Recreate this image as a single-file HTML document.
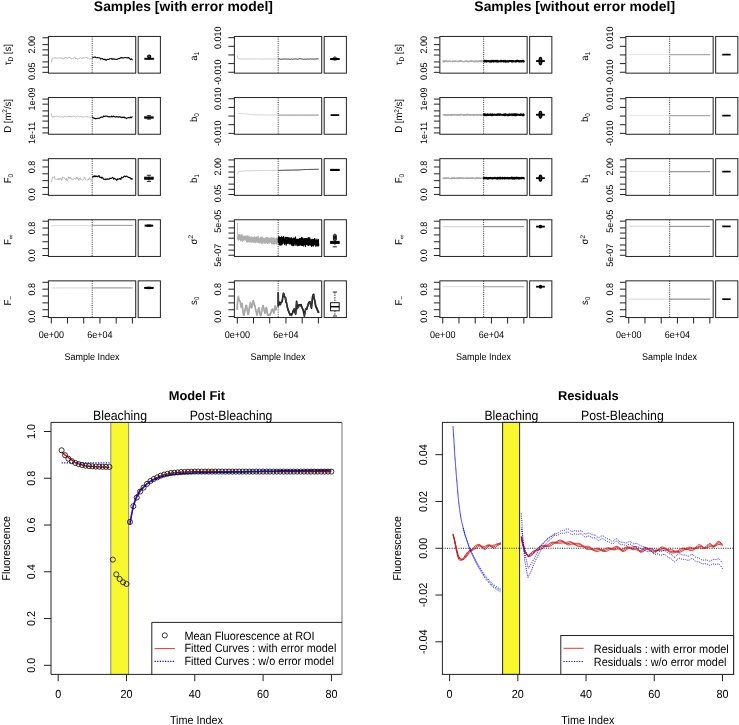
<!DOCTYPE html>
<html><head><meta charset="utf-8"><title>MCMC samples, model fit and residuals</title>
<style>
html,body{margin:0;padding:0;background:#fff;}
body{width:739px;height:725px;overflow:hidden;}
svg{display:block;will-change:transform;filter:blur(0.3px);}
text{font-family:"Liberation Sans",sans-serif;text-anchor:middle;fill:#000;text-rendering:geometricPrecision;}
</style></head>
<body>
<svg width="739" height="725" viewBox="0 0 739 725">
<rect x="0" y="0" width="739" height="725" fill="#fff"/>
<rect x="48.40" y="36.45" width="87.30" height="36.70" stroke="#222" stroke-width="1" fill="none" />
<rect x="138.20" y="36.45" width="22.20" height="36.70" stroke="#222" stroke-width="1" fill="none" />
<line x1="137.25" y1="36.95" x2="137.25" y2="72.65" stroke="#b4b4b4" stroke-width="1.0" />
<line x1="42.40" y1="37.75" x2="48.40" y2="37.75" stroke="#222" stroke-width="1" />
<line x1="42.40" y1="44.63" x2="48.40" y2="44.63" stroke="#222" stroke-width="1" />
<text transform="translate(35.20,44.63) rotate(-90) scale(1,1.05)" font-size="9.0">2.00</text>
<line x1="42.40" y1="49.84" x2="48.40" y2="49.84" stroke="#222" stroke-width="1" />
<line x1="42.40" y1="55.05" x2="48.40" y2="55.05" stroke="#222" stroke-width="1" />
<line x1="42.40" y1="61.93" x2="48.40" y2="61.93" stroke="#222" stroke-width="1" />
<line x1="42.40" y1="67.14" x2="48.40" y2="67.14" stroke="#222" stroke-width="1" />
<line x1="42.40" y1="72.35" x2="48.40" y2="72.35" stroke="#222" stroke-width="1" />
<text transform="translate(35.20,71.35) rotate(-90) scale(1,1.05)" font-size="9.0">0.05</text>
<text transform="translate(11.00,54.80) rotate(-90) scale(1,1.05)" font-size="9.5">τ<tspan font-size="6.5" dy="1.8">D</tspan><tspan dy="-1.8"> [s]</tspan></text>
<line x1="92.20" y1="36.45" x2="92.20" y2="73.15" stroke="#111" stroke-width="0.85" stroke-dasharray="1,1.2"/>
<path d="M51.5,62.2L52.0,59.0L52.5,58.4L53.0,58.5L53.6,58.1L54.1,58.1L54.6,58.2L55.1,57.4L55.6,58.2L56.1,58.5L56.7,58.1L57.2,58.1L57.7,58.4L58.2,58.2L58.7,58.1L59.2,57.5L59.7,58.1L60.3,58.2L60.8,58.3L61.3,57.6L61.8,58.6L62.3,58.5L62.8,58.2L63.3,59.2L63.9,58.8L64.4,57.9L64.9,57.9L65.4,57.0L65.9,58.0L66.4,57.9L67.0,57.7L67.5,58.4L68.0,57.6L68.5,58.1L69.0,57.2L69.5,57.3L70.0,57.2L70.6,58.3L71.1,59.0L71.6,58.6L72.1,58.8L72.6,58.5L73.1,58.7L73.7,58.2L74.2,57.4L74.7,56.9L75.2,57.6L75.7,58.9L76.2,58.8L76.7,58.3L77.3,59.2L77.8,58.9L78.3,58.7L78.8,58.6L79.3,58.4L79.8,58.2L80.4,57.6L80.9,58.1L81.4,58.1L81.9,58.7L82.4,58.4L82.9,57.5L83.4,57.7L84.0,58.7L84.5,58.3L85.0,57.9L85.5,57.5L86.0,57.3L86.5,57.6L87.0,57.3L87.6,58.4L88.1,58.2L88.6,58.3L89.1,58.9L89.6,59.3L90.1,58.8L90.7,58.7L91.2,58.9L91.7,58.5L92.2,57.6" stroke="#aaa" stroke-width="0.8" fill="none" stroke-linejoin="round" />
<path d="M92.2,57.7L92.7,57.8L93.2,57.7L93.7,57.2L94.3,57.1L94.8,57.0L95.3,57.0L95.8,57.5L96.3,57.8L96.8,57.7L97.3,57.6L97.8,57.8L98.4,57.7L98.9,57.8L99.4,57.7L99.9,57.9L100.4,59.0L100.9,59.1L101.4,58.8L101.9,58.7L102.5,58.6L103.0,59.1L103.5,59.5L104.0,59.1L104.5,59.6L105.0,59.3L105.5,59.9L106.0,59.7L106.6,60.1L107.1,59.5L107.6,59.2L108.1,59.3L108.6,59.5L109.1,59.4L109.6,58.7L110.1,58.8L110.7,58.8L111.2,58.7L111.7,58.6L112.2,59.4L112.7,59.0L113.2,58.7L113.7,59.1L114.2,59.1L114.8,59.0L115.3,59.3L115.8,59.3L116.3,59.3L116.8,59.5L117.3,59.3L117.8,58.8L118.3,58.7L118.9,58.5L119.4,58.6L119.9,58.2L120.4,57.7L120.9,58.1L121.4,57.8L121.9,57.4L122.4,57.9L123.0,57.8L123.5,58.1L124.0,57.9L124.5,57.6L125.0,57.4L125.5,57.6L126.0,57.8L126.5,57.7L127.1,57.9L127.6,57.6L128.1,58.0L128.6,57.5L129.1,58.0L129.6,58.6L130.1,59.1L130.6,59.6L131.2,58.8L131.7,59.2L132.2,59.7L132.7,59.9" stroke="#000" stroke-width="1.1" fill="none" stroke-linejoin="round" />
<rect x="144.80" y="58.25" width="8.80" height="0.90" stroke="#000" stroke-width="0.9" fill="none" />
<line x1="144.80" y1="58.75" x2="153.60" y2="58.75" stroke="#000" stroke-width="1.5" />
<circle cx="149.20" cy="56.55" r="1.5" fill="#444" stroke="#000" stroke-width="1.1"/>
<rect x="48.40" y="97.55" width="87.30" height="36.70" stroke="#222" stroke-width="1" fill="none" />
<rect x="138.20" y="97.55" width="22.20" height="36.70" stroke="#222" stroke-width="1" fill="none" />
<line x1="137.25" y1="98.05" x2="137.25" y2="133.75" stroke="#b4b4b4" stroke-width="1.0" />
<line x1="42.40" y1="99.05" x2="48.40" y2="99.05" stroke="#222" stroke-width="1" />
<text transform="translate(35.20,99.05) rotate(-90) scale(1,1.05)" font-size="9.0">1e-09</text>
<line x1="42.40" y1="104.15" x2="48.40" y2="104.15" stroke="#222" stroke-width="1" />
<line x1="42.40" y1="110.90" x2="48.40" y2="110.90" stroke="#222" stroke-width="1" />
<line x1="42.40" y1="116.00" x2="48.40" y2="116.00" stroke="#222" stroke-width="1" />
<line x1="42.40" y1="121.10" x2="48.40" y2="121.10" stroke="#222" stroke-width="1" />
<line x1="42.40" y1="127.85" x2="48.40" y2="127.85" stroke="#222" stroke-width="1" />
<line x1="42.40" y1="132.95" x2="48.40" y2="132.95" stroke="#222" stroke-width="1" />
<text transform="translate(35.20,132.95) rotate(-90) scale(1,1.05)" font-size="9.0">1e-11</text>
<text transform="translate(11.00,115.90) rotate(-90) scale(1,1.05)" font-size="9.5">D [m<tspan font-size="6.5" dy="-3.5">2</tspan><tspan dy="3.5">/s]</tspan></text>
<line x1="92.20" y1="97.55" x2="92.20" y2="134.25" stroke="#111" stroke-width="0.85" stroke-dasharray="1,1.2"/>
<path d="M51.5,113.2L52.0,117.2L52.5,117.4L53.0,116.5L53.6,116.8L54.1,117.2L54.6,116.7L55.1,116.9L55.6,116.4L56.1,116.2L56.7,116.1L57.2,116.4L57.7,116.5L58.2,117.0L58.7,116.5L59.2,116.5L59.7,117.0L60.3,117.1L60.8,116.4L61.3,116.8L61.8,116.6L62.3,116.8L62.8,116.9L63.3,117.3L63.9,117.1L64.4,116.2L64.9,115.9L65.4,116.5L65.9,116.5L66.4,117.0L67.0,117.0L67.5,116.6L68.0,117.1L68.5,116.6L69.0,115.8L69.5,117.0L70.0,116.1L70.6,116.6L71.1,117.0L71.6,116.9L72.1,116.2L72.6,116.8L73.1,116.2L73.7,115.8L74.2,116.0L74.7,116.6L75.2,116.8L75.7,117.1L76.2,116.7L76.7,116.7L77.3,116.2L77.8,116.3L78.3,116.7L78.8,116.6L79.3,116.8L79.8,116.5L80.4,116.4L80.9,116.5L81.4,116.5L81.9,116.8L82.4,116.8L82.9,117.5L83.4,117.1L84.0,116.8L84.5,116.4L85.0,116.5L85.5,116.9L86.0,116.5L86.5,116.6L87.0,116.9L87.6,116.8L88.1,116.5L88.6,117.0L89.1,116.9L89.6,117.0L90.1,117.3L90.7,117.5L91.2,117.1L91.7,116.7L92.2,116.8" stroke="#aaa" stroke-width="0.8" fill="none" stroke-linejoin="round" />
<path d="M92.2,117.5L92.7,117.1L93.2,117.9L93.7,118.1L94.3,118.4L94.8,118.1L95.3,118.8L95.8,118.6L96.3,118.8L96.8,118.4L97.3,118.4L97.8,118.3L98.4,118.2L98.9,118.2L99.4,118.0L99.9,118.1L100.4,117.6L100.9,117.1L101.4,117.0L101.9,117.1L102.5,117.2L103.0,117.1L103.5,116.1L104.0,116.2L104.5,116.5L105.0,116.2L105.5,116.0L106.0,116.2L106.6,116.1L107.1,116.4L107.6,116.4L108.1,116.9L108.6,116.8L109.1,116.5L109.6,116.8L110.1,117.0L110.7,116.8L111.2,116.7L111.7,116.1L112.2,116.9L112.7,116.8L113.2,116.3L113.7,116.1L114.2,116.5L114.8,116.9L115.3,116.9L115.8,117.1L116.3,116.7L116.8,116.4L117.3,116.9L117.8,117.0L118.3,116.9L118.9,117.2L119.4,116.7L119.9,116.6L120.4,117.0L120.9,117.4L121.4,117.2L121.9,117.7L122.4,117.3L123.0,117.4L123.5,117.4L124.0,117.0L124.5,117.5L125.0,118.0L125.5,117.9L126.0,118.0L126.5,118.6L127.1,118.1L127.6,117.8L128.1,117.7L128.6,117.4L129.1,117.9L129.6,117.8L130.1,117.3L130.6,117.1L131.2,117.9L131.7,117.2L132.2,116.8L132.7,116.8" stroke="#000" stroke-width="1.1" fill="none" stroke-linejoin="round" />
<rect x="144.60" y="116.85" width="8.60" height="1.30" stroke="#000" stroke-width="0.9" fill="none" />
<line x1="144.60" y1="117.55" x2="153.20" y2="117.55" stroke="#000" stroke-width="1.4" />
<line x1="148.90" y1="115.65" x2="148.90" y2="116.85" stroke="#000" stroke-width="0.8" stroke-dasharray="1.5,1"/>
<line x1="146.75" y1="115.65" x2="151.05" y2="115.65" stroke="#000" stroke-width="0.8" />
<line x1="148.90" y1="118.15" x2="148.90" y2="119.15" stroke="#000" stroke-width="0.8" stroke-dasharray="1.5,1"/>
<line x1="146.75" y1="119.15" x2="151.05" y2="119.15" stroke="#000" stroke-width="0.8" />
<rect x="48.40" y="158.65" width="87.30" height="36.70" stroke="#222" stroke-width="1" fill="none" />
<rect x="138.20" y="158.65" width="22.20" height="36.70" stroke="#222" stroke-width="1" fill="none" />
<line x1="137.25" y1="159.15" x2="137.25" y2="194.85" stroke="#b4b4b4" stroke-width="1.0" />
<line x1="42.40" y1="194.40" x2="48.40" y2="194.40" stroke="#222" stroke-width="1" />
<text transform="translate(35.20,194.40) rotate(-90) scale(1,1.05)" font-size="9.0">0.0</text>
<line x1="42.40" y1="187.54" x2="48.40" y2="187.54" stroke="#222" stroke-width="1" />
<line x1="42.40" y1="180.68" x2="48.40" y2="180.68" stroke="#222" stroke-width="1" />
<line x1="42.40" y1="173.82" x2="48.40" y2="173.82" stroke="#222" stroke-width="1" />
<line x1="42.40" y1="166.96" x2="48.40" y2="166.96" stroke="#222" stroke-width="1" />
<text transform="translate(35.20,166.96) rotate(-90) scale(1,1.05)" font-size="9.0">0.8</text>
<line x1="42.40" y1="160.10" x2="48.40" y2="160.10" stroke="#222" stroke-width="1" />
<text transform="translate(11.00,178.60) rotate(-90) scale(1,1.05)" font-size="9.5">F<tspan font-size="6.5" dy="1.8">0</tspan></text>
<line x1="92.20" y1="158.65" x2="92.20" y2="195.35" stroke="#111" stroke-width="0.85" stroke-dasharray="1,1.2"/>
<path d="M51.5,182.2L52.0,179.7L52.5,177.9L53.0,176.7L53.6,177.5L54.1,177.6L54.6,176.5L55.1,179.1L55.6,179.5L56.1,179.0L56.7,179.2L57.2,180.0L57.7,179.5L58.2,178.6L58.7,179.8L59.2,178.3L59.7,179.5L60.3,178.0L60.8,178.8L61.3,178.8L61.8,180.3L62.3,178.0L62.8,177.0L63.3,177.4L63.9,177.0L64.4,177.5L64.9,178.5L65.4,179.1L65.9,180.1L66.4,178.2L67.0,180.9L67.5,180.9L68.0,178.9L68.5,176.7L69.0,178.3L69.5,178.8L70.0,176.9L70.6,178.6L71.1,178.8L71.6,178.4L72.1,179.6L72.6,180.1L73.1,178.9L73.7,179.3L74.2,178.5L74.7,178.3L75.2,179.0L75.7,179.5L76.2,178.6L76.7,177.0L77.3,179.1L77.8,177.6L78.3,178.8L78.8,180.5L79.3,179.3L79.8,177.9L80.4,177.5L80.9,179.9L81.4,179.4L81.9,179.8L82.4,180.4L82.9,179.7L83.4,179.4L84.0,178.8L84.5,176.9L85.0,178.0L85.5,179.6L86.0,179.9L86.5,180.3L87.0,179.8L87.6,179.9L88.1,180.3L88.6,178.8L89.1,178.9L89.6,177.6L90.1,179.6L90.7,179.0L91.2,179.2L91.7,180.1L92.2,179.7" stroke="#aaa" stroke-width="0.8" fill="none" stroke-linejoin="round" />
<path d="M92.2,176.8L92.7,177.1L93.2,176.1L93.7,176.6L94.3,176.6L94.8,175.7L95.3,176.8L95.8,176.1L96.3,176.5L96.8,176.1L97.3,176.6L97.8,176.9L98.4,175.9L98.9,175.6L99.4,176.4L99.9,177.4L100.4,177.3L100.9,177.3L101.4,178.1L101.9,177.0L102.5,177.9L103.0,178.1L103.5,179.2L104.0,179.2L104.5,179.3L105.0,179.6L105.5,179.0L106.0,179.4L106.6,179.1L107.1,179.1L107.6,178.8L108.1,179.4L108.6,179.0L109.1,179.0L109.6,178.9L110.1,178.1L110.7,178.5L111.2,178.4L111.7,178.2L112.2,177.7L112.7,177.4L113.2,178.1L113.7,179.2L114.2,178.3L114.8,178.8L115.3,178.7L115.8,179.5L116.3,179.7L116.8,180.3L117.3,178.7L117.8,179.4L118.3,179.1L118.9,179.3L119.4,178.8L119.9,178.5L120.4,178.9L120.9,179.5L121.4,177.1L121.9,177.5L122.4,177.7L123.0,177.5L123.5,177.0L124.0,176.2L124.5,176.0L125.0,176.6L125.5,176.7L126.0,176.3L126.5,176.0L127.1,176.5L127.6,176.7L128.1,177.3L128.6,177.4L129.1,177.3L129.6,177.8L130.1,177.5L130.6,178.5L131.2,179.2L131.7,178.4L132.2,179.1L132.7,178.8" stroke="#000" stroke-width="1.1" fill="none" stroke-linejoin="round" />
<rect x="144.60" y="177.15" width="8.60" height="2.10" stroke="#000" stroke-width="0.9" fill="none" />
<line x1="144.60" y1="178.25" x2="153.20" y2="178.25" stroke="#000" stroke-width="2.0" />
<line x1="148.90" y1="175.25" x2="148.90" y2="177.15" stroke="#000" stroke-width="0.8" stroke-dasharray="1.5,1"/>
<line x1="146.75" y1="175.25" x2="151.05" y2="175.25" stroke="#000" stroke-width="0.8" />
<line x1="148.90" y1="179.25" x2="148.90" y2="181.45" stroke="#000" stroke-width="0.8" stroke-dasharray="1.5,1"/>
<line x1="146.75" y1="181.45" x2="151.05" y2="181.45" stroke="#000" stroke-width="0.8" />
<rect x="48.40" y="219.75" width="87.30" height="36.70" stroke="#222" stroke-width="1" fill="none" />
<rect x="138.20" y="219.75" width="22.20" height="36.70" stroke="#222" stroke-width="1" fill="none" />
<line x1="137.25" y1="220.25" x2="137.25" y2="255.95" stroke="#b4b4b4" stroke-width="1.0" />
<line x1="42.40" y1="255.50" x2="48.40" y2="255.50" stroke="#222" stroke-width="1" />
<text transform="translate(35.20,255.50) rotate(-90) scale(1,1.05)" font-size="9.0">0.0</text>
<line x1="42.40" y1="248.64" x2="48.40" y2="248.64" stroke="#222" stroke-width="1" />
<line x1="42.40" y1="241.78" x2="48.40" y2="241.78" stroke="#222" stroke-width="1" />
<line x1="42.40" y1="234.92" x2="48.40" y2="234.92" stroke="#222" stroke-width="1" />
<line x1="42.40" y1="228.06" x2="48.40" y2="228.06" stroke="#222" stroke-width="1" />
<text transform="translate(35.20,228.06) rotate(-90) scale(1,1.05)" font-size="9.0">0.8</text>
<line x1="42.40" y1="221.20" x2="48.40" y2="221.20" stroke="#222" stroke-width="1" />
<text transform="translate(11.00,239.70) rotate(-90) scale(1,1.05)" font-size="9.5">F<tspan font-size="6.5" dy="1.8">∞</tspan></text>
<line x1="92.20" y1="219.75" x2="92.20" y2="256.45" stroke="#111" stroke-width="0.85" stroke-dasharray="1,1.2"/>
<path d="M51.5,226.6L52.0,225.7L52.5,225.7L53.0,225.7L53.6,225.7L54.1,225.7L54.6,225.7L55.1,225.7L55.6,225.7L56.1,225.7L56.7,225.7L57.2,225.7L57.7,225.7L58.2,225.7L58.7,225.7L59.2,225.7L59.7,225.7L60.3,225.7L60.8,225.7L61.3,225.7L61.8,225.7L62.3,225.7L62.8,225.7L63.3,225.7L63.9,225.7L64.4,225.7L64.9,225.7L65.4,225.7L65.9,225.7L66.4,225.7L67.0,225.7L67.5,225.7L68.0,225.7L68.5,225.7L69.0,225.7L69.5,225.7L70.0,225.7L70.6,225.7L71.1,225.7L71.6,225.7L72.1,225.7L72.6,225.7L73.1,225.7L73.7,225.7L74.2,225.7L74.7,225.7L75.2,225.7L75.7,225.7L76.2,225.7L76.7,225.7L77.3,225.7L77.8,225.7L78.3,225.7L78.8,225.7L79.3,225.7L79.8,225.7L80.4,225.7L80.9,225.7L81.4,225.7L81.9,225.7L82.4,225.7L82.9,225.7L83.4,225.7L84.0,225.7L84.5,225.7L85.0,225.7L85.5,225.7L86.0,225.7L86.5,225.7L87.0,225.7L87.6,225.7L88.1,225.7L88.6,225.7L89.1,225.7L89.6,225.7L90.1,225.7L90.7,225.7L91.2,225.7L91.7,225.7L92.2,225.7" stroke="#c8c8c8" stroke-width="0.8" fill="none" stroke-linejoin="round" />
<path d="M92.2,225.4L92.7,225.4L93.2,225.4L93.7,225.4L94.3,225.4L94.8,225.4L95.3,225.4L95.8,225.4L96.3,225.4L96.8,225.4L97.3,225.4L97.8,225.4L98.4,225.4L98.9,225.4L99.4,225.4L99.9,225.4L100.4,225.4L100.9,225.4L101.4,225.4L101.9,225.4L102.5,225.4L103.0,225.4L103.5,225.4L104.0,225.4L104.5,225.4L105.0,225.4L105.5,225.4L106.0,225.4L106.6,225.4L107.1,225.4L107.6,225.4L108.1,225.4L108.6,225.4L109.1,225.4L109.6,225.4L110.1,225.4L110.7,225.4L111.2,225.4L111.7,225.4L112.2,225.4L112.7,225.4L113.2,225.4L113.7,225.4L114.2,225.4L114.8,225.4L115.3,225.4L115.8,225.4L116.3,225.4L116.8,225.4L117.3,225.4L117.8,225.4L118.3,225.4L118.9,225.4L119.4,225.4L119.9,225.4L120.4,225.4L120.9,225.4L121.4,225.4L121.9,225.4L122.4,225.4L123.0,225.4L123.5,225.4L124.0,225.4L124.5,225.4L125.0,225.4L125.5,225.4L126.0,225.4L126.5,225.4L127.1,225.4L127.6,225.4L128.1,225.4L128.6,225.4L129.1,225.4L129.6,225.4L130.1,225.4L130.6,225.4L131.2,225.4L131.7,225.4L132.2,225.4L132.7,225.4" stroke="#777" stroke-width="1.0" fill="none" stroke-linejoin="round" />
<line x1="144.60" y1="225.65" x2="153.20" y2="225.65" stroke="#000" stroke-width="2.0" />
<line x1="148.90" y1="224.95" x2="148.90" y2="225.35" stroke="#000" stroke-width="0.8" stroke-dasharray="1.5,1"/>
<line x1="146.75" y1="224.95" x2="151.05" y2="224.95" stroke="#000" stroke-width="0.8" />
<line x1="148.90" y1="225.95" x2="148.90" y2="226.35" stroke="#000" stroke-width="0.8" stroke-dasharray="1.5,1"/>
<line x1="146.75" y1="226.35" x2="151.05" y2="226.35" stroke="#000" stroke-width="0.8" />
<rect x="48.40" y="280.85" width="87.30" height="36.70" stroke="#222" stroke-width="1" fill="none" />
<rect x="138.20" y="280.85" width="22.20" height="36.70" stroke="#222" stroke-width="1" fill="none" />
<line x1="137.25" y1="281.35" x2="137.25" y2="317.05" stroke="#b4b4b4" stroke-width="1.0" />
<line x1="42.40" y1="316.60" x2="48.40" y2="316.60" stroke="#222" stroke-width="1" />
<text transform="translate(35.20,316.60) rotate(-90) scale(1,1.05)" font-size="9.0">0.0</text>
<line x1="42.40" y1="309.74" x2="48.40" y2="309.74" stroke="#222" stroke-width="1" />
<line x1="42.40" y1="302.88" x2="48.40" y2="302.88" stroke="#222" stroke-width="1" />
<line x1="42.40" y1="296.02" x2="48.40" y2="296.02" stroke="#222" stroke-width="1" />
<line x1="42.40" y1="289.16" x2="48.40" y2="289.16" stroke="#222" stroke-width="1" />
<text transform="translate(35.20,289.16) rotate(-90) scale(1,1.05)" font-size="9.0">0.8</text>
<line x1="42.40" y1="282.30" x2="48.40" y2="282.30" stroke="#222" stroke-width="1" />
<text transform="translate(11.00,300.80) rotate(-90) scale(1,1.05)" font-size="9.5">F<tspan font-size="6.5" dy="1.8">−</tspan></text>
<line x1="92.20" y1="280.85" x2="92.20" y2="317.55" stroke="#111" stroke-width="0.85" stroke-dasharray="1,1.2"/>
<line x1="51.30" y1="317.55" x2="51.30" y2="323.55" stroke="#222" stroke-width="1" />
<line x1="67.52" y1="317.55" x2="67.52" y2="323.55" stroke="#222" stroke-width="1" />
<line x1="83.74" y1="317.55" x2="83.74" y2="323.55" stroke="#222" stroke-width="1" />
<line x1="99.96" y1="317.55" x2="99.96" y2="323.55" stroke="#222" stroke-width="1" />
<line x1="116.18" y1="317.55" x2="116.18" y2="323.55" stroke="#222" stroke-width="1" />
<line x1="132.40" y1="317.55" x2="132.40" y2="323.55" stroke="#222" stroke-width="1" />
<text transform="translate(51.30,337.60) scale(1,1.09)" font-size="9.0">0e+00</text>
<text transform="translate(99.96,337.60) scale(1,1.09)" font-size="9.0">6e+04</text>
<text transform="translate(92.10,359.60) scale(1,1.09)" font-size="9.0">Sample Index</text>
<path d="M51.5,287.9L52.0,287.9L52.5,287.9L53.0,287.9L53.6,287.9L54.1,287.9L54.6,287.9L55.1,287.9L55.6,287.9L56.1,287.9L56.7,287.9L57.2,287.9L57.7,287.9L58.2,287.9L58.7,287.9L59.2,287.9L59.7,287.9L60.3,287.9L60.8,287.9L61.3,287.9L61.8,287.9L62.3,287.9L62.8,287.9L63.3,287.9L63.9,287.9L64.4,287.9L64.9,287.9L65.4,287.9L65.9,287.9L66.4,287.9L67.0,287.9L67.5,287.9L68.0,287.9L68.5,287.9L69.0,287.9L69.5,287.9L70.0,287.9L70.6,287.9L71.1,287.9L71.6,287.9L72.1,287.9L72.6,287.9L73.1,287.9L73.7,287.9L74.2,287.9L74.7,287.9L75.2,287.9L75.7,287.9L76.2,287.9L76.7,287.9L77.3,287.9L77.8,287.9L78.3,287.9L78.8,287.9L79.3,287.9L79.8,287.9L80.4,287.9L80.9,287.9L81.4,287.9L81.9,287.9L82.4,287.9L82.9,287.9L83.4,287.9L84.0,287.9L84.5,287.9L85.0,287.9L85.5,287.9L86.0,287.9L86.5,287.9L87.0,287.9L87.6,287.9L88.1,287.9L88.6,287.9L89.1,287.9L89.6,287.9L90.1,287.9L90.7,287.9L91.2,287.9L91.7,287.9L92.2,287.9" stroke="#c8c8c8" stroke-width="0.8" fill="none" stroke-linejoin="round" />
<path d="M92.2,287.9L92.7,287.9L93.2,287.9L93.7,287.9L94.3,287.9L94.8,287.9L95.3,287.9L95.8,287.9L96.3,287.9L96.8,287.9L97.3,287.9L97.8,287.9L98.4,287.9L98.9,287.9L99.4,287.9L99.9,287.9L100.4,287.9L100.9,287.9L101.4,287.9L101.9,287.9L102.5,287.9L103.0,287.9L103.5,287.9L104.0,287.9L104.5,287.9L105.0,287.9L105.5,287.9L106.0,287.9L106.6,287.9L107.1,287.9L107.6,287.9L108.1,287.9L108.6,287.9L109.1,287.9L109.6,287.9L110.1,287.9L110.7,287.9L111.2,287.9L111.7,287.9L112.2,287.9L112.7,287.9L113.2,287.9L113.7,287.9L114.2,287.9L114.8,287.9L115.3,287.9L115.8,287.9L116.3,287.9L116.8,287.9L117.3,287.9L117.8,287.9L118.3,287.9L118.9,287.9L119.4,287.9L119.9,287.9L120.4,287.9L120.9,287.9L121.4,287.9L121.9,287.9L122.4,287.9L123.0,287.9L123.5,287.9L124.0,287.9L124.5,287.9L125.0,287.9L125.5,287.9L126.0,287.9L126.5,287.9L127.1,287.9L127.6,287.9L128.1,287.9L128.6,287.9L129.1,287.9L129.6,287.9L130.1,287.9L130.6,287.9L131.2,287.9L131.7,287.9L132.2,287.9L132.7,287.9" stroke="#777" stroke-width="1.0" fill="none" stroke-linejoin="round" />
<rect x="144.60" y="287.55" width="8.60" height="0.70" stroke="#000" stroke-width="0.9" fill="none" />
<line x1="144.60" y1="287.90" x2="153.20" y2="287.90" stroke="#000" stroke-width="2.0" />
<line x1="148.90" y1="287.15" x2="148.90" y2="287.55" stroke="#000" stroke-width="0.8" stroke-dasharray="1.5,1"/>
<line x1="146.75" y1="287.15" x2="151.05" y2="287.15" stroke="#000" stroke-width="0.8" />
<line x1="148.90" y1="288.25" x2="148.90" y2="288.65" stroke="#000" stroke-width="0.8" stroke-dasharray="1.5,1"/>
<line x1="146.75" y1="288.65" x2="151.05" y2="288.65" stroke="#000" stroke-width="0.8" />
<rect x="234.40" y="36.45" width="87.30" height="36.70" stroke="#222" stroke-width="1" fill="none" />
<rect x="324.20" y="36.45" width="22.20" height="36.70" stroke="#222" stroke-width="1" fill="none" />
<line x1="323.25" y1="36.95" x2="323.25" y2="72.65" stroke="#b4b4b4" stroke-width="1.0" />
<line x1="228.40" y1="37.65" x2="234.40" y2="37.65" stroke="#222" stroke-width="1" />
<text transform="translate(221.20,37.65) rotate(-90) scale(1,1.05)" font-size="9.0">0.010</text>
<line x1="228.40" y1="46.30" x2="234.40" y2="46.30" stroke="#222" stroke-width="1" />
<line x1="228.40" y1="54.95" x2="234.40" y2="54.95" stroke="#222" stroke-width="1" />
<line x1="228.40" y1="63.60" x2="234.40" y2="63.60" stroke="#222" stroke-width="1" />
<line x1="228.40" y1="72.25" x2="234.40" y2="72.25" stroke="#222" stroke-width="1" />
<text transform="translate(221.20,72.25) rotate(-90) scale(1,1.05)" font-size="9.0">-0.010</text>
<text transform="translate(197.00,56.40) rotate(-90) scale(1,1.05)" font-size="9.5">a<tspan font-size="6.5" dy="1.8">1</tspan></text>
<line x1="278.20" y1="36.45" x2="278.20" y2="73.15" stroke="#111" stroke-width="0.85" stroke-dasharray="1,1.2"/>
<path d="M237.5,55.7L238.0,58.7L238.5,59.0L239.0,59.1L239.6,59.0L240.1,58.9L240.6,58.9L241.1,59.0L241.6,59.0L242.1,59.0L242.7,58.9L243.2,59.1L243.7,59.1L244.2,59.0L244.7,58.9L245.2,59.0L245.7,59.1L246.3,59.0L246.8,58.9L247.3,59.0L247.8,59.1L248.3,58.9L248.8,59.0L249.3,59.0L249.9,58.9L250.4,59.0L250.9,58.9L251.4,59.0L251.9,59.1L252.4,59.1L253.0,58.9L253.5,58.8L254.0,58.8L254.5,58.8L255.0,59.1L255.5,59.0L256.0,58.9L256.6,58.8L257.1,58.8L257.6,58.9L258.1,58.8L258.6,59.1L259.1,59.0L259.7,58.9L260.2,59.0L260.7,59.1L261.2,59.2L261.7,59.0L262.2,59.0L262.7,59.0L263.3,59.1L263.8,59.0L264.3,58.9L264.8,58.8L265.3,59.0L265.8,58.9L266.4,59.1L266.9,59.0L267.4,58.9L267.9,58.9L268.4,58.9L268.9,59.0L269.4,59.1L270.0,58.9L270.5,58.8L271.0,59.0L271.5,59.0L272.0,59.0L272.5,59.0L273.0,59.0L273.6,59.1L274.1,58.9L274.6,59.0L275.1,58.9L275.6,58.9L276.1,59.0L276.7,59.1L277.2,58.8L277.7,58.8L278.2,59.0" stroke="#bbb" stroke-width="0.8" fill="none" stroke-linejoin="round" />
<path d="M278.2,59.2L278.7,58.9L279.2,59.0L279.7,58.8L280.3,59.3L280.8,59.2L281.3,59.2L281.8,59.2L282.3,59.2L282.8,59.1L283.3,59.0L283.8,59.1L284.4,59.0L284.9,59.2L285.4,59.0L285.9,58.9L286.4,59.1L286.9,59.2L287.4,59.1L287.9,58.9L288.5,59.0L289.0,58.9L289.5,59.3L290.0,59.2L290.5,59.3L291.0,59.1L291.5,59.0L292.0,59.2L292.6,59.3L293.1,59.2L293.6,59.0L294.1,59.2L294.6,59.0L295.1,59.1L295.6,58.9L296.1,58.8L296.7,59.0L297.2,59.1L297.7,59.3L298.2,59.0L298.7,59.0L299.2,58.8L299.7,58.7L300.2,58.6L300.8,59.0L301.3,58.8L301.8,59.1L302.3,59.2L302.8,59.0L303.3,59.3L303.8,59.1L304.3,59.2L304.9,59.0L305.4,59.2L305.9,58.9L306.4,59.1L306.9,59.0L307.4,59.0L307.9,59.1L308.4,59.1L309.0,59.0L309.5,59.1L310.0,59.2L310.5,58.8L311.0,59.0L311.5,59.1L312.0,58.9L312.5,59.0L313.1,58.8L313.6,59.2L314.1,59.0L314.6,59.0L315.1,59.2L315.6,59.0L316.1,59.1L316.6,58.9L317.2,58.9L317.7,58.8L318.2,58.9L318.7,59.1" stroke="#1a1a1a" stroke-width="0.9" fill="none" stroke-linejoin="round" />
<rect x="330.60" y="58.55" width="8.60" height="0.90" stroke="#000" stroke-width="0.9" fill="none" />
<line x1="330.60" y1="59.00" x2="339.20" y2="59.00" stroke="#000" stroke-width="2.0" />
<line x1="334.90" y1="58.15" x2="334.90" y2="58.55" stroke="#000" stroke-width="0.8" stroke-dasharray="1.5,1"/>
<line x1="332.75" y1="58.15" x2="337.05" y2="58.15" stroke="#000" stroke-width="0.8" />
<line x1="334.90" y1="59.45" x2="334.90" y2="59.85" stroke="#000" stroke-width="0.8" stroke-dasharray="1.5,1"/>
<line x1="332.75" y1="59.85" x2="337.05" y2="59.85" stroke="#000" stroke-width="0.8" />
<circle cx="334.90" cy="58.45" r="1.5" fill="none" stroke="#000" stroke-width="0.8"/>
<rect x="234.40" y="97.55" width="87.30" height="36.70" stroke="#222" stroke-width="1" fill="none" />
<rect x="324.20" y="97.55" width="22.20" height="36.70" stroke="#222" stroke-width="1" fill="none" />
<line x1="323.25" y1="98.05" x2="323.25" y2="133.75" stroke="#b4b4b4" stroke-width="1.0" />
<line x1="228.40" y1="98.75" x2="234.40" y2="98.75" stroke="#222" stroke-width="1" />
<text transform="translate(221.20,98.75) rotate(-90) scale(1,1.05)" font-size="9.0">0.010</text>
<line x1="228.40" y1="107.40" x2="234.40" y2="107.40" stroke="#222" stroke-width="1" />
<line x1="228.40" y1="116.05" x2="234.40" y2="116.05" stroke="#222" stroke-width="1" />
<line x1="228.40" y1="124.70" x2="234.40" y2="124.70" stroke="#222" stroke-width="1" />
<line x1="228.40" y1="133.35" x2="234.40" y2="133.35" stroke="#222" stroke-width="1" />
<text transform="translate(221.20,133.35) rotate(-90) scale(1,1.05)" font-size="9.0">-0.010</text>
<text transform="translate(197.00,117.50) rotate(-90) scale(1,1.05)" font-size="9.5">b<tspan font-size="6.5" dy="1.8">0</tspan></text>
<line x1="278.20" y1="97.55" x2="278.20" y2="134.25" stroke="#111" stroke-width="0.85" stroke-dasharray="1,1.2"/>
<path d="M237.5,113.5L238.0,113.5L238.5,113.5L239.0,113.5L239.6,113.6L240.1,113.6L240.6,113.6L241.1,113.6L241.6,113.7L242.1,113.7L242.7,113.7L243.2,113.7L243.7,113.8L244.2,113.8L244.7,113.9L245.2,113.9L245.7,114.0L246.3,114.0L246.8,114.1L247.3,114.1L247.8,114.2L248.3,114.3L248.8,114.3L249.3,114.4L249.9,114.4L250.4,114.5L250.9,114.5L251.4,114.6L251.9,114.6L252.4,114.7L253.0,114.8L253.5,114.8L254.0,114.9L254.5,114.9L255.0,114.9L255.5,114.9L256.0,114.9L256.6,114.9L257.1,114.9L257.6,114.9L258.1,114.9L258.6,114.9L259.1,114.9L259.7,114.9L260.2,114.9L260.7,114.9L261.2,114.9L261.7,114.9L262.2,114.9L262.7,114.9L263.3,114.9L263.8,114.9L264.3,114.9L264.8,114.9L265.3,114.9L265.8,114.9L266.4,115.0L266.9,115.0L267.4,115.0L267.9,115.0L268.4,115.0L268.9,115.0L269.4,115.0L270.0,115.0L270.5,115.0L271.0,115.0L271.5,115.0L272.0,115.0L272.5,115.0L273.0,115.0L273.6,115.0L274.1,115.0L274.6,115.0L275.1,115.0L275.6,115.0L276.1,115.0L276.7,115.0L277.2,115.0L277.7,115.0L278.2,115.1" stroke="#c8c8c8" stroke-width="0.8" fill="none" stroke-linejoin="round" />
<path d="M278.2,115.1L278.7,115.1L279.2,115.1L279.7,115.1L280.3,115.1L280.8,115.1L281.3,115.1L281.8,115.1L282.3,115.1L282.8,115.1L283.3,115.1L283.8,115.1L284.4,115.1L284.9,115.1L285.4,115.1L285.9,115.1L286.4,115.1L286.9,115.1L287.4,115.1L287.9,115.1L288.5,115.1L289.0,115.1L289.5,115.1L290.0,115.1L290.5,115.1L291.0,115.1L291.5,115.1L292.0,115.1L292.6,115.1L293.1,115.1L293.6,115.1L294.1,115.1L294.6,115.1L295.1,115.1L295.6,115.1L296.1,115.1L296.7,115.1L297.2,115.1L297.7,115.1L298.2,115.1L298.7,115.1L299.2,115.1L299.7,115.1L300.2,115.1L300.8,115.1L301.3,115.1L301.8,115.1L302.3,115.1L302.8,115.1L303.3,115.1L303.8,115.1L304.3,115.1L304.9,115.1L305.4,115.1L305.9,115.1L306.4,115.1L306.9,115.1L307.4,115.1L307.9,115.1L308.4,115.1L309.0,115.1L309.5,115.1L310.0,115.1L310.5,115.1L311.0,115.1L311.5,115.1L312.0,115.1L312.5,115.1L313.1,115.1L313.6,115.1L314.1,115.1L314.6,115.1L315.1,115.1L315.6,115.1L316.1,115.1L316.6,115.1L317.2,115.1L317.7,115.1L318.2,115.1L318.7,115.1" stroke="#777" stroke-width="1.0" fill="none" stroke-linejoin="round" />
<line x1="330.60" y1="115.10" x2="339.20" y2="115.10" stroke="#000" stroke-width="1.7999999999999998" />
<rect x="234.40" y="158.65" width="87.30" height="36.70" stroke="#222" stroke-width="1" fill="none" />
<rect x="324.20" y="158.65" width="22.20" height="36.70" stroke="#222" stroke-width="1" fill="none" />
<line x1="323.25" y1="159.15" x2="323.25" y2="194.85" stroke="#b4b4b4" stroke-width="1.0" />
<line x1="228.40" y1="159.95" x2="234.40" y2="159.95" stroke="#222" stroke-width="1" />
<line x1="228.40" y1="166.83" x2="234.40" y2="166.83" stroke="#222" stroke-width="1" />
<text transform="translate(221.20,166.83) rotate(-90) scale(1,1.05)" font-size="9.0">2.00</text>
<line x1="228.40" y1="172.04" x2="234.40" y2="172.04" stroke="#222" stroke-width="1" />
<line x1="228.40" y1="177.25" x2="234.40" y2="177.25" stroke="#222" stroke-width="1" />
<line x1="228.40" y1="184.13" x2="234.40" y2="184.13" stroke="#222" stroke-width="1" />
<line x1="228.40" y1="189.34" x2="234.40" y2="189.34" stroke="#222" stroke-width="1" />
<line x1="228.40" y1="194.55" x2="234.40" y2="194.55" stroke="#222" stroke-width="1" />
<text transform="translate(221.20,193.55) rotate(-90) scale(1,1.05)" font-size="9.0">0.05</text>
<text transform="translate(197.00,178.60) rotate(-90) scale(1,1.05)" font-size="9.5">b<tspan font-size="6.5" dy="1.8">1</tspan></text>
<line x1="278.20" y1="158.65" x2="278.20" y2="195.35" stroke="#111" stroke-width="0.85" stroke-dasharray="1,1.2"/>
<path d="M237.5,174.2L238.0,173.1L238.5,171.9L239.0,171.4L239.6,171.4L240.1,171.3L240.6,171.3L241.1,171.2L241.6,171.2L242.1,171.2L242.7,171.1L243.2,171.1L243.7,171.0L244.2,171.0L244.7,170.9L245.2,170.9L245.7,170.8L246.3,170.8L246.8,170.8L247.3,170.8L247.8,170.8L248.3,170.8L248.8,170.8L249.3,170.8L249.9,170.7L250.4,170.7L250.9,170.7L251.4,170.7L251.9,170.7L252.4,170.7L253.0,170.7L253.5,170.7L254.0,170.6L254.5,170.6L255.0,170.6L255.5,170.6L256.0,170.6L256.6,170.6L257.1,170.6L257.6,170.6L258.1,170.5L258.6,170.5L259.1,170.5L259.7,170.5L260.2,170.5L260.7,170.5L261.2,170.5L261.7,170.5L262.2,170.5L262.7,170.5L263.3,170.5L263.8,170.5L264.3,170.5L264.8,170.5L265.3,170.5L265.8,170.5L266.4,170.5L266.9,170.5L267.4,170.5L267.9,170.5L268.4,170.5L268.9,170.5L269.4,170.5L270.0,170.5L270.5,170.5L271.0,170.5L271.5,170.4L272.0,170.4L272.5,170.4L273.0,170.4L273.6,170.4L274.1,170.4L274.6,170.4L275.1,170.4L275.6,170.4L276.1,170.4L276.7,170.4L277.2,170.4L277.7,170.4L278.2,170.4" stroke="#c0c0c0" stroke-width="0.8" fill="none" stroke-linejoin="round" />
<path d="M278.2,170.4L278.7,170.4L279.2,170.4L279.7,170.4L280.3,170.4L280.8,170.3L281.3,170.3L281.8,170.3L282.3,170.3L282.8,170.3L283.3,170.3L283.8,170.3L284.4,170.3L284.9,170.3L285.4,170.2L285.9,170.2L286.4,170.2L286.9,170.2L287.4,170.2L287.9,170.2L288.5,170.2L289.0,170.2L289.5,170.1L290.0,170.1L290.5,170.1L291.0,170.1L291.5,170.1L292.0,170.1L292.6,170.1L293.1,170.1L293.6,170.1L294.1,170.0L294.6,170.0L295.1,170.0L295.6,170.0L296.1,170.0L296.7,170.0L297.2,170.0L297.7,170.0L298.2,170.0L298.7,169.9L299.2,169.9L299.7,169.9L300.2,169.8L300.8,169.8L301.3,169.8L301.8,169.7L302.3,169.7L302.8,169.7L303.3,169.6L303.8,169.6L304.3,169.6L304.9,169.5L305.4,169.5L305.9,169.5L306.4,169.5L306.9,169.5L307.4,169.5L307.9,169.5L308.4,169.5L309.0,169.5L309.5,169.4L310.0,169.4L310.5,169.4L311.0,169.4L311.5,169.4L312.0,169.4L312.5,169.4L313.1,169.4L313.6,169.4L314.1,169.3L314.6,169.3L315.1,169.3L315.6,169.3L316.1,169.3L316.6,169.3L317.2,169.3L317.7,169.3L318.2,169.3L318.7,169.2" stroke="#222" stroke-width="1.0" fill="none" stroke-linejoin="round" />
<rect x="330.60" y="169.35" width="8.60" height="1.20" stroke="#000" stroke-width="0.9" fill="none" />
<line x1="330.60" y1="169.95" x2="339.20" y2="169.95" stroke="#000" stroke-width="2.0" />
<rect x="234.40" y="219.75" width="87.30" height="36.70" stroke="#222" stroke-width="1" fill="none" />
<rect x="324.20" y="219.75" width="22.20" height="36.70" stroke="#222" stroke-width="1" fill="none" />
<line x1="323.25" y1="220.25" x2="323.25" y2="255.95" stroke="#b4b4b4" stroke-width="1.0" />
<line x1="228.40" y1="221.15" x2="234.40" y2="221.15" stroke="#222" stroke-width="1" />
<text transform="translate(221.20,221.15) rotate(-90) scale(1,1.05)" font-size="9.0">5e-05</text>
<line x1="228.40" y1="227.93" x2="234.40" y2="227.93" stroke="#222" stroke-width="1" />
<line x1="228.40" y1="233.07" x2="234.40" y2="233.07" stroke="#222" stroke-width="1" />
<line x1="228.40" y1="238.20" x2="234.40" y2="238.20" stroke="#222" stroke-width="1" />
<line x1="228.40" y1="244.98" x2="234.40" y2="244.98" stroke="#222" stroke-width="1" />
<line x1="228.40" y1="250.12" x2="234.40" y2="250.12" stroke="#222" stroke-width="1" />
<line x1="228.40" y1="255.25" x2="234.40" y2="255.25" stroke="#222" stroke-width="1" />
<text transform="translate(221.20,255.25) rotate(-90) scale(1,1.05)" font-size="9.0">5e-07</text>
<text transform="translate(197.00,239.70) rotate(-90) scale(1,1.05)" font-size="9.5">σ<tspan font-size="6.5" dy="-3.5">2</tspan></text>
<line x1="278.20" y1="219.75" x2="278.20" y2="256.45" stroke="#111" stroke-width="0.85" stroke-dasharray="1,1.2"/>
<path d="M237.5,222.6L237.5,233.8L237.6,235.5L237.6,235.8L237.7,236.5L237.7,238.3L237.8,237.9L237.8,237.3L237.9,238.4L237.9,237.1L238.0,237.3L238.0,239.6L238.0,236.4L238.1,237.7L238.1,240.1L238.2,237.5L238.2,238.6L238.3,236.4L238.3,240.7L238.4,234.0L238.4,235.5L238.5,235.6L238.5,240.2L238.5,238.0L238.6,237.0L238.6,235.3L238.7,238.1L238.7,237.7L238.8,236.3L238.8,235.0L238.9,235.6L238.9,237.9L238.9,238.0L239.0,237.6L239.0,237.3L239.1,234.5L239.1,237.6L239.2,235.8L239.2,237.6L239.3,238.4L239.3,236.4L239.4,235.9L239.4,239.3L239.4,238.2L239.5,236.5L239.5,234.2L239.6,237.6L239.6,238.7L239.7,239.6L239.7,236.5L239.8,236.6L239.8,236.9L239.9,239.1L239.9,235.7L239.9,237.5L240.0,236.1L240.0,238.2L240.1,235.1L240.1,238.4L240.2,236.9L240.2,237.4L240.3,238.7L240.3,239.7L240.4,234.9L240.4,239.5L240.4,238.7L240.5,237.3L240.5,240.2L240.6,238.1L240.6,240.0L240.7,236.8L240.7,236.4L240.8,239.9L240.8,241.3L240.9,238.9L240.9,239.4L240.9,237.1L241.0,235.6L241.0,237.5L241.1,240.5L241.1,234.8L241.2,237.1L241.2,234.7L241.3,238.1L241.3,239.4L241.3,235.8L241.4,237.3L241.4,240.2L241.5,237.8L241.5,235.9L241.6,235.8L241.6,234.6L241.7,239.3L241.7,236.8L241.8,239.8L241.8,239.5L241.8,236.9L241.9,237.2L241.9,239.4L242.0,238.3L242.0,238.5L242.1,235.3L242.1,239.6L242.2,236.6L242.2,234.7L242.3,237.1L242.3,238.9L242.3,241.5L242.4,237.5L242.4,235.9L242.5,241.6L242.5,238.4L242.6,237.7L242.6,236.4L242.7,236.5L242.7,240.7L242.8,237.8L242.8,237.3L242.8,237.4L242.9,240.9L242.9,237.2L243.0,239.3L243.0,238.7L243.1,238.7L243.1,236.8L243.2,239.4L243.2,241.0L243.2,238.2L243.3,236.8L243.3,236.1L243.4,238.7L243.4,237.9L243.5,238.2L243.5,238.4L243.6,235.9L243.6,239.7L243.7,238.8L243.7,238.3L243.7,238.8L243.8,240.0L243.8,238.5L243.9,237.0L243.9,240.4L244.0,237.7L244.0,237.2L244.1,235.8L244.1,238.5L244.2,236.7L244.2,237.6L244.2,239.3L244.3,238.6L244.3,240.2L244.4,239.0L244.4,237.8L244.5,238.0L244.5,237.7L244.6,239.7L244.6,238.6L244.7,237.9L244.7,240.0L244.7,238.7L244.8,237.8L244.8,236.0L244.9,239.4L244.9,239.0L245.0,238.7L245.0,237.9L245.1,237.2L245.1,238.3L245.2,239.1L245.2,238.5L245.2,238.4L245.3,237.9L245.3,239.3L245.4,239.1L245.4,237.4L245.5,240.0L245.5,240.1L245.6,240.1L245.6,238.5L245.6,238.4L245.7,236.8L245.7,240.0L245.8,235.4L245.8,238.1L245.9,238.2L245.9,240.2L246.0,238.8L246.0,237.1L246.1,236.4L246.1,237.6L246.1,239.0L246.2,238.9L246.2,238.5L246.3,237.7L246.3,238.5L246.4,240.5L246.4,237.0L246.5,238.9L246.5,241.6L246.6,239.8L246.6,238.1L246.6,240.0L246.7,237.6L246.7,238.9L246.8,241.5L246.8,242.1L246.9,236.0L246.9,240.1L247.0,242.2L247.0,238.0L247.1,239.3L247.1,241.5L247.1,238.1L247.2,239.7L247.2,238.8L247.3,235.7L247.3,239.5L247.4,238.6L247.4,240.5L247.5,242.3L247.5,240.1L247.6,238.3L247.6,239.7L247.6,239.3L247.7,240.7L247.7,236.5L247.8,237.0L247.8,235.6L247.9,240.0L247.9,239.0L248.0,237.9L248.0,237.8L248.0,238.0L248.1,237.4L248.1,238.5L248.2,238.2L248.2,241.4L248.3,239.6L248.3,237.6L248.4,238.0L248.4,241.1L248.5,239.8L248.5,239.6L248.5,240.3L248.6,241.8L248.6,237.0L248.7,237.8L248.7,236.1L248.8,239.9L248.8,238.4L248.9,238.0L248.9,237.8L249.0,240.3L249.0,238.9L249.0,238.2L249.1,241.3L249.1,237.3L249.2,237.0L249.2,242.5L249.3,238.5L249.3,238.2L249.4,237.9L249.4,238.9L249.5,240.5L249.5,240.4L249.5,240.1L249.6,238.7L249.6,236.6L249.7,239.7L249.7,241.8L249.8,241.0L249.8,238.9L249.9,240.6L249.9,238.5L249.9,239.1L250.0,237.1L250.0,238.7L250.1,239.5L250.1,238.9L250.2,240.5L250.2,242.4L250.3,241.5L250.3,238.7L250.4,238.0L250.4,238.1L250.4,237.6L250.5,239.3L250.5,240.0L250.6,239.6L250.6,239.6L250.7,239.6L250.7,239.1L250.8,238.0L250.8,242.2L250.9,241.1L250.9,237.8L250.9,237.8L251.0,238.3L251.0,239.4L251.1,241.5L251.1,241.1L251.2,241.2L251.2,241.2L251.3,241.2L251.3,240.6L251.4,240.1L251.4,239.2L251.4,236.4L251.5,239.2L251.5,242.4L251.6,238.5L251.6,238.3L251.7,241.1L251.7,239.5L251.8,238.6L251.8,242.1L251.9,240.5L251.9,240.7L251.9,238.5L252.0,240.3L252.0,240.1L252.1,240.8L252.1,241.4L252.2,241.4L252.2,239.7L252.3,240.6L252.3,237.5L252.3,240.6L252.4,240.6L252.4,238.8L252.5,238.2L252.5,239.4L252.6,237.4L252.6,240.1L252.7,240.0L252.7,237.9L252.8,239.6L252.8,241.3L252.8,241.3L252.9,241.2L252.9,239.3L253.0,239.0L253.0,238.9L253.1,240.5L253.1,242.9L253.2,241.9L253.2,242.3L253.3,241.9L253.3,236.8L253.3,239.2L253.4,238.8L253.4,241.7L253.5,242.5L253.5,238.5L253.6,239.7L253.6,240.5L253.7,238.8L253.7,238.5L253.8,238.5L253.8,241.1L253.8,238.1L253.9,241.6L253.9,239.8L254.0,240.9L254.0,242.3L254.1,238.5L254.1,238.3L254.2,240.4L254.2,237.9L254.3,238.4L254.3,239.5L254.3,239.9L254.4,237.6L254.4,239.0L254.5,240.7L254.5,242.0L254.6,236.4L254.6,241.9L254.7,241.2L254.7,237.9L254.7,237.2L254.8,240.4L254.8,239.0L254.9,240.0L254.9,241.2L255.0,239.1L255.0,240.0L255.1,240.6L255.1,241.3L255.2,242.7L255.2,242.6L255.2,240.2L255.3,239.4L255.3,243.2L255.4,240.9L255.4,240.5L255.5,237.9L255.5,241.1L255.6,238.5L255.6,239.0L255.7,237.6L255.7,238.9L255.7,239.9L255.8,237.3L255.8,238.3L255.9,239.7L255.9,237.7L256.0,237.7L256.0,238.4L256.1,237.5L256.1,240.9L256.2,238.2L256.2,241.2L256.2,241.4L256.3,237.9L256.3,240.0L256.4,239.1L256.4,238.0L256.5,239.3L256.5,239.5L256.6,241.1L256.6,241.7L256.7,238.1L256.7,239.2L256.7,240.8L256.8,241.9L256.8,236.5L256.9,242.1L256.9,239.7L257.0,242.6L257.0,239.2L257.1,238.6L257.1,240.0L257.1,242.0L257.2,240.0L257.2,236.6L257.3,241.2L257.3,237.3L257.4,238.3L257.4,238.0L257.5,236.9L257.5,237.9L257.6,238.3L257.6,239.0L257.6,239.9L257.7,239.5L257.7,237.5L257.8,239.7L257.8,241.7L257.9,241.7L257.9,240.3L258.0,241.1L258.0,241.6L258.1,242.4L258.1,242.9L258.1,239.5L258.2,239.6L258.2,242.6L258.3,242.7L258.3,242.7L258.4,236.7L258.4,239.7L258.5,236.7L258.5,241.3L258.6,240.2L258.6,240.2L258.6,239.9L258.7,242.3L258.7,239.6L258.8,241.9L258.8,241.0L258.9,240.7L258.9,240.9L259.0,240.3L259.0,238.2L259.0,241.3L259.1,241.3L259.1,239.9L259.2,241.4L259.2,241.6L259.3,237.9L259.3,239.9L259.4,239.4L259.4,238.6L259.5,240.7L259.5,238.7L259.5,239.4L259.6,240.6L259.6,240.7L259.7,240.7L259.7,243.5L259.8,239.3L259.8,240.6L259.9,238.1L259.9,241.0L260.0,242.1L260.0,242.2L260.0,239.1L260.1,239.7L260.1,242.3L260.2,240.0L260.2,241.8L260.3,238.5L260.3,242.5L260.4,241.9L260.4,241.0L260.5,238.8L260.5,239.9L260.5,240.4L260.6,240.6L260.6,240.0L260.7,239.8L260.7,240.5L260.8,242.6L260.8,236.8L260.9,237.9L260.9,237.6L261.0,239.0L261.0,237.2L261.0,241.1L261.1,240.4L261.1,239.8L261.2,239.1L261.2,240.5L261.3,240.5L261.3,240.8L261.4,239.0L261.4,241.3L261.4,237.7L261.5,242.4L261.5,236.8L261.6,239.2L261.6,238.2L261.7,241.6L261.7,237.7L261.8,243.3L261.8,237.6L261.9,243.6L261.9,241.0L261.9,240.3L262.0,241.0L262.0,243.7L262.1,241.8L262.1,236.9L262.2,242.3L262.2,240.7L262.3,237.5L262.3,241.6L262.4,238.2L262.4,240.6L262.4,240.7L262.5,239.2L262.5,241.4L262.6,238.5L262.6,240.6L262.7,239.4L262.7,240.0L262.8,243.6L262.8,240.5L262.9,238.4L262.9,240.1L262.9,239.0L263.0,240.3L263.0,240.6L263.1,240.5L263.1,240.5L263.2,239.4L263.2,241.1L263.3,242.1L263.3,239.3L263.4,240.2L263.4,240.4L263.4,242.5L263.5,242.2L263.5,239.1L263.6,240.5L263.6,237.8L263.7,238.7L263.7,240.4L263.8,241.4L263.8,242.0L263.8,239.8L263.9,238.0L263.9,241.0L264.0,240.1L264.0,241.1L264.1,240.6L264.1,241.6L264.2,241.5L264.2,241.8L264.3,239.6L264.3,242.1L264.3,239.5L264.4,240.5L264.4,243.5L264.5,241.0L264.5,238.4L264.6,242.9L264.6,242.1L264.7,242.3L264.7,240.7L264.8,241.0L264.8,240.0L264.8,239.2L264.9,243.0L264.9,239.8L265.0,239.6L265.0,239.6L265.1,243.6L265.1,241.9L265.2,239.8L265.2,240.3L265.3,241.3L265.3,241.9L265.3,237.7L265.4,242.0L265.4,240.1L265.5,239.3L265.5,239.8L265.6,241.8L265.6,243.4L265.7,240.7L265.7,241.4L265.8,239.1L265.8,241.3L265.8,241.8L265.9,237.9L265.9,239.6L266.0,241.8L266.0,237.5L266.1,239.8L266.1,241.5L266.2,237.6L266.2,239.8L266.2,240.6L266.3,242.0L266.3,238.3L266.4,242.4L266.4,241.0L266.5,242.5L266.5,242.5L266.6,241.1L266.6,241.3L266.7,237.5L266.7,238.2L266.7,238.8L266.8,239.9L266.8,242.1L266.9,237.5L266.9,240.0L267.0,238.3L267.0,237.9L267.1,243.0L267.1,240.7L267.2,243.3L267.2,242.5L267.2,238.9L267.3,237.4L267.3,243.9L267.4,239.8L267.4,238.6L267.5,241.7L267.5,240.8L267.6,239.4L267.6,239.9L267.7,240.8L267.7,240.7L267.7,241.8L267.8,239.9L267.8,240.0L267.9,241.6L267.9,241.1L268.0,242.4L268.0,240.1L268.1,240.4L268.1,238.6L268.1,243.1L268.2,238.2L268.2,240.9L268.3,239.0L268.3,241.1L268.4,241.8L268.4,237.8L268.5,240.2L268.5,237.6L268.6,243.0L268.6,239.8L268.6,237.9L268.7,239.4L268.7,242.8L268.8,243.1L268.8,242.7L268.9,239.3L268.9,240.3L269.0,243.4L269.0,239.4L269.1,240.0L269.1,239.0L269.1,238.6L269.2,242.7L269.2,241.7L269.3,241.4L269.3,241.6L269.4,242.4L269.4,243.2L269.5,240.6L269.5,240.0L269.6,238.9L269.6,242.5L269.6,239.8L269.7,238.1L269.7,240.2L269.8,240.7L269.8,242.1L269.9,242.3L269.9,239.4L270.0,239.3L270.0,240.1L270.1,238.6L270.1,240.5L270.1,241.4L270.2,240.7L270.2,237.9L270.3,238.6L270.3,242.8L270.4,238.9L270.4,241.9L270.5,241.7L270.5,240.1L270.5,239.0L270.6,241.0L270.6,239.2L270.7,240.4L270.7,240.9L270.8,239.5L270.8,240.3L270.9,240.2L270.9,238.6L271.0,240.4L271.0,239.6L271.0,237.6L271.1,240.1L271.1,240.2L271.2,239.7L271.2,237.3L271.3,242.0L271.3,241.9L271.4,241.8L271.4,241.3L271.5,238.6L271.5,240.9L271.5,239.1L271.6,244.1L271.6,239.8L271.7,241.9L271.7,238.1L271.8,238.7L271.8,239.8L271.9,241.9L271.9,241.7L272.0,241.2L272.0,237.6L272.0,242.7L272.1,239.2L272.1,243.5L272.2,243.9L272.2,242.2L272.3,242.4L272.3,238.6L272.4,244.2L272.4,241.1L272.5,242.5L272.5,239.3L272.5,240.7L272.6,238.8L272.6,240.4L272.7,240.8L272.7,241.2L272.8,243.2L272.8,241.6L272.9,241.2L272.9,240.9L272.9,244.2L273.0,239.8L273.0,242.8L273.1,237.5L273.1,239.3L273.2,241.5L273.2,240.5L273.3,244.2L273.3,244.2L273.4,238.2L273.4,239.0L273.4,240.6L273.5,243.8L273.5,242.8L273.6,241.4L273.6,238.4L273.7,239.4L273.7,237.4L273.8,238.2L273.8,241.6L273.9,242.2L273.9,238.6L273.9,241.0L274.0,243.6L274.0,241.1L274.1,240.3L274.1,241.9L274.2,241.8L274.2,241.0L274.3,240.0L274.3,240.1L274.4,241.0L274.4,239.9L274.4,243.1L274.5,242.4L274.5,242.7L274.6,244.3L274.6,243.6L274.7,243.3L274.7,241.5L274.8,240.6L274.8,244.3L274.8,239.7L274.9,239.8L274.9,239.4L275.0,241.3L275.0,241.6L275.1,242.7L275.1,240.5L275.2,238.0L275.2,241.5L275.3,242.6L275.3,241.0L275.3,240.7L275.4,241.9L275.4,243.4L275.5,240.8L275.5,238.5L275.6,240.0L275.6,240.6L275.7,237.9L275.7,242.2L275.8,239.6L275.8,241.8L275.8,241.3L275.9,240.4L275.9,243.7L276.0,240.0L276.0,239.8L276.1,241.4L276.1,242.4L276.2,240.9L276.2,239.3L276.3,242.1L276.3,242.0L276.3,244.4L276.4,240.6L276.4,241.3L276.5,240.0L276.5,238.4L276.6,241.1L276.6,242.4L276.7,239.3L276.7,239.8L276.8,239.0L276.8,243.3L276.8,239.9L276.9,242.0L276.9,239.5L277.0,241.1L277.0,239.9L277.1,237.6L277.1,241.1L277.2,241.9L277.2,237.6L277.2,240.7L277.3,240.3L277.3,239.2L277.4,240.6L277.4,237.7L277.5,241.4L277.5,243.0L277.6,238.9L277.6,240.9L277.7,243.4L277.7,241.2L277.7,240.1L277.8,239.5L277.8,241.3L277.9,240.8L277.9,242.1L278.0,238.5L278.0,242.9L278.1,240.4L278.1,242.1L278.2,239.8L278.2,238.8" stroke="#b0b0b0" stroke-width="0.8" fill="none" stroke-linejoin="round" />
<path d="M278.2,239.6L278.2,238.9L278.3,240.0L278.3,241.9L278.4,242.8L278.4,241.1L278.5,239.7L278.5,239.9L278.6,241.9L278.6,243.0L278.7,240.2L278.7,240.6L278.7,239.5L278.8,241.3L278.8,242.7L278.9,236.5L278.9,241.4L279.0,239.9L279.0,236.6L279.1,241.6L279.1,240.8L279.1,241.7L279.2,238.4L279.2,245.1L279.3,241.3L279.3,240.4L279.4,244.0L279.4,242.3L279.5,242.7L279.5,243.3L279.6,237.2L279.6,244.3L279.6,240.5L279.7,241.7L279.7,242.9L279.8,239.8L279.8,241.7L279.9,242.6L279.9,241.1L280.0,242.1L280.0,238.1L280.0,238.9L280.1,238.9L280.1,241.8L280.2,245.5L280.2,241.6L280.3,240.8L280.3,241.0L280.4,243.0L280.4,242.4L280.5,238.9L280.5,243.0L280.5,241.0L280.6,242.6L280.6,237.2L280.7,238.1L280.7,242.2L280.8,237.6L280.8,241.7L280.9,241.6L280.9,241.2L280.9,241.6L281.0,241.4L281.0,241.8L281.1,240.1L281.1,240.9L281.2,245.3L281.2,243.0L281.3,242.0L281.3,241.6L281.4,239.4L281.4,241.2L281.4,240.3L281.5,242.6L281.5,239.0L281.6,236.3L281.6,239.7L281.7,242.0L281.7,245.1L281.8,242.6L281.8,238.8L281.8,240.2L281.9,238.8L281.9,240.3L282.0,238.9L282.0,237.5L282.1,241.4L282.1,240.9L282.2,240.2L282.2,241.2L282.3,244.4L282.3,240.8L282.3,239.8L282.4,242.2L282.4,237.4L282.5,241.9L282.5,239.0L282.6,238.9L282.6,240.7L282.7,243.7L282.7,239.1L282.8,242.3L282.8,241.2L282.8,237.8L282.9,242.2L282.9,238.9L283.0,237.7L283.0,239.0L283.1,239.1L283.1,241.6L283.2,239.1L283.2,243.3L283.2,240.9L283.3,239.2L283.3,238.9L283.4,241.0L283.4,236.7L283.5,236.4L283.5,238.9L283.6,241.8L283.6,240.9L283.7,240.6L283.7,240.2L283.7,236.5L283.8,240.0L283.8,237.3L283.9,242.3L283.9,240.7L284.0,240.5L284.0,241.5L284.1,241.4L284.1,241.2L284.1,241.4L284.2,239.7L284.2,238.3L284.3,241.5L284.3,243.6L284.4,242.8L284.4,240.5L284.5,242.1L284.5,240.1L284.6,241.7L284.6,239.8L284.6,241.3L284.7,244.8L284.7,242.5L284.8,243.9L284.8,239.6L284.9,239.8L284.9,241.0L285.0,242.2L285.0,240.8L285.0,243.1L285.1,240.1L285.1,243.8L285.2,243.1L285.2,239.1L285.3,242.4L285.3,240.8L285.4,243.2L285.4,240.3L285.5,241.9L285.5,242.4L285.5,236.9L285.6,237.8L285.6,241.6L285.7,241.1L285.7,243.3L285.8,241.8L285.8,239.0L285.9,242.0L285.9,240.0L285.9,241.0L286.0,240.5L286.0,242.1L286.1,238.7L286.1,239.3L286.2,237.2L286.2,245.5L286.3,239.5L286.3,239.8L286.4,239.3L286.4,240.2L286.4,240.6L286.5,242.6L286.5,241.8L286.6,242.1L286.6,240.3L286.7,241.3L286.7,243.7L286.8,241.4L286.8,242.0L286.8,237.5L286.9,242.4L286.9,241.9L287.0,243.8L287.0,236.9L287.1,241.4L287.1,241.1L287.2,241.5L287.2,240.1L287.3,241.7L287.3,242.6L287.3,241.3L287.4,240.7L287.4,240.8L287.5,240.4L287.5,241.2L287.6,239.8L287.6,237.3L287.7,243.7L287.7,237.8L287.8,240.9L287.8,238.6L287.8,240.5L287.9,239.2L287.9,240.9L288.0,239.4L288.0,238.5L288.1,241.5L288.1,243.5L288.2,241.6L288.2,241.1L288.2,238.9L288.3,240.7L288.3,241.7L288.4,239.6L288.4,242.5L288.5,240.7L288.5,241.5L288.6,239.9L288.6,239.9L288.7,241.2L288.7,241.5L288.7,241.4L288.8,238.8L288.8,239.3L288.9,240.7L288.9,237.2L289.0,242.7L289.0,241.3L289.1,240.8L289.1,239.4L289.1,242.3L289.2,240.2L289.2,244.3L289.3,241.5L289.3,237.9L289.4,242.1L289.4,239.7L289.5,239.7L289.5,240.3L289.6,240.5L289.6,241.2L289.6,242.2L289.7,241.6L289.7,239.4L289.8,238.2L289.8,239.2L289.9,241.5L289.9,242.4L290.0,244.2L290.0,238.3L290.0,241.0L290.1,240.4L290.1,240.1L290.2,241.1L290.2,240.4L290.3,240.4L290.3,239.7L290.4,241.7L290.4,243.0L290.5,244.1L290.5,240.0L290.5,239.0L290.6,240.5L290.6,239.5L290.7,243.0L290.7,239.5L290.8,241.2L290.8,238.6L290.9,240.5L290.9,241.5L290.9,244.1L291.0,239.9L291.0,241.9L291.1,237.3L291.1,239.0L291.2,239.7L291.2,240.3L291.3,242.1L291.3,242.5L291.4,238.3L291.4,242.4L291.4,239.3L291.5,244.9L291.5,242.0L291.6,241.7L291.6,241.1L291.7,241.4L291.7,241.5L291.8,240.2L291.8,242.9L291.9,242.0L291.9,243.0L291.9,241.4L292.0,242.8L292.0,240.1L292.1,246.1L292.1,240.2L292.2,240.7L292.2,243.4L292.3,244.0L292.3,240.1L292.3,238.5L292.4,239.0L292.4,239.7L292.5,240.1L292.5,241.3L292.6,243.6L292.6,243.7L292.7,240.5L292.7,242.7L292.8,243.3L292.8,244.3L292.8,241.3L292.9,240.2L292.9,243.0L293.0,244.5L293.0,240.6L293.1,245.3L293.1,244.9L293.2,241.1L293.2,238.6L293.2,240.4L293.3,240.9L293.3,242.6L293.4,238.4L293.4,246.1L293.5,246.0L293.5,240.1L293.6,237.9L293.6,241.1L293.7,242.3L293.7,244.0L293.7,242.8L293.8,241.0L293.8,237.7L293.9,242.4L293.9,243.0L294.0,240.8L294.0,241.9L294.1,241.7L294.1,240.8L294.1,239.1L294.2,241.9L294.2,238.6L294.3,243.9L294.3,239.5L294.4,242.1L294.4,239.8L294.5,241.9L294.5,240.8L294.6,242.2L294.6,239.6L294.6,238.0L294.7,240.6L294.7,240.4L294.8,238.2L294.8,239.8L294.9,237.9L294.9,241.3L295.0,240.3L295.0,241.1L295.0,245.6L295.1,241.3L295.1,241.7L295.2,242.2L295.2,240.7L295.3,239.9L295.3,242.6L295.4,242.9L295.4,236.7L295.5,240.7L295.5,240.3L295.5,239.9L295.6,243.3L295.6,240.0L295.7,242.6L295.7,239.9L295.8,240.2L295.8,242.4L295.9,239.6L295.9,240.7L295.9,238.9L296.0,239.3L296.0,242.4L296.1,242.1L296.1,238.9L296.2,238.8L296.2,245.6L296.3,239.8L296.3,239.4L296.4,242.1L296.4,239.6L296.4,240.4L296.5,242.8L296.5,243.0L296.6,240.8L296.6,243.7L296.7,240.9L296.7,240.7L296.8,241.2L296.8,240.7L296.9,242.3L296.9,241.8L296.9,239.8L297.0,241.7L297.0,240.3L297.1,240.3L297.1,241.1L297.2,243.3L297.2,241.9L297.3,243.8L297.3,244.4L297.3,241.4L297.4,240.3L297.4,240.0L297.5,242.1L297.5,243.2L297.6,244.6L297.6,239.1L297.7,243.4L297.7,243.7L297.8,246.2L297.8,242.0L297.8,241.6L297.9,238.8L297.9,240.2L298.0,239.6L298.0,239.8L298.1,240.1L298.1,238.9L298.2,241.6L298.2,242.5L298.2,243.3L298.3,241.7L298.3,243.9L298.4,243.9L298.4,239.0L298.5,241.4L298.5,239.5L298.6,240.0L298.6,242.3L298.7,241.7L298.7,244.7L298.7,245.8L298.8,242.7L298.8,241.6L298.9,241.7L298.9,241.9L299.0,243.0L299.0,240.6L299.1,243.1L299.1,241.5L299.1,244.0L299.2,244.5L299.2,245.3L299.3,241.6L299.3,239.4L299.4,238.7L299.4,241.4L299.5,239.2L299.5,238.8L299.6,241.2L299.6,240.0L299.6,243.2L299.7,245.6L299.7,241.4L299.8,242.5L299.8,238.9L299.9,242.2L299.9,240.5L300.0,239.7L300.0,238.3L300.0,244.8L300.1,238.7L300.1,239.5L300.2,241.8L300.2,242.3L300.3,242.3L300.3,241.9L300.4,240.0L300.4,243.1L300.5,242.0L300.5,238.9L300.5,244.7L300.6,241.0L300.6,243.4L300.7,238.8L300.7,239.3L300.8,240.5L300.8,240.2L300.9,243.5L300.9,238.4L301.0,241.8L301.0,239.6L301.0,242.5L301.1,241.9L301.1,240.4L301.2,245.7L301.2,241.4L301.3,243.5L301.3,238.9L301.4,241.2L301.4,241.6L301.4,241.7L301.5,240.7L301.5,239.8L301.6,237.0L301.6,240.3L301.7,239.6L301.7,240.9L301.8,243.0L301.8,245.6L301.9,242.4L301.9,243.3L301.9,242.6L302.0,242.8L302.0,242.5L302.1,240.9L302.1,240.8L302.2,242.0L302.2,244.8L302.3,242.9L302.3,244.5L302.3,239.0L302.4,241.9L302.4,242.2L302.5,242.4L302.5,238.9L302.6,238.0L302.6,237.5L302.7,240.7L302.7,245.9L302.8,241.9L302.8,239.2L302.8,242.2L302.9,241.0L302.9,241.9L303.0,240.8L303.0,239.2L303.1,240.6L303.1,243.0L303.2,242.3L303.2,244.0L303.2,239.7L303.3,243.7L303.3,241.9L303.4,242.2L303.4,244.2L303.5,241.6L303.5,242.4L303.6,243.1L303.6,243.1L303.7,243.5L303.7,244.4L303.7,243.0L303.8,241.2L303.8,246.4L303.9,242.0L303.9,242.8L304.0,240.7L304.0,238.0L304.1,240.7L304.1,242.3L304.1,243.2L304.2,242.3L304.2,243.7L304.3,244.1L304.3,244.1L304.4,242.3L304.4,242.4L304.5,241.9L304.5,240.7L304.6,245.0L304.6,240.0L304.6,242.2L304.7,242.8L304.7,238.3L304.8,243.8L304.8,241.7L304.9,242.8L304.9,241.8L305.0,239.5L305.0,242.8L305.0,242.6L305.1,244.3L305.1,243.4L305.2,239.3L305.2,244.6L305.3,244.0L305.3,243.9L305.4,243.4L305.4,241.1L305.5,243.5L305.5,241.8L305.5,246.8L305.6,242.0L305.6,240.3L305.7,241.8L305.7,245.2L305.8,241.4L305.8,238.0L305.9,245.2L305.9,243.0L306.0,241.5L306.0,243.8L306.0,240.6L306.1,240.1L306.1,244.2L306.2,241.4L306.2,243.4L306.3,242.4L306.3,243.9L306.4,242.5L306.4,238.4L306.4,243.6L306.5,241.4L306.5,243.9L306.6,242.4L306.6,244.9L306.7,241.6L306.7,238.3L306.8,241.6L306.8,243.1L306.9,241.5L306.9,241.2L306.9,244.9L307.0,241.8L307.0,244.1L307.1,242.3L307.1,239.3L307.2,240.2L307.2,241.4L307.3,242.6L307.3,240.4L307.3,239.3L307.4,240.0L307.4,241.0L307.5,240.3L307.5,240.8L307.6,245.4L307.6,242.4L307.7,240.3L307.7,241.9L307.8,244.9L307.8,243.1L307.8,241.7L307.9,239.3L307.9,238.6L308.0,241.2L308.0,241.6L308.1,238.7L308.1,239.3L308.2,241.7L308.2,237.6L308.2,238.5L308.3,241.7L308.3,242.9L308.4,242.4L308.4,243.7L308.5,244.8L308.5,243.5L308.6,241.3L308.6,245.9L308.7,245.0L308.7,243.6L308.7,240.3L308.8,242.6L308.8,237.9L308.9,241.3L308.9,237.4L309.0,241.1L309.0,243.9L309.1,242.0L309.1,245.0L309.1,242.0L309.2,242.2L309.2,241.4L309.3,243.0L309.3,242.0L309.4,244.3L309.4,245.1L309.5,242.8L309.5,240.0L309.6,243.2L309.6,244.7L309.6,243.4L309.7,242.7L309.7,244.0L309.8,244.7L309.8,237.7L309.9,245.2L309.9,243.8L310.0,243.2L310.0,241.3L310.1,242.8L310.1,243.5L310.1,239.6L310.2,243.8L310.2,242.6L310.3,245.2L310.3,243.8L310.4,242.2L310.4,242.6L310.5,243.7L310.5,242.8L310.5,243.6L310.6,241.2L310.6,240.2L310.7,241.5L310.7,239.9L310.8,241.2L310.8,243.3L310.9,239.6L310.9,240.4L311.0,244.1L311.0,241.7L311.0,242.7L311.1,240.4L311.1,240.8L311.2,242.2L311.2,245.9L311.3,243.6L311.3,239.6L311.4,243.6L311.4,244.5L311.4,244.1L311.5,240.5L311.5,242.7L311.6,246.8L311.6,241.0L311.7,243.5L311.7,241.4L311.8,240.4L311.8,242.0L311.9,244.8L311.9,245.0L311.9,241.1L312.0,241.9L312.0,241.1L312.1,238.8L312.1,243.9L312.2,245.7L312.2,245.6L312.3,241.9L312.3,245.3L312.3,244.8L312.4,242.1L312.4,242.7L312.5,242.0L312.5,243.2L312.6,246.1L312.6,240.9L312.7,240.4L312.7,244.3L312.8,242.8L312.8,239.0L312.8,240.7L312.9,241.0L312.9,241.4L313.0,243.2L313.0,244.5L313.1,242.3L313.1,242.8L313.2,241.1L313.2,244.5L313.2,245.1L313.3,242.0L313.3,241.1L313.4,246.4L313.4,244.2L313.5,240.7L313.5,239.2L313.6,241.8L313.6,244.7L313.7,241.3L313.7,241.9L313.7,241.4L313.8,243.6L313.8,245.0L313.9,239.9L313.9,241.8L314.0,241.9L314.0,241.1L314.1,240.0L314.1,243.8L314.1,242.6L314.2,243.6L314.2,245.1L314.3,241.5L314.3,243.3L314.4,241.5L314.4,242.1L314.5,242.9L314.5,241.9L314.6,239.3L314.6,245.1L314.6,242.5L314.7,240.0L314.7,238.0L314.8,242.2L314.8,243.5L314.9,244.1L314.9,244.4L315.0,241.5L315.0,243.5L315.1,239.3L315.1,242.5L315.1,244.0L315.2,241.1L315.2,242.0L315.3,242.5L315.3,242.6L315.4,245.2L315.4,240.3L315.5,244.9L315.5,240.0L315.5,241.1L315.6,240.9L315.6,242.2L315.7,241.5L315.7,243.4L315.8,242.5L315.8,246.7L315.9,243.2L315.9,242.0L316.0,243.2L316.0,243.7L316.0,242.2L316.1,240.5L316.1,241.1L316.2,243.0L316.2,244.2L316.3,243.6L316.3,242.5L316.4,243.8L316.4,241.8L316.4,243.2L316.5,245.5L316.5,244.9L316.6,245.4L316.6,242.1L316.7,243.2L316.7,240.9L316.8,244.6L316.8,242.1L316.9,240.4L316.9,242.0L316.9,243.4L317.0,238.8L317.0,240.3L317.1,244.9L317.1,243.2L317.2,242.9L317.2,240.0L317.3,246.1L317.3,245.0L317.3,244.4L317.4,241.0L317.4,244.2L317.5,245.3L317.5,242.5L317.6,242.7L317.6,242.2L317.7,244.3L317.7,242.7L317.8,242.6L317.8,240.4L317.8,240.0L317.9,244.9L317.9,246.2L318.0,244.8L318.0,245.9L318.1,242.1L318.1,243.1L318.2,243.9L318.2,242.9L318.2,246.3L318.3,240.6L318.3,242.1L318.4,242.5L318.4,241.8L318.5,244.7L318.5,239.3L318.6,245.3L318.6,244.8L318.7,243.7L318.7,245.8" stroke="#000" stroke-width="0.9" fill="none" stroke-linejoin="round" />
<rect x="330.60" y="241.35" width="8.60" height="2.20" stroke="#000" stroke-width="0.9" fill="none" />
<line x1="330.60" y1="242.15" x2="339.20" y2="242.15" stroke="#000" stroke-width="2.0" />
<line x1="334.90" y1="243.55" x2="334.90" y2="246.85" stroke="#000" stroke-width="0.8" stroke-dasharray="1.5,1"/>
<line x1="332.75" y1="246.85" x2="337.05" y2="246.85" stroke="#000" stroke-width="0.8" />
<circle cx="334.90" cy="235.65" r="1.5" fill="none" stroke="#000" stroke-width="0.8"/>
<circle cx="334.90" cy="236.65" r="1.5" fill="none" stroke="#000" stroke-width="0.8"/>
<circle cx="334.90" cy="237.65" r="1.5" fill="none" stroke="#000" stroke-width="0.8"/>
<circle cx="334.90" cy="238.65" r="1.5" fill="none" stroke="#000" stroke-width="0.8"/>
<circle cx="334.90" cy="239.45" r="1.5" fill="none" stroke="#000" stroke-width="0.8"/>
<rect x="234.40" y="280.85" width="87.30" height="36.70" stroke="#222" stroke-width="1" fill="none" />
<rect x="324.20" y="280.85" width="22.20" height="36.70" stroke="#222" stroke-width="1" fill="none" />
<line x1="323.25" y1="281.35" x2="323.25" y2="317.05" stroke="#b4b4b4" stroke-width="1.0" />
<line x1="228.40" y1="316.60" x2="234.40" y2="316.60" stroke="#222" stroke-width="1" />
<text transform="translate(221.20,316.60) rotate(-90) scale(1,1.05)" font-size="9.0">0.0</text>
<line x1="228.40" y1="309.74" x2="234.40" y2="309.74" stroke="#222" stroke-width="1" />
<line x1="228.40" y1="302.88" x2="234.40" y2="302.88" stroke="#222" stroke-width="1" />
<line x1="228.40" y1="296.02" x2="234.40" y2="296.02" stroke="#222" stroke-width="1" />
<line x1="228.40" y1="289.16" x2="234.40" y2="289.16" stroke="#222" stroke-width="1" />
<text transform="translate(221.20,289.16) rotate(-90) scale(1,1.05)" font-size="9.0">0.8</text>
<line x1="228.40" y1="282.30" x2="234.40" y2="282.30" stroke="#222" stroke-width="1" />
<text transform="translate(197.00,300.80) rotate(-90) scale(1,1.05)" font-size="9.5">s<tspan font-size="6.5" dy="1.8">0</tspan></text>
<line x1="278.20" y1="280.85" x2="278.20" y2="317.55" stroke="#111" stroke-width="0.85" stroke-dasharray="1,1.2"/>
<line x1="237.30" y1="317.55" x2="237.30" y2="323.55" stroke="#222" stroke-width="1" />
<line x1="253.52" y1="317.55" x2="253.52" y2="323.55" stroke="#222" stroke-width="1" />
<line x1="269.74" y1="317.55" x2="269.74" y2="323.55" stroke="#222" stroke-width="1" />
<line x1="285.96" y1="317.55" x2="285.96" y2="323.55" stroke="#222" stroke-width="1" />
<line x1="302.18" y1="317.55" x2="302.18" y2="323.55" stroke="#222" stroke-width="1" />
<line x1="318.40" y1="317.55" x2="318.40" y2="323.55" stroke="#222" stroke-width="1" />
<text transform="translate(237.30,337.60) scale(1,1.09)" font-size="9.0">0e+00</text>
<text transform="translate(285.96,337.60) scale(1,1.09)" font-size="9.0">6e+04</text>
<text transform="translate(278.10,359.60) scale(1,1.09)" font-size="9.0">Sample Index</text>
<path d="M237.1,309.7L237.3,305.6L237.5,302.7L237.7,299.4L237.9,298.7L238.1,297.3L238.4,296.4L238.7,298.3L239.0,299.0L239.3,301.0L239.6,301.3L239.9,301.1L240.2,301.9L240.5,303.4L240.8,305.0L241.2,307.3L241.5,305.9L241.8,305.2L242.1,303.3L242.4,307.0L242.7,308.5L243.0,311.5L243.3,313.7L243.6,315.1L244.0,315.2L244.4,312.5L244.8,311.1L245.2,308.4L245.6,307.5L246.0,305.4L246.4,305.4L246.8,307.9L247.1,308.7L247.4,311.3L247.7,312.6L248.0,314.6L248.3,314.4L248.7,312.6L249.1,309.5L249.6,306.3L249.9,305.8L250.2,303.3L250.5,302.3L250.8,304.3L251.1,306.7L251.4,307.8L251.6,307.1L251.8,307.4L252.0,306.5L252.5,304.3L252.9,302.4L253.3,300.7L253.6,303.1L253.9,302.4L254.2,304.4L254.5,305.0L254.8,305.8L255.2,307.5L255.5,308.8L255.8,310.4L256.1,311.5L256.4,312.5L256.7,314.3L257.0,315.3L257.3,313.5L257.6,312.5L258.0,309.9L258.3,309.3L258.6,309.2L258.9,307.9L259.2,310.0L259.5,310.9L259.8,313.3L260.1,313.4L260.4,315.3L260.8,315.8L261.2,313.6L261.6,312.1L262.0,309.4L262.4,307.7L262.8,307.5L263.2,305.7L263.6,307.8L263.9,308.9L264.2,311.1L264.5,311.3L264.8,312.3L265.1,313.5L265.3,313.1L265.5,310.3L265.7,309.0L265.9,308.3L266.2,308.3L266.4,307.6L266.7,308.8L267.0,311.5L267.3,313.1L267.6,314.4L267.9,315.1L268.2,315.1L268.5,315.1L268.8,314.5L269.2,314.4L269.5,314.5L269.8,314.6L270.1,315.2L270.5,313.8L270.9,313.1L271.3,311.7L271.8,310.6L272.2,310.1L272.6,309.1L273.0,310.7L273.4,311.8L273.8,312.9L274.2,311.0L274.7,308.9L275.1,305.9L275.4,307.2L275.7,309.6L276.0,309.8L276.3,307.4L276.6,307.7L276.9,306.7" stroke="#b4b4b4" stroke-width="1.8" fill="none" stroke-linejoin="round" />
<path d="M237.1,308.8L237.3,304.7L237.5,304.0L237.7,300.1L237.9,299.1L238.1,297.5L238.4,297.2L238.7,298.7L239.0,299.6L239.3,300.1L239.6,301.1L239.9,301.5L240.2,302.0L240.5,302.7L240.8,305.3L241.2,306.8L241.5,306.1L241.8,305.3L242.1,303.3L242.4,307.4L242.7,309.8L243.0,310.8L243.3,312.9L243.6,313.6L244.0,315.2L244.4,313.9L244.8,311.3L245.2,310.0L245.6,307.5L246.0,305.4L246.4,305.0L246.8,305.5L247.1,310.7L247.4,311.9L247.7,313.3L248.0,314.3L248.3,314.9L248.7,312.5L249.1,309.1L249.6,306.4L249.9,305.7L250.2,303.4L250.5,304.1L250.8,303.9L251.1,306.9L251.4,307.5L251.6,306.7L251.8,307.4L252.0,306.8L252.5,304.5L252.9,302.5L253.3,300.1L253.6,302.0L253.9,302.6L254.2,304.2L254.5,305.8L254.8,304.9L255.2,306.3L255.5,307.9L255.8,309.5L256.1,310.7L256.4,312.7L256.7,314.3L257.0,315.3L257.3,312.6L257.6,312.5L258.0,310.9L258.3,309.6L258.6,308.1L258.9,307.3L259.2,310.9L259.5,312.4L259.8,313.2L260.1,313.1L260.4,315.4L260.8,315.5L261.2,314.5L261.6,310.8L262.0,309.5L262.4,307.8L262.8,307.2L263.2,305.0L263.6,307.7L263.9,308.5L264.2,309.8L264.5,312.0L264.8,313.1L265.1,312.7L265.3,312.7L265.5,311.3L265.7,309.9L265.9,310.4L266.2,307.7L266.4,307.3L266.7,308.0L267.0,310.0L267.3,312.5L267.6,313.6L267.9,314.4L268.2,315.8L268.5,315.5L268.8,315.3L269.2,314.0L269.5,314.7L269.8,314.1L270.1,315.0L270.5,314.1L270.9,312.3L271.3,309.4L271.8,310.2L272.2,311.4L272.6,308.5L273.0,309.5L273.4,311.5L273.8,313.7L274.2,311.0L274.7,308.6L275.1,305.8L275.4,307.5L275.7,307.9L276.0,310.0L276.3,309.8L276.6,308.4L276.9,306.7" stroke="#a0a0a0" stroke-width="0.7" fill="none" stroke-linejoin="round" />
<path d="M278.2,306.4L278.2,301.6L278.2,296.8L278.2,293.2L278.3,296.2L278.3,299.2L278.4,301.9L278.8,301.9L279.3,302.4L279.8,304.7L280.1,303.5L280.4,304.7L280.7,302.5L281.1,302.4L281.6,301.8L282.0,301.8L282.5,299.1L283.0,295.6L283.5,293.3L283.8,293.6L284.2,295.2L284.5,296.1L284.9,297.0L285.3,297.6L285.7,298.7L286.1,302.6L286.5,302.4L287.0,305.3L287.3,307.0L287.6,307.9L287.9,309.9L288.2,309.5L288.5,311.2L288.8,311.2L289.2,313.1L289.7,313.8L290.1,314.9L290.5,314.7L290.9,314.2L291.3,314.8L291.7,314.9L292.1,313.6L292.6,313.2L293.0,311.0L293.4,310.7L293.8,309.6L294.2,308.9L294.6,311.0L295.0,312.6L295.3,312.1L295.5,313.8L295.7,314.1L296.0,310.4L296.3,305.6L296.6,301.3L296.9,303.7L297.2,306.1L297.5,308.2L298.0,307.1L298.4,307.0L298.8,305.1L299.4,304.8L300.0,304.9L300.6,305.7L301.1,304.7L301.5,306.5L301.9,307.0L302.3,308.5L302.7,308.9L303.1,310.0L303.6,312.1L304.0,313.8L304.4,316.0L304.8,313.5L305.2,311.4L305.6,309.1L306.0,309.3L306.5,309.0L306.9,309.1L307.3,307.1L307.7,306.3L308.1,304.8L308.5,303.2L308.9,302.4L309.4,302.0L309.8,302.6L310.2,302.7L310.6,303.9L310.9,305.3L311.2,307.1L311.5,308.1L311.8,304.2L312.2,301.1L312.5,296.9L312.8,296.4L313.1,294.9L313.4,294.8L313.7,294.3L314.0,297.5L314.3,299.0L314.8,300.8L315.2,303.3L315.6,305.5L316.0,306.9L316.4,307.9L316.8,307.9L317.2,310.0L317.7,310.1L318.1,311.9L318.3,312.3L318.5,311.8L318.7,312.9" stroke="#111" stroke-width="1.7" fill="none" stroke-linejoin="round" />
<path d="M278.2,306.9L278.2,301.6L278.2,298.2L278.2,292.3L278.3,294.5L278.3,297.7L278.4,301.7L278.8,302.8L279.3,303.6L279.8,303.6L280.1,304.6L280.4,303.3L280.7,303.4L281.1,303.7L281.6,302.2L282.0,300.2L282.5,299.4L283.0,295.9L283.5,292.7L283.8,295.3L284.2,295.0L284.5,297.2L284.9,297.4L285.3,300.0L285.7,297.1L286.1,301.0L286.5,303.4L287.0,306.3L287.3,306.3L287.6,307.4L287.9,310.3L288.2,309.6L288.5,311.0L288.8,311.6L289.2,313.0L289.7,312.6L290.1,314.3L290.5,314.9L290.9,315.3L291.3,316.3L291.7,315.0L292.1,314.2L292.6,312.8L293.0,312.7L293.4,309.9L293.8,309.1L294.2,308.8L294.6,310.0L295.0,312.3L295.3,312.4L295.5,311.8L295.7,314.1L296.0,309.8L296.3,304.9L296.6,302.0L296.9,303.8L297.2,306.3L297.5,309.3L298.0,307.0L298.4,307.3L298.8,305.2L299.4,305.2L300.0,306.4L300.6,305.7L301.1,305.5L301.5,306.2L301.9,306.8L302.3,306.7L302.7,309.7L303.1,310.4L303.6,311.0L304.0,313.0L304.4,316.1L304.8,312.5L305.2,313.4L305.6,308.9L306.0,309.5L306.5,306.9L306.9,308.5L307.3,306.7L307.7,306.0L308.1,304.3L308.5,303.3L308.9,304.6L309.4,302.9L309.8,302.1L310.2,303.4L310.6,301.2L310.9,304.5L311.2,307.4L311.5,307.4L311.8,304.5L312.2,299.9L312.5,297.9L312.8,296.4L313.1,295.2L313.4,294.9L313.7,297.0L314.0,297.7L314.3,297.2L314.8,301.1L315.2,303.3L315.6,304.5L316.0,304.9L316.4,306.7L316.8,307.6L317.2,309.1L317.7,309.8L318.1,311.7L318.3,312.3L318.5,312.2L318.7,312.9" stroke="#444" stroke-width="0.8" fill="none" stroke-linejoin="round" />
<rect x="330.60" y="302.70" width="8.60" height="8.10" stroke="#000" stroke-width="0.9" fill="none" />
<line x1="330.60" y1="306.70" x2="339.20" y2="306.70" stroke="#000" stroke-width="1.5" />
<line x1="334.90" y1="292.00" x2="334.90" y2="302.70" stroke="#000" stroke-width="0.8" stroke-dasharray="1.5,1"/>
<line x1="332.75" y1="292.00" x2="337.05" y2="292.00" stroke="#000" stroke-width="0.8" />
<line x1="334.90" y1="310.80" x2="334.90" y2="316.00" stroke="#000" stroke-width="0.8" stroke-dasharray="1.5,1"/>
<line x1="332.75" y1="316.00" x2="337.05" y2="316.00" stroke="#000" stroke-width="0.8" />
<rect x="439.85" y="36.45" width="87.30" height="36.70" stroke="#222" stroke-width="1" fill="none" />
<rect x="529.65" y="36.45" width="22.20" height="36.70" stroke="#222" stroke-width="1" fill="none" />
<line x1="552.60" y1="36.45" x2="552.60" y2="73.15" stroke="#b4b4b4" stroke-width="0.9" />
<line x1="433.85" y1="37.75" x2="439.85" y2="37.75" stroke="#222" stroke-width="1" />
<line x1="433.85" y1="44.63" x2="439.85" y2="44.63" stroke="#222" stroke-width="1" />
<text transform="translate(426.65,44.63) rotate(-90) scale(1,1.05)" font-size="9.0">2.00</text>
<line x1="433.85" y1="49.84" x2="439.85" y2="49.84" stroke="#222" stroke-width="1" />
<line x1="433.85" y1="55.05" x2="439.85" y2="55.05" stroke="#222" stroke-width="1" />
<line x1="433.85" y1="61.93" x2="439.85" y2="61.93" stroke="#222" stroke-width="1" />
<line x1="433.85" y1="67.14" x2="439.85" y2="67.14" stroke="#222" stroke-width="1" />
<line x1="433.85" y1="72.35" x2="439.85" y2="72.35" stroke="#222" stroke-width="1" />
<text transform="translate(426.65,71.35) rotate(-90) scale(1,1.05)" font-size="9.0">0.05</text>
<text transform="translate(402.45,54.80) rotate(-90) scale(1,1.05)" font-size="9.5">τ<tspan font-size="6.5" dy="1.8">D</tspan><tspan dy="-1.8"> [s]</tspan></text>
<line x1="483.65" y1="36.45" x2="483.65" y2="73.15" stroke="#111" stroke-width="0.85" stroke-dasharray="1,1.2"/>
<path d="M442.9,61.5L443.0,61.1L443.1,60.6L443.2,61.3L443.3,61.7L443.4,62.3L443.4,60.4L443.5,61.1L443.6,60.9L443.7,61.4L443.8,60.9L443.8,61.4L443.9,61.8L444.0,61.0L444.1,61.3L444.2,62.1L444.3,61.7L444.3,60.6L444.4,62.3L444.5,61.0L444.6,61.5L444.7,61.1L444.7,61.1L444.8,61.0L444.9,61.6L445.0,61.0L445.1,60.8L445.2,61.1L445.2,61.3L445.3,60.4L445.4,61.7L445.5,61.0L445.6,61.7L445.6,62.0L445.7,61.5L445.8,61.6L445.9,61.1L446.0,61.0L446.0,60.5L446.1,61.2L446.2,61.1L446.3,60.4L446.4,61.5L446.5,62.0L446.5,61.5L446.6,61.9L446.7,61.2L446.8,60.9L446.9,61.4L446.9,61.2L447.0,60.8L447.1,61.8L447.2,61.4L447.3,61.0L447.4,61.4L447.4,61.3L447.5,61.6L447.6,62.0L447.7,61.1L447.8,60.8L447.8,62.0L447.9,62.3L448.0,61.1L448.1,60.9L448.2,60.8L448.3,61.3L448.3,61.4L448.4,61.2L448.5,61.7L448.6,61.0L448.7,61.1L448.7,60.8L448.8,62.0L448.9,61.8L449.0,61.9L449.1,61.0L449.1,61.9L449.2,61.5L449.3,61.7L449.4,61.6L449.5,61.2L449.6,61.3L449.6,60.6L449.7,61.1L449.8,61.2L449.9,60.8L450.0,61.4L450.0,61.9L450.1,61.1L450.2,60.9L450.3,61.0L450.4,61.4L450.5,62.1L450.5,61.4L450.6,61.4L450.7,60.8L450.8,61.5L450.9,61.6L450.9,61.2L451.0,61.3L451.1,61.0L451.2,61.7L451.3,61.9L451.4,61.5L451.4,61.6L451.5,61.4L451.6,61.1L451.7,61.0L451.8,61.2L451.8,61.4L451.9,61.3L452.0,61.8L452.1,61.7L452.2,62.0L452.2,61.7L452.3,61.2L452.4,61.4L452.5,60.6L452.6,62.1L452.7,61.1L452.7,61.2L452.8,62.2L452.9,60.9L453.0,61.1L453.1,61.3L453.1,61.1L453.2,61.4L453.3,61.5L453.4,61.6L453.5,61.3L453.6,61.7L453.6,61.2L453.7,61.6L453.8,61.9L453.9,60.6L454.0,61.2L454.0,61.4L454.1,60.5L454.2,60.4L454.3,61.5L454.4,61.1L454.5,61.7L454.5,61.3L454.6,61.3L454.7,61.2L454.8,61.4L454.9,60.9L454.9,61.1L455.0,61.7L455.1,61.2L455.2,61.6L455.3,61.3L455.3,61.2L455.4,60.9L455.5,61.7L455.6,61.0L455.7,61.5L455.8,60.6L455.8,61.5L455.9,61.5L456.0,61.1L456.1,60.6L456.2,61.3L456.2,61.4L456.3,61.1L456.4,61.0L456.5,61.8L456.6,61.3L456.7,61.2L456.7,61.7L456.8,61.3L456.9,61.0L457.0,61.7L457.1,61.2L457.1,61.8L457.2,61.0L457.3,61.5L457.4,61.9L457.5,61.5L457.5,61.6L457.6,61.5L457.7,61.7L457.8,61.4L457.9,61.5L458.0,61.2L458.0,62.2L458.1,61.0L458.2,61.7L458.3,60.9L458.4,61.6L458.4,61.9L458.5,60.9L458.6,62.1L458.7,60.9L458.8,61.0L458.9,61.5L458.9,60.9L459.0,61.8L459.1,61.6L459.2,60.4L459.3,60.7L459.3,61.0L459.4,61.5L459.5,60.9L459.6,61.0L459.7,61.6L459.8,60.9L459.8,61.5L459.9,60.7L460.0,61.8L460.1,62.0L460.2,60.8L460.2,60.4L460.3,60.6L460.4,61.8L460.5,61.1L460.6,61.8L460.6,60.7L460.7,60.9L460.8,61.3L460.9,61.8L461.0,61.2L461.1,60.9L461.1,61.5L461.2,61.4L461.3,61.6L461.4,61.3L461.5,61.1L461.5,61.3L461.6,60.4L461.7,61.5L461.8,61.9L461.9,61.6L462.0,60.9L462.0,60.7L462.1,61.9L462.2,61.1L462.3,61.2L462.4,61.4L462.4,61.1L462.5,61.4L462.6,62.0L462.7,61.1L462.8,62.2L462.9,61.5L462.9,61.5L463.0,61.8L463.1,61.7L463.2,61.8L463.3,61.6L463.3,61.1L463.4,62.1L463.5,61.3L463.6,61.0L463.7,61.7L463.7,61.6L463.8,61.3L463.9,61.4L464.0,61.6L464.1,62.2L464.2,61.3L464.2,60.8L464.3,61.1L464.4,61.6L464.5,61.3L464.6,61.0L464.6,61.7L464.7,61.7L464.8,61.2L464.9,61.5L465.0,61.1L465.1,61.1L465.1,61.2L465.2,60.7L465.3,61.5L465.4,61.3L465.5,61.1L465.5,61.4L465.6,61.4L465.7,61.0L465.8,61.1L465.9,61.0L466.0,61.9L466.0,60.6L466.1,61.3L466.2,61.7L466.3,60.8L466.4,60.9L466.4,60.9L466.5,60.5L466.6,61.8L466.7,61.2L466.8,60.8L466.8,61.0L466.9,61.4L467.0,61.1L467.1,60.9L467.2,61.5L467.3,60.9L467.3,61.1L467.4,61.4L467.5,61.0L467.6,61.3L467.7,61.0L467.7,62.3L467.8,61.1L467.9,61.6L468.0,60.9L468.1,60.8L468.2,61.2L468.2,61.1L468.3,61.1L468.4,61.3L468.5,61.7L468.6,62.1L468.6,62.2L468.7,61.3L468.8,62.1L468.9,62.0L469.0,61.0L469.1,61.1L469.1,61.2L469.2,62.1L469.3,61.2L469.4,61.2L469.5,61.9L469.5,61.2L469.6,61.2L469.7,61.5L469.8,61.3L469.9,60.4L469.9,60.7L470.0,61.6L470.1,60.6L470.2,61.8L470.3,61.2L470.4,61.4L470.4,61.4L470.5,60.4L470.6,60.9L470.7,60.8L470.8,61.4L470.8,61.9L470.9,61.1L471.0,61.3L471.1,60.4L471.2,61.1L471.3,61.1L471.3,61.2L471.4,61.5L471.5,61.9L471.6,61.2L471.7,61.4L471.7,60.6L471.8,61.5L471.9,61.3L472.0,60.5L472.1,61.4L472.1,61.0L472.2,61.7L472.3,61.5L472.4,61.3L472.5,62.0L472.6,61.2L472.6,61.1L472.7,61.3L472.8,61.3L472.9,60.9L473.0,61.5L473.0,61.4L473.1,61.0L473.2,60.6L473.3,61.8L473.4,61.9L473.5,61.7L473.5,61.7L473.6,62.1L473.7,61.4L473.8,62.0L473.9,61.2L473.9,60.9L474.0,61.3L474.1,61.2L474.2,61.5L474.3,62.1L474.4,61.5L474.4,61.8L474.5,62.3L474.6,62.1L474.7,61.4L474.8,61.0L474.8,62.3L474.9,60.8L475.0,60.5L475.1,60.4L475.2,61.8L475.2,60.7L475.3,61.2L475.4,61.3L475.5,61.9L475.6,60.7L475.7,61.3L475.7,61.5L475.8,62.0L475.9,61.2L476.0,61.4L476.1,61.2L476.1,61.8L476.2,61.7L476.3,61.1L476.4,61.6L476.5,60.7L476.6,61.4L476.6,60.9L476.7,61.1L476.8,61.8L476.9,62.3L477.0,61.4L477.0,61.3L477.1,61.2L477.2,61.7L477.3,61.2L477.4,61.8L477.5,62.0L477.5,61.6L477.6,61.2L477.7,61.7L477.8,61.0L477.9,60.5L477.9,61.8L478.0,62.2L478.1,61.9L478.2,61.2L478.3,60.4L478.3,61.0L478.4,61.6L478.5,61.2L478.6,62.0L478.7,61.0L478.8,61.6L478.8,61.4L478.9,61.4L479.0,60.7L479.1,61.3L479.2,61.4L479.2,61.1L479.3,60.7L479.4,61.1L479.5,60.9L479.6,61.5L479.7,61.8L479.7,61.5L479.8,61.5L479.9,61.2L480.0,61.4L480.1,60.4L480.1,61.4L480.2,61.7L480.3,61.1L480.4,61.6L480.5,60.6L480.6,61.3L480.6,61.2L480.7,61.5L480.8,61.4L480.9,62.3L481.0,60.4L481.0,60.7L481.1,61.0L481.2,61.4L481.3,61.0L481.4,61.0L481.4,60.6L481.5,60.7L481.6,60.9L481.7,62.0L481.8,60.9L481.9,62.3L481.9,61.8L482.0,61.2L482.1,61.7L482.2,61.8L482.3,60.8L482.3,60.6L482.4,62.0L482.5,60.9L482.6,61.7L482.7,61.6L482.8,60.6L482.8,61.6L482.9,61.6L483.0,61.9L483.1,61.3L483.2,61.5L483.2,61.5L483.3,61.2L483.4,62.1L483.5,61.8L483.6,62.0L483.6,61.5" stroke="#acacac" stroke-width="0.9" fill="none" stroke-linejoin="round" />
<path d="M483.6,61.6L483.7,60.8L483.8,60.9L483.9,61.6L484.0,61.1L484.1,61.0L484.1,61.2L484.2,60.5L484.3,61.2L484.4,61.4L484.5,61.0L484.5,60.7L484.6,61.9L484.7,61.3L484.8,60.8L484.9,60.9L484.9,60.5L485.0,60.5L485.1,60.4L485.2,60.8L485.3,61.3L485.4,61.5L485.4,61.1L485.5,61.6L485.6,61.4L485.7,60.7L485.8,60.8L485.8,61.3L485.9,61.4L486.0,61.6L486.1,60.6L486.2,60.4L486.2,62.0L486.3,61.1L486.4,61.6L486.5,61.2L486.6,60.6L486.7,61.7L486.7,61.4L486.8,61.8L486.9,61.4L487.0,60.8L487.1,61.2L487.1,61.6L487.2,60.9L487.3,61.3L487.4,61.6L487.5,60.7L487.5,61.0L487.6,61.3L487.7,61.6L487.8,61.1L487.9,60.9L488.0,61.4L488.0,60.9L488.1,61.4L488.2,61.3L488.3,61.1L488.4,61.5L488.4,61.7L488.5,60.7L488.6,61.4L488.7,61.1L488.8,61.1L488.8,61.2L488.9,61.7L489.0,61.1L489.1,61.1L489.2,60.7L489.3,61.1L489.3,61.2L489.4,60.8L489.5,61.1L489.6,61.4L489.7,61.7L489.7,61.1L489.8,62.0L489.9,61.6L490.0,61.5L490.1,61.4L490.1,61.2L490.2,60.9L490.3,61.2L490.4,61.2L490.5,61.3L490.5,61.8L490.6,62.0L490.7,61.4L490.8,61.6L490.9,60.9L491.0,60.4L491.0,61.2L491.1,61.3L491.2,61.8L491.3,62.0L491.4,61.3L491.4,61.7L491.5,61.7L491.6,61.3L491.7,61.5L491.8,61.4L491.8,61.8L491.9,60.8L492.0,60.4L492.1,61.3L492.2,61.6L492.3,61.6L492.3,61.0L492.4,61.4L492.5,61.0L492.6,61.5L492.7,60.9L492.7,60.8L492.8,61.6L492.9,60.7L493.0,60.6L493.1,61.5L493.1,61.3L493.2,60.4L493.3,61.7L493.4,60.7L493.5,61.0L493.6,61.2L493.6,62.0L493.7,61.2L493.8,61.6L493.9,61.2L494.0,61.4L494.0,60.7L494.1,61.2L494.2,61.0L494.3,60.8L494.4,61.3L494.4,61.6L494.5,61.4L494.6,61.1L494.7,61.5L494.8,60.8L494.9,61.4L494.9,61.4L495.0,61.2L495.1,61.1L495.2,61.3L495.3,61.0L495.3,61.1L495.4,61.5L495.5,60.5L495.6,61.7L495.7,61.4L495.7,61.3L495.8,60.8L495.9,61.1L496.0,61.0L496.1,61.5L496.1,61.5L496.2,61.7L496.3,61.2L496.4,60.4L496.5,60.8L496.6,61.1L496.6,61.4L496.7,60.6L496.8,61.1L496.9,61.2L497.0,61.0L497.0,61.1L497.1,62.0L497.2,61.2L497.3,62.0L497.4,61.3L497.4,60.9L497.5,61.4L497.6,61.0L497.7,61.2L497.8,60.4L497.9,61.3L497.9,61.0L498.0,61.7L498.1,61.3L498.2,61.1L498.3,60.8L498.3,61.2L498.4,61.1L498.5,60.9L498.6,61.9L498.7,61.1L498.7,61.6L498.8,61.8L498.9,61.4L499.0,61.5L499.1,61.4L499.2,61.6L499.2,61.4L499.3,61.4L499.4,61.3L499.5,61.0L499.6,61.0L499.6,60.9L499.7,61.3L499.8,61.7L499.9,60.8L500.0,61.0L500.0,60.8L500.1,61.2L500.2,61.6L500.3,61.1L500.4,61.3L500.5,60.4L500.5,61.1L500.6,61.4L500.7,61.0L500.8,60.6L500.9,61.4L500.9,61.2L501.0,61.9L501.1,61.0L501.2,61.1L501.3,61.0L501.3,61.2L501.4,60.5L501.5,61.7L501.6,61.5L501.7,61.1L501.7,61.1L501.8,61.4L501.9,61.3L502.0,61.0L502.1,61.1L502.2,61.3L502.2,61.0L502.3,61.1L502.4,61.0L502.5,61.1L502.6,60.7L502.6,60.8L502.7,61.3L502.8,61.5L502.9,61.2L503.0,60.4L503.0,60.6L503.1,61.4L503.2,61.9L503.3,61.7L503.4,61.1L503.5,61.1L503.5,61.0L503.6,61.9L503.7,61.3L503.8,60.8L503.9,61.6L503.9,61.5L504.0,60.4L504.1,61.0L504.2,61.6L504.3,61.6L504.3,60.7L504.4,61.2L504.5,61.5L504.6,61.3L504.7,60.8L504.8,61.1L504.8,61.5L504.9,61.4L505.0,60.8L505.1,62.0L505.2,61.3L505.2,60.6L505.3,61.1L505.4,60.4L505.5,60.9L505.6,61.2L505.6,62.0L505.7,61.3L505.8,61.4L505.9,61.5L506.0,61.3L506.1,61.0L506.1,61.7L506.2,61.4L506.3,61.8L506.4,61.6L506.5,60.8L506.5,61.0L506.6,61.1L506.7,61.1L506.8,61.4L506.9,61.1L506.9,60.9L507.0,61.8L507.1,61.8L507.2,61.2L507.3,60.8L507.3,61.0L507.4,60.9L507.5,60.9L507.6,60.8L507.7,61.3L507.8,61.3L507.8,61.4L507.9,60.9L508.0,61.3L508.1,62.0L508.2,61.3L508.2,61.1L508.3,62.0L508.4,61.3L508.5,61.0L508.6,61.6L508.6,60.9L508.7,61.1L508.8,61.6L508.9,61.0L509.0,60.6L509.1,61.5L509.1,61.5L509.2,60.7L509.3,61.1L509.4,61.6L509.5,61.3L509.5,61.5L509.6,61.2L509.7,61.0L509.8,61.0L509.9,61.1L509.9,61.3L510.0,60.4L510.1,60.5L510.2,61.2L510.3,61.5L510.4,61.0L510.4,61.2L510.5,60.8L510.6,60.7L510.7,61.3L510.8,61.2L510.8,61.0L510.9,60.7L511.0,61.3L511.1,61.2L511.2,61.1L511.2,61.2L511.3,61.1L511.4,61.4L511.5,61.4L511.6,61.9L511.7,61.8L511.7,61.2L511.8,60.7L511.9,61.5L512.0,61.0L512.1,61.8L512.1,60.6L512.2,61.1L512.3,61.8L512.4,61.2L512.5,61.5L512.5,61.5L512.6,61.0L512.7,61.5L512.8,60.9L512.9,61.1L512.9,62.0L513.0,61.1L513.1,61.4L513.2,60.8L513.3,61.7L513.4,60.9L513.4,60.9L513.5,61.0L513.6,60.8L513.7,60.7L513.8,61.1L513.8,61.0L513.9,61.2L514.0,60.8L514.1,60.9L514.2,61.1L514.2,61.2L514.3,60.8L514.4,61.2L514.5,61.1L514.6,61.6L514.7,61.5L514.7,61.4L514.8,61.6L514.9,61.0L515.0,61.7L515.1,61.3L515.1,61.0L515.2,61.4L515.3,60.8L515.4,61.9L515.5,61.3L515.5,60.6L515.6,60.8L515.7,61.0L515.8,61.0L515.9,61.4L516.0,61.5L516.0,61.6L516.1,61.4L516.2,60.8L516.3,61.6L516.4,61.7L516.4,60.5L516.5,61.0L516.6,61.1L516.7,60.9L516.8,61.6L516.8,61.4L516.9,61.2L517.0,60.7L517.1,60.4L517.2,60.8L517.3,60.9L517.3,60.9L517.4,60.4L517.5,60.6L517.6,61.0L517.7,61.3L517.7,61.0L517.8,61.1L517.9,61.2L518.0,61.2L518.1,61.7L518.1,60.9L518.2,61.3L518.3,60.7L518.4,61.7L518.5,61.5L518.5,61.6L518.6,61.2L518.7,61.1L518.8,60.7L518.9,61.3L519.0,61.7L519.0,60.4L519.1,61.9L519.2,60.9L519.3,61.4L519.4,60.9L519.4,61.1L519.5,61.5L519.6,61.1L519.7,61.9L519.8,61.2L519.8,61.5L519.9,61.0L520.0,61.0L520.1,61.0L520.2,61.4L520.3,61.8L520.3,61.2L520.4,60.7L520.5,61.0L520.6,60.7L520.7,61.4L520.7,61.2L520.8,60.8L520.9,61.1L521.0,61.6L521.1,61.4L521.1,61.0L521.2,61.5L521.3,61.4L521.4,61.0L521.5,61.3L521.6,61.9L521.6,60.8L521.7,61.6L521.8,61.1L521.9,61.4L522.0,61.4L522.0,61.3L522.1,61.1L522.2,61.2L522.3,61.5L522.4,61.4L522.4,60.6L522.5,61.4L522.6,61.7L522.7,61.5L522.8,61.3L522.9,60.5L522.9,61.4L523.0,61.5L523.1,61.8L523.2,60.8L523.3,61.1L523.3,61.0L523.4,61.1L523.5,60.5L523.6,61.0L523.7,61.0L523.7,61.1L523.8,61.8L523.9,61.0L524.0,61.0L524.1,61.6L524.1,61.0" stroke="#000" stroke-width="1.3" fill="none" stroke-linejoin="round" />
<ellipse cx="540.45" cy="61.05" rx="1.30" ry="3.60" fill="none" stroke="#000" stroke-width="1.45"/>
<line x1="540.45" y1="58.17" x2="540.45" y2="63.93" stroke="#000" stroke-width="0.8" />
<line x1="536.05" y1="61.05" x2="544.85" y2="61.05" stroke="#000" stroke-width="1.8" />
<rect x="439.85" y="97.55" width="87.30" height="36.70" stroke="#222" stroke-width="1" fill="none" />
<rect x="529.65" y="97.55" width="22.20" height="36.70" stroke="#222" stroke-width="1" fill="none" />
<line x1="552.60" y1="97.55" x2="552.60" y2="134.25" stroke="#b4b4b4" stroke-width="0.9" />
<line x1="433.85" y1="99.05" x2="439.85" y2="99.05" stroke="#222" stroke-width="1" />
<text transform="translate(426.65,99.05) rotate(-90) scale(1,1.05)" font-size="9.0">1e-09</text>
<line x1="433.85" y1="104.15" x2="439.85" y2="104.15" stroke="#222" stroke-width="1" />
<line x1="433.85" y1="110.90" x2="439.85" y2="110.90" stroke="#222" stroke-width="1" />
<line x1="433.85" y1="116.00" x2="439.85" y2="116.00" stroke="#222" stroke-width="1" />
<line x1="433.85" y1="121.10" x2="439.85" y2="121.10" stroke="#222" stroke-width="1" />
<line x1="433.85" y1="127.85" x2="439.85" y2="127.85" stroke="#222" stroke-width="1" />
<line x1="433.85" y1="132.95" x2="439.85" y2="132.95" stroke="#222" stroke-width="1" />
<text transform="translate(426.65,132.95) rotate(-90) scale(1,1.05)" font-size="9.0">1e-11</text>
<text transform="translate(402.45,115.90) rotate(-90) scale(1,1.05)" font-size="9.5">D [m<tspan font-size="6.5" dy="-3.5">2</tspan><tspan dy="3.5">/s]</tspan></text>
<line x1="483.65" y1="97.55" x2="483.65" y2="134.25" stroke="#111" stroke-width="0.85" stroke-dasharray="1,1.2"/>
<path d="M442.9,115.4L443.0,115.0L443.1,114.6L443.2,114.5L443.3,114.9L443.4,114.8L443.4,114.9L443.5,114.6L443.6,115.1L443.7,114.5L443.8,114.6L443.8,114.8L443.9,114.3L444.0,114.7L444.1,114.8L444.2,114.2L444.3,114.1L444.3,115.4L444.4,114.7L444.5,114.8L444.6,114.6L444.7,115.5L444.7,114.8L444.8,114.1L444.9,115.1L445.0,114.4L445.1,115.0L445.2,114.8L445.2,115.4L445.3,115.1L445.4,114.7L445.5,115.5L445.6,115.8L445.6,114.6L445.7,115.3L445.8,115.0L445.9,115.0L446.0,114.3L446.0,114.4L446.1,115.5L446.2,114.9L446.3,114.6L446.4,115.6L446.5,115.4L446.5,115.2L446.6,114.4L446.7,114.8L446.8,115.5L446.9,114.0L446.9,114.1L447.0,114.5L447.1,115.3L447.2,115.0L447.3,115.1L447.4,114.9L447.4,114.9L447.5,115.4L447.6,115.8L447.7,115.1L447.8,115.4L447.8,114.7L447.9,115.6L448.0,114.9L448.1,114.9L448.2,114.7L448.3,114.5L448.3,114.6L448.4,114.4L448.5,114.3L448.6,115.7L448.7,115.1L448.7,115.3L448.8,115.1L448.9,114.2L449.0,114.9L449.1,114.5L449.1,114.5L449.2,114.8L449.3,114.9L449.4,114.9L449.5,114.9L449.6,114.7L449.6,114.9L449.7,115.4L449.8,115.8L449.9,115.4L450.0,114.8L450.0,115.0L450.1,115.3L450.2,115.3L450.3,115.4L450.4,115.4L450.5,115.0L450.5,114.7L450.6,114.2L450.7,115.3L450.8,115.1L450.9,114.5L450.9,114.9L451.0,114.7L451.1,114.7L451.2,115.6L451.3,114.7L451.4,115.8L451.4,114.8L451.5,114.5L451.6,114.9L451.7,115.8L451.8,114.8L451.8,115.1L451.9,113.9L452.0,115.1L452.1,114.2L452.2,114.8L452.2,115.5L452.3,114.7L452.4,115.2L452.5,114.7L452.6,114.7L452.7,115.0L452.7,115.3L452.8,114.9L452.9,114.8L453.0,114.4L453.1,114.1L453.1,114.9L453.2,114.8L453.3,115.0L453.4,115.3L453.5,115.2L453.6,114.5L453.6,115.0L453.7,115.0L453.8,114.7L453.9,113.9L454.0,114.5L454.0,114.8L454.1,115.2L454.2,114.7L454.3,114.2L454.4,115.5L454.5,114.8L454.5,114.6L454.6,115.1L454.7,115.2L454.8,114.8L454.9,114.6L454.9,114.6L455.0,115.2L455.1,114.8L455.2,115.1L455.3,114.0L455.3,114.6L455.4,114.7L455.5,114.6L455.6,114.0L455.7,114.6L455.8,115.5L455.8,115.0L455.9,114.6L456.0,114.5L456.1,114.2L456.2,114.9L456.2,114.5L456.3,114.7L456.4,115.2L456.5,115.3L456.6,115.1L456.7,114.1L456.7,114.6L456.8,115.4L456.9,114.3L457.0,115.4L457.1,114.8L457.1,115.3L457.2,114.6L457.3,114.3L457.4,114.4L457.5,115.5L457.5,114.7L457.6,114.3L457.7,115.2L457.8,114.1L457.9,114.8L458.0,115.0L458.0,115.0L458.1,115.0L458.2,114.8L458.3,113.9L458.4,114.9L458.4,114.8L458.5,114.7L458.6,115.1L458.7,115.2L458.8,114.9L458.9,115.5L458.9,115.8L459.0,115.0L459.1,114.7L459.2,114.2L459.3,115.1L459.3,114.0L459.4,115.6L459.5,115.3L459.6,114.6L459.7,115.1L459.8,114.4L459.8,114.3L459.9,115.2L460.0,114.4L460.1,114.9L460.2,114.8L460.2,115.5L460.3,115.0L460.4,115.5L460.5,115.2L460.6,114.5L460.6,114.3L460.7,113.9L460.8,114.8L460.9,113.9L461.0,114.5L461.1,113.9L461.1,114.5L461.2,115.1L461.3,114.4L461.4,114.6L461.5,114.6L461.5,114.9L461.6,114.2L461.7,114.9L461.8,114.8L461.9,114.4L462.0,114.4L462.0,115.4L462.1,115.1L462.2,115.0L462.3,114.4L462.4,114.7L462.4,114.2L462.5,114.0L462.6,114.6L462.7,114.6L462.8,114.3L462.9,114.3L462.9,115.0L463.0,114.6L463.1,114.1L463.2,115.7L463.3,114.0L463.3,114.9L463.4,114.4L463.5,115.1L463.6,114.9L463.7,115.3L463.7,114.8L463.8,114.5L463.9,115.5L464.0,114.8L464.1,114.7L464.2,114.7L464.2,114.5L464.3,115.0L464.4,115.6L464.5,115.5L464.6,115.0L464.6,115.1L464.7,115.2L464.8,114.5L464.9,115.5L465.0,114.9L465.1,114.0L465.1,115.1L465.2,114.4L465.3,115.0L465.4,115.1L465.5,114.7L465.5,114.9L465.6,115.4L465.7,114.2L465.8,114.0L465.9,114.8L466.0,114.7L466.0,115.7L466.1,115.3L466.2,115.1L466.3,114.8L466.4,113.9L466.4,114.2L466.5,114.7L466.6,114.9L466.7,114.6L466.8,114.9L466.8,115.1L466.9,114.5L467.0,114.6L467.1,114.4L467.2,115.4L467.3,113.9L467.3,115.1L467.4,115.2L467.5,113.9L467.6,114.6L467.7,115.3L467.7,114.4L467.8,114.5L467.9,114.8L468.0,115.4L468.1,115.1L468.2,114.5L468.2,114.2L468.3,114.1L468.4,115.0L468.5,113.9L468.6,114.5L468.6,115.1L468.7,114.3L468.8,114.7L468.9,114.7L469.0,115.1L469.1,114.2L469.1,114.8L469.2,114.8L469.3,114.8L469.4,114.1L469.5,115.0L469.5,114.4L469.6,114.7L469.7,114.4L469.8,115.7L469.9,114.8L469.9,115.8L470.0,114.5L470.1,114.7L470.2,115.5L470.3,114.6L470.4,115.0L470.4,115.3L470.5,114.6L470.6,114.5L470.7,114.7L470.8,115.3L470.8,115.0L470.9,115.4L471.0,114.7L471.1,114.6L471.2,114.3L471.3,114.7L471.3,114.5L471.4,114.7L471.5,114.4L471.6,114.5L471.7,114.7L471.7,115.2L471.8,114.7L471.9,114.5L472.0,115.3L472.1,115.4L472.1,114.7L472.2,114.7L472.3,114.0L472.4,114.1L472.5,114.8L472.6,115.4L472.6,115.6L472.7,115.2L472.8,114.6L472.9,115.0L473.0,114.1L473.0,114.8L473.1,114.3L473.2,114.8L473.3,115.4L473.4,115.8L473.5,114.9L473.5,115.0L473.6,114.1L473.7,114.5L473.8,115.5L473.9,115.3L473.9,115.2L474.0,115.0L474.1,115.5L474.2,114.7L474.3,114.7L474.4,115.8L474.4,114.4L474.5,115.0L474.6,114.6L474.7,115.5L474.8,114.7L474.8,114.7L474.9,114.7L475.0,115.2L475.1,114.4L475.2,114.1L475.2,114.8L475.3,114.6L475.4,115.0L475.5,114.7L475.6,114.5L475.7,114.9L475.7,115.0L475.8,115.3L475.9,114.8L476.0,114.0L476.1,114.8L476.1,114.8L476.2,114.8L476.3,115.0L476.4,114.7L476.5,115.3L476.6,114.7L476.6,115.4L476.7,114.3L476.8,113.9L476.9,114.4L477.0,115.8L477.0,114.7L477.1,114.8L477.2,114.9L477.3,114.6L477.4,114.9L477.5,114.9L477.5,115.7L477.6,115.4L477.7,114.9L477.8,115.1L477.9,115.1L477.9,114.3L478.0,115.3L478.1,114.5L478.2,115.2L478.3,114.9L478.3,115.2L478.4,115.5L478.5,115.1L478.6,114.6L478.7,114.7L478.8,115.1L478.8,114.6L478.9,114.6L479.0,114.8L479.1,114.7L479.2,115.1L479.2,114.6L479.3,114.9L479.4,114.5L479.5,114.0L479.6,115.2L479.7,115.3L479.7,114.6L479.8,115.2L479.9,115.0L480.0,114.3L480.1,115.4L480.1,113.9L480.2,114.8L480.3,115.1L480.4,114.3L480.5,115.5L480.6,114.6L480.6,115.4L480.7,114.7L480.8,115.1L480.9,114.8L481.0,115.8L481.0,115.0L481.1,115.3L481.2,115.2L481.3,114.9L481.4,114.7L481.4,115.0L481.5,115.3L481.6,115.2L481.7,115.1L481.8,114.8L481.9,115.2L481.9,114.4L482.0,114.8L482.1,113.9L482.2,114.5L482.3,114.8L482.3,114.2L482.4,114.3L482.5,115.3L482.6,115.1L482.7,115.3L482.8,115.4L482.8,115.1L482.9,115.2L483.0,115.0L483.1,115.4L483.2,114.2L483.2,114.8L483.3,115.3L483.4,115.2L483.5,114.9L483.6,114.7L483.6,115.2" stroke="#acacac" stroke-width="0.9" fill="none" stroke-linejoin="round" />
<path d="M483.6,114.7L483.7,114.4L483.8,115.3L483.9,114.7L484.0,114.9L484.1,114.2L484.1,114.0L484.2,115.0L484.3,115.5L484.4,114.0L484.5,114.6L484.5,115.0L484.6,114.9L484.7,114.8L484.8,114.8L484.9,114.4L484.9,115.2L485.0,115.2L485.1,115.0L485.2,114.0L485.3,115.5L485.4,114.8L485.4,115.0L485.5,115.6L485.6,115.3L485.7,114.8L485.8,115.2L485.8,115.0L485.9,114.6L486.0,114.9L486.1,114.1L486.2,114.2L486.2,114.9L486.3,115.4L486.4,114.4L486.5,115.3L486.6,114.9L486.7,115.5L486.7,114.7L486.8,115.6L486.9,115.0L487.0,114.7L487.1,114.9L487.1,114.1L487.2,115.0L487.3,114.7L487.4,115.0L487.5,114.7L487.5,114.0L487.6,114.0L487.7,114.5L487.8,114.3L487.9,115.2L488.0,114.4L488.0,115.0L488.1,114.7L488.2,115.4L488.3,114.8L488.4,114.9L488.4,114.4L488.5,115.0L488.6,115.1L488.7,114.8L488.8,115.1L488.8,114.4L488.9,114.7L489.0,115.0L489.1,114.7L489.2,115.3L489.3,115.1L489.3,114.6L489.4,114.4L489.5,114.8L489.6,114.5L489.7,114.6L489.7,114.4L489.8,115.1L489.9,114.9L490.0,114.9L490.1,115.1L490.1,114.0L490.2,114.8L490.3,114.7L490.4,115.1L490.5,115.0L490.5,115.0L490.6,115.3L490.7,114.1L490.8,114.4L490.9,115.3L491.0,115.4L491.0,114.5L491.1,115.3L491.2,115.2L491.3,114.3L491.4,114.6L491.4,114.9L491.5,114.8L491.6,115.5L491.7,115.0L491.8,115.2L491.8,114.5L491.9,114.3L492.0,114.6L492.1,115.4L492.2,115.5L492.3,114.5L492.3,114.7L492.4,114.0L492.5,115.3L492.6,114.3L492.7,115.2L492.7,115.3L492.8,114.3L492.9,114.5L493.0,115.1L493.1,115.4L493.1,114.6L493.2,114.4L493.3,114.9L493.4,115.3L493.5,114.4L493.6,114.5L493.6,115.3L493.7,114.9L493.8,114.5L493.9,114.8L494.0,115.0L494.0,115.2L494.1,114.9L494.2,114.8L494.3,114.1L494.4,115.0L494.4,115.0L494.5,114.9L494.6,114.8L494.7,114.8L494.8,115.2L494.9,114.7L494.9,114.3L495.0,115.2L495.1,114.6L495.2,114.7L495.3,115.0L495.3,114.7L495.4,114.8L495.5,114.4L495.6,115.3L495.7,114.3L495.7,115.3L495.8,114.3L495.9,114.5L496.0,114.6L496.1,115.1L496.1,114.9L496.2,114.6L496.3,114.3L496.4,115.2L496.5,114.8L496.6,115.0L496.6,114.7L496.7,114.6L496.8,115.1L496.9,114.9L497.0,115.3L497.0,114.9L497.1,114.2L497.2,115.1L497.3,114.8L497.4,114.7L497.4,114.0L497.5,114.5L497.6,114.9L497.7,114.5L497.8,114.9L497.9,115.0L497.9,114.8L498.0,114.4L498.1,115.0L498.2,114.9L498.3,114.7L498.3,114.0L498.4,114.3L498.5,115.1L498.6,114.7L498.7,114.1L498.7,114.7L498.8,114.8L498.9,115.1L499.0,115.0L499.1,114.9L499.2,114.5L499.2,114.1L499.3,114.5L499.4,115.3L499.5,114.2L499.6,115.2L499.6,114.2L499.7,114.3L499.8,114.8L499.9,114.5L500.0,114.7L500.0,114.3L500.1,114.8L500.2,115.1L500.3,114.2L500.4,115.0L500.5,114.9L500.5,115.1L500.6,114.0L500.7,115.1L500.8,114.3L500.9,114.7L500.9,114.6L501.0,114.4L501.1,114.4L501.2,114.5L501.3,114.9L501.3,115.1L501.4,114.7L501.5,115.1L501.6,114.8L501.7,115.2L501.7,114.3L501.8,114.8L501.9,114.8L502.0,114.8L502.1,114.9L502.2,115.1L502.2,114.8L502.3,115.0L502.4,114.7L502.5,114.7L502.6,114.5L502.6,115.2L502.7,115.1L502.8,115.3L502.9,114.6L503.0,114.7L503.0,115.6L503.1,115.2L503.2,114.2L503.3,115.1L503.4,114.9L503.5,114.6L503.5,114.7L503.6,114.4L503.7,114.6L503.8,114.5L503.9,114.3L503.9,114.6L504.0,114.4L504.1,115.1L504.2,115.2L504.3,114.7L504.3,114.6L504.4,115.0L504.5,114.7L504.6,115.6L504.7,114.0L504.8,114.0L504.8,114.3L504.9,115.0L505.0,115.1L505.1,114.6L505.2,114.8L505.2,114.7L505.3,115.0L505.4,115.6L505.5,114.0L505.6,115.6L505.6,115.2L505.7,114.7L505.8,115.0L505.9,114.8L506.0,115.0L506.1,115.0L506.1,115.1L506.2,114.4L506.3,115.0L506.4,114.5L506.5,114.7L506.5,115.1L506.6,114.6L506.7,114.9L506.8,114.9L506.9,114.8L506.9,114.3L507.0,115.0L507.1,114.9L507.2,115.6L507.3,114.4L507.3,115.2L507.4,114.6L507.5,114.7L507.6,115.5L507.7,114.7L507.8,115.1L507.8,114.8L507.9,114.4L508.0,114.7L508.1,114.6L508.2,114.7L508.2,115.5L508.3,115.0L508.4,114.1L508.5,115.5L508.6,114.9L508.6,115.2L508.7,115.4L508.8,114.5L508.9,114.9L509.0,114.7L509.1,114.7L509.1,114.7L509.2,114.8L509.3,115.3L509.4,115.1L509.5,114.9L509.5,115.3L509.6,114.0L509.7,114.8L509.8,114.9L509.9,114.9L509.9,115.4L510.0,114.9L510.1,115.4L510.2,114.7L510.3,115.1L510.4,114.8L510.4,114.7L510.5,115.0L510.6,115.0L510.7,114.4L510.8,115.2L510.8,114.7L510.9,114.8L511.0,114.0L511.1,114.8L511.2,114.0L511.2,115.2L511.3,114.5L511.4,114.6L511.5,114.7L511.6,114.3L511.7,114.8L511.7,114.3L511.8,114.7L511.9,115.1L512.0,115.3L512.1,115.4L512.1,114.7L512.2,114.4L512.3,115.0L512.4,115.4L512.5,114.5L512.5,115.3L512.6,114.7L512.7,114.0L512.8,114.8L512.9,115.6L512.9,115.1L513.0,115.2L513.1,115.0L513.2,114.1L513.3,114.0L513.4,114.4L513.4,114.6L513.5,114.4L513.6,114.5L513.7,115.1L513.8,115.4L513.8,114.1L513.9,114.4L514.0,114.8L514.1,114.7L514.2,114.0L514.2,115.6L514.3,115.1L514.4,114.9L514.5,114.0L514.6,114.9L514.7,114.3L514.7,115.0L514.8,114.9L514.9,114.8L515.0,115.0L515.1,114.6L515.1,114.9L515.2,114.0L515.3,115.1L515.4,114.7L515.5,115.6L515.5,114.8L515.6,114.0L515.7,115.4L515.8,114.5L515.9,114.3L516.0,114.8L516.0,115.3L516.1,115.6L516.2,114.6L516.3,114.9L516.4,114.9L516.4,114.5L516.5,114.6L516.6,114.7L516.7,114.8L516.8,115.2L516.8,114.0L516.9,115.0L517.0,115.0L517.1,115.4L517.2,114.6L517.3,114.6L517.3,114.8L517.4,114.6L517.5,114.6L517.6,114.5L517.7,114.5L517.7,114.4L517.8,114.6L517.9,114.5L518.0,114.5L518.1,114.3L518.1,115.2L518.2,114.9L518.3,114.8L518.4,114.4L518.5,115.1L518.5,114.7L518.6,114.8L518.7,114.8L518.8,114.7L518.9,115.2L519.0,114.5L519.0,114.5L519.1,114.9L519.2,114.7L519.3,115.0L519.4,115.2L519.4,115.3L519.5,115.2L519.6,114.7L519.7,114.7L519.8,114.6L519.8,115.3L519.9,114.7L520.0,114.5L520.1,114.4L520.2,115.1L520.3,114.4L520.3,114.0L520.4,115.1L520.5,114.9L520.6,115.1L520.7,115.2L520.7,115.0L520.8,115.0L520.9,114.8L521.0,114.5L521.1,114.0L521.1,114.0L521.2,115.0L521.3,115.1L521.4,114.8L521.5,114.5L521.6,115.1L521.6,114.8L521.7,114.8L521.8,114.7L521.9,114.3L522.0,114.4L522.0,115.0L522.1,115.5L522.2,115.5L522.3,114.7L522.4,115.0L522.4,114.8L522.5,114.9L522.6,115.0L522.7,115.2L522.8,114.3L522.9,115.5L522.9,114.8L523.0,114.4L523.1,115.6L523.2,114.4L523.3,114.8L523.3,114.5L523.4,115.3L523.5,114.0L523.6,114.9L523.7,114.2L523.7,115.4L523.8,115.6L523.9,115.2L524.0,114.5L524.1,115.3L524.1,115.6" stroke="#000" stroke-width="1.3" fill="none" stroke-linejoin="round" />
<ellipse cx="540.45" cy="114.75" rx="1.30" ry="3.20" fill="none" stroke="#000" stroke-width="1.45"/>
<line x1="540.45" y1="112.19" x2="540.45" y2="117.31" stroke="#000" stroke-width="0.8" />
<line x1="536.05" y1="114.75" x2="544.85" y2="114.75" stroke="#000" stroke-width="1.8" />
<rect x="439.85" y="158.65" width="87.30" height="36.70" stroke="#222" stroke-width="1" fill="none" />
<rect x="529.65" y="158.65" width="22.20" height="36.70" stroke="#222" stroke-width="1" fill="none" />
<line x1="552.60" y1="158.65" x2="552.60" y2="195.35" stroke="#b4b4b4" stroke-width="0.9" />
<line x1="433.85" y1="194.40" x2="439.85" y2="194.40" stroke="#222" stroke-width="1" />
<text transform="translate(426.65,194.40) rotate(-90) scale(1,1.05)" font-size="9.0">0.0</text>
<line x1="433.85" y1="187.54" x2="439.85" y2="187.54" stroke="#222" stroke-width="1" />
<line x1="433.85" y1="180.68" x2="439.85" y2="180.68" stroke="#222" stroke-width="1" />
<line x1="433.85" y1="173.82" x2="439.85" y2="173.82" stroke="#222" stroke-width="1" />
<line x1="433.85" y1="166.96" x2="439.85" y2="166.96" stroke="#222" stroke-width="1" />
<text transform="translate(426.65,166.96) rotate(-90) scale(1,1.05)" font-size="9.0">0.8</text>
<line x1="433.85" y1="160.10" x2="439.85" y2="160.10" stroke="#222" stroke-width="1" />
<text transform="translate(402.45,178.60) rotate(-90) scale(1,1.05)" font-size="9.5">F<tspan font-size="6.5" dy="1.8">0</tspan></text>
<line x1="483.65" y1="158.65" x2="483.65" y2="195.35" stroke="#111" stroke-width="0.85" stroke-dasharray="1,1.2"/>
<path d="M442.9,178.4L443.0,178.1L443.1,178.9L443.2,177.7L443.3,178.1L443.4,178.2L443.4,178.3L443.5,178.8L443.6,178.2L443.7,177.8L443.8,177.6L443.8,178.2L443.9,178.5L444.0,178.7L444.1,178.5L444.2,177.6L444.3,178.5L444.3,178.0L444.4,178.8L444.5,178.1L444.6,178.1L444.7,178.0L444.7,178.7L444.8,178.2L444.9,179.2L445.0,178.8L445.1,177.7L445.2,178.2L445.2,178.7L445.3,178.6L445.4,178.5L445.5,178.4L445.6,177.6L445.6,177.6L445.7,178.6L445.8,178.0L445.9,178.3L446.0,178.5L446.0,177.4L446.1,177.4L446.2,178.5L446.3,178.0L446.4,178.1L446.5,178.8L446.5,178.1L446.6,178.2L446.7,178.4L446.8,177.5L446.9,179.0L446.9,178.4L447.0,178.0L447.1,178.8L447.2,177.8L447.3,177.9L447.4,177.7L447.4,178.2L447.5,177.9L447.6,178.4L447.7,178.0L447.8,178.4L447.8,178.4L447.9,178.4L448.0,178.4L448.1,178.3L448.2,177.9L448.3,177.4L448.3,178.4L448.4,177.6L448.5,178.4L448.6,178.2L448.7,178.2L448.7,178.3L448.8,178.5L448.9,177.8L449.0,178.4L449.1,178.7L449.1,178.6L449.2,178.7L449.3,178.1L449.4,178.2L449.5,179.1L449.6,178.5L449.6,178.4L449.7,178.7L449.8,177.9L449.9,178.2L450.0,178.4L450.0,178.2L450.1,178.9L450.2,178.4L450.3,178.6L450.4,177.9L450.5,178.2L450.5,178.2L450.6,178.5L450.7,178.5L450.8,178.3L450.9,178.5L450.9,179.2L451.0,178.3L451.1,178.0L451.2,178.8L451.3,178.9L451.4,178.3L451.4,178.7L451.5,177.3L451.6,178.5L451.7,178.2L451.8,179.2L451.8,178.4L451.9,179.1L452.0,178.2L452.1,178.1L452.2,178.0L452.2,177.7L452.3,178.0L452.4,178.8L452.5,177.6L452.6,178.3L452.7,178.8L452.7,178.4L452.8,178.5L452.9,178.4L453.0,178.5L453.1,177.4L453.1,178.9L453.2,178.4L453.3,178.0L453.4,178.1L453.5,178.2L453.6,178.6L453.6,177.7L453.7,177.7L453.8,177.7L453.9,178.7L454.0,177.9L454.0,178.3L454.1,177.8L454.2,178.2L454.3,178.0L454.4,177.9L454.5,178.8L454.5,178.3L454.6,177.8L454.7,179.2L454.8,177.8L454.9,177.7L454.9,177.5L455.0,179.0L455.1,178.4L455.2,178.4L455.3,178.8L455.3,178.3L455.4,178.6L455.5,179.0L455.6,178.4L455.7,178.6L455.8,178.4L455.8,178.3L455.9,178.9L456.0,178.5L456.1,178.4L456.2,177.4L456.2,177.9L456.3,178.0L456.4,178.3L456.5,178.4L456.6,178.3L456.7,178.2L456.7,178.4L456.8,178.4L456.9,178.7L457.0,177.5L457.1,178.7L457.1,179.1L457.2,178.8L457.3,178.1L457.4,177.9L457.5,178.2L457.5,178.9L457.6,178.4L457.7,177.4L457.8,177.3L457.9,178.4L458.0,179.2L458.0,177.6L458.1,178.0L458.2,178.3L458.3,178.4L458.4,178.7L458.4,177.5L458.5,178.3L458.6,178.0L458.7,178.6L458.8,178.4L458.9,178.8L458.9,177.7L459.0,177.8L459.1,177.9L459.2,178.0L459.3,177.9L459.3,177.7L459.4,178.0L459.5,177.5L459.6,178.7L459.7,178.0L459.8,177.7L459.8,178.3L459.9,177.5L460.0,178.4L460.1,178.1L460.2,179.0L460.2,178.5L460.3,177.9L460.4,178.6L460.5,178.3L460.6,178.5L460.6,177.3L460.7,178.0L460.8,178.0L460.9,178.8L461.0,177.8L461.1,178.4L461.1,178.2L461.2,177.6L461.3,178.0L461.4,178.5L461.5,178.1L461.5,178.2L461.6,178.2L461.7,178.3L461.8,178.4L461.9,178.2L462.0,177.6L462.0,178.1L462.1,178.3L462.2,179.0L462.3,177.8L462.4,178.9L462.4,178.0L462.5,178.9L462.6,177.3L462.7,178.1L462.8,177.3L462.9,177.6L462.9,178.0L463.0,178.4L463.1,177.9L463.2,178.3L463.3,177.9L463.3,178.9L463.4,178.0L463.5,179.1L463.6,179.0L463.7,177.8L463.7,178.5L463.8,178.0L463.9,178.9L464.0,178.4L464.1,179.0L464.2,178.1L464.2,178.1L464.3,177.9L464.4,178.3L464.5,178.4L464.6,178.3L464.6,178.4L464.7,178.6L464.8,178.2L464.9,177.9L465.0,177.8L465.1,178.0L465.1,178.1L465.2,178.7L465.3,178.6L465.4,177.9L465.5,178.5L465.5,177.8L465.6,178.6L465.7,177.5L465.8,178.7L465.9,178.2L466.0,178.3L466.0,178.2L466.1,177.8L466.2,178.3L466.3,178.2L466.4,178.6L466.4,178.5L466.5,178.8L466.6,178.5L466.7,177.7L466.8,178.6L466.8,177.7L466.9,177.9L467.0,178.3L467.1,177.9L467.2,178.1L467.3,178.7L467.3,178.0L467.4,177.8L467.5,177.7L467.6,179.2L467.7,178.0L467.7,178.3L467.8,178.3L467.9,178.7L468.0,178.0L468.1,177.8L468.2,178.1L468.2,177.9L468.3,177.6L468.4,177.4L468.5,178.3L468.6,178.1L468.6,178.9L468.7,178.0L468.8,178.1L468.9,178.8L469.0,177.5L469.1,178.6L469.1,177.9L469.2,177.7L469.3,178.4L469.4,178.3L469.5,177.7L469.5,178.4L469.6,178.9L469.7,178.6L469.8,178.3L469.9,178.0L469.9,178.2L470.0,178.5L470.1,178.1L470.2,178.4L470.3,178.7L470.4,177.6L470.4,178.3L470.5,178.5L470.6,178.1L470.7,178.0L470.8,178.9L470.8,178.2L470.9,178.2L471.0,178.0L471.1,178.1L471.2,178.1L471.3,178.2L471.3,177.6L471.4,177.5L471.5,178.0L471.6,178.1L471.7,178.0L471.7,178.6L471.8,178.2L471.9,178.6L472.0,178.3L472.1,177.3L472.1,178.5L472.2,178.9L472.3,178.3L472.4,178.2L472.5,177.7L472.6,178.3L472.6,177.8L472.7,177.5L472.8,178.3L472.9,178.6L473.0,178.1L473.0,178.2L473.1,177.9L473.2,179.0L473.3,178.4L473.4,178.1L473.5,178.1L473.5,178.3L473.6,178.7L473.7,178.0L473.8,177.8L473.9,178.4L473.9,178.2L474.0,177.6L474.1,178.2L474.2,178.1L474.3,178.1L474.4,178.3L474.4,178.3L474.5,179.0L474.6,178.5L474.7,178.6L474.8,178.0L474.8,178.2L474.9,177.9L475.0,177.9L475.1,178.6L475.2,179.2L475.2,178.5L475.3,178.4L475.4,178.5L475.5,178.6L475.6,178.2L475.7,178.2L475.7,178.5L475.8,179.0L475.9,178.3L476.0,177.5L476.1,178.6L476.1,178.3L476.2,177.9L476.3,177.9L476.4,177.3L476.5,177.9L476.6,178.1L476.6,178.5L476.7,178.2L476.8,177.8L476.9,178.1L477.0,178.3L477.0,178.5L477.1,178.4L477.2,178.6L477.3,177.4L477.4,178.3L477.5,178.4L477.5,177.8L477.6,178.3L477.7,178.0L477.8,177.7L477.9,177.7L477.9,178.5L478.0,178.5L478.1,178.7L478.2,178.6L478.3,178.5L478.3,177.8L478.4,178.2L478.5,178.1L478.6,179.1L478.7,177.9L478.8,177.7L478.8,177.8L478.9,178.7L479.0,178.0L479.1,178.6L479.2,178.0L479.2,178.7L479.3,177.6L479.4,178.0L479.5,178.5L479.6,178.1L479.7,177.8L479.7,178.9L479.8,177.6L479.9,177.9L480.0,178.8L480.1,179.0L480.1,178.2L480.2,177.7L480.3,177.7L480.4,177.9L480.5,178.2L480.6,178.8L480.6,178.7L480.7,178.7L480.8,178.0L480.9,178.6L481.0,178.6L481.0,178.6L481.1,178.2L481.2,178.1L481.3,178.7L481.4,178.9L481.4,178.1L481.5,178.4L481.6,178.7L481.7,178.9L481.8,179.0L481.9,178.3L481.9,178.8L482.0,177.7L482.1,177.3L482.2,178.1L482.3,178.4L482.3,177.6L482.4,178.2L482.5,178.3L482.6,178.2L482.7,178.4L482.8,178.8L482.8,178.1L482.9,178.0L483.0,178.5L483.1,178.7L483.2,178.1L483.2,178.9L483.3,178.6L483.4,178.1L483.5,178.2L483.6,177.9L483.6,178.6" stroke="#acacac" stroke-width="0.9" fill="none" stroke-linejoin="round" />
<path d="M483.6,178.2L483.7,178.9L483.8,177.3L483.9,177.7L484.0,177.9L484.1,178.4L484.1,178.0L484.2,177.9L484.3,178.3L484.4,178.0L484.5,178.2L484.5,178.5L484.6,178.5L484.7,177.5L484.8,177.9L484.9,178.3L484.9,178.1L485.0,177.8L485.1,178.4L485.2,178.2L485.3,178.3L485.4,178.5L485.4,178.0L485.5,178.6L485.6,178.2L485.7,178.3L485.8,178.6L485.8,177.5L485.9,177.5L486.0,177.7L486.1,178.5L486.2,178.2L486.2,177.9L486.3,177.7L486.4,177.5L486.5,178.3L486.6,178.1L486.7,178.3L486.7,178.5L486.8,178.3L486.9,178.7L487.0,178.0L487.1,178.7L487.1,178.3L487.2,177.9L487.3,178.2L487.4,179.0L487.5,177.7L487.5,177.9L487.6,178.0L487.7,178.2L487.8,178.2L487.9,178.9L488.0,178.1L488.0,178.4L488.1,178.0L488.2,177.7L488.3,178.1L488.4,178.1L488.4,178.4L488.5,178.7L488.6,178.0L488.7,178.6L488.8,177.8L488.8,178.8L488.9,177.6L489.0,177.9L489.1,178.2L489.2,178.0L489.3,177.7L489.3,178.4L489.4,177.8L489.5,178.5L489.6,177.6L489.7,178.5L489.7,178.5L489.8,178.3L489.9,178.6L490.0,178.1L490.1,178.1L490.1,178.6L490.2,177.7L490.3,178.0L490.4,178.1L490.5,178.1L490.5,178.0L490.6,177.3L490.7,178.1L490.8,178.2L490.9,178.6L491.0,178.4L491.0,177.9L491.1,178.0L491.2,177.8L491.3,178.0L491.4,177.9L491.4,178.6L491.5,178.3L491.6,178.4L491.7,178.0L491.8,178.1L491.8,178.3L491.9,177.8L492.0,178.3L492.1,178.5L492.2,177.9L492.3,178.1L492.3,177.8L492.4,178.8L492.5,178.3L492.6,178.6L492.7,178.1L492.7,177.8L492.8,178.1L492.9,178.7L493.0,178.8L493.1,178.4L493.1,178.1L493.2,178.3L493.3,178.6L493.4,177.7L493.5,178.5L493.6,177.8L493.6,178.3L493.7,178.4L493.8,178.3L493.9,178.2L494.0,178.7L494.0,178.0L494.1,178.0L494.2,177.8L494.3,178.2L494.4,178.4L494.4,178.1L494.5,177.4L494.6,178.3L494.7,178.4L494.8,177.8L494.9,178.1L494.9,178.2L495.0,177.9L495.1,178.3L495.2,178.2L495.3,177.7L495.3,177.3L495.4,177.8L495.5,178.7L495.6,178.6L495.7,178.0L495.7,177.7L495.8,178.7L495.9,178.4L496.0,178.6L496.1,178.9L496.1,178.3L496.2,178.2L496.3,177.9L496.4,178.2L496.5,177.8L496.6,178.6L496.6,178.1L496.7,178.8L496.8,178.0L496.9,178.3L497.0,177.8L497.0,178.5L497.1,177.8L497.2,178.7L497.3,178.4L497.4,177.4L497.4,177.6L497.5,178.2L497.6,178.1L497.7,178.9L497.8,177.8L497.9,178.1L497.9,178.2L498.0,178.2L498.1,178.8L498.2,178.1L498.3,177.5L498.3,178.8L498.4,178.3L498.5,177.6L498.6,177.9L498.7,178.0L498.7,178.2L498.8,178.5L498.9,178.1L499.0,177.9L499.1,177.8L499.2,178.1L499.2,178.2L499.3,178.3L499.4,177.3L499.5,177.8L499.6,178.3L499.6,178.8L499.7,178.5L499.8,177.3L499.9,177.4L500.0,178.4L500.0,178.2L500.1,178.2L500.2,178.9L500.3,177.7L500.4,178.6L500.5,178.2L500.5,177.9L500.6,177.3L500.7,177.7L500.8,178.7L500.9,178.2L500.9,178.5L501.0,178.4L501.1,178.1L501.2,178.5L501.3,178.3L501.3,178.1L501.4,178.0L501.5,177.9L501.6,178.3L501.7,178.1L501.7,178.6L501.8,178.0L501.9,177.8L502.0,177.4L502.1,178.4L502.2,179.0L502.2,178.1L502.3,177.3L502.4,178.5L502.5,177.9L502.6,178.4L502.6,178.3L502.7,178.4L502.8,178.2L502.9,178.0L503.0,178.6L503.0,178.0L503.1,178.6L503.2,177.9L503.3,178.2L503.4,177.9L503.5,178.5L503.5,177.9L503.6,177.8L503.7,178.5L503.8,178.3L503.9,178.1L503.9,177.8L504.0,178.1L504.1,178.3L504.2,178.4L504.3,177.9L504.3,178.3L504.4,177.4L504.5,178.2L504.6,177.8L504.7,178.4L504.8,178.0L504.8,179.0L504.9,178.2L505.0,178.3L505.1,177.3L505.2,177.6L505.2,178.5L505.3,177.9L505.4,178.6L505.5,177.9L505.6,178.4L505.6,177.8L505.7,178.3L505.8,178.4L505.9,178.5L506.0,177.9L506.1,177.6L506.1,178.4L506.2,178.2L506.3,178.4L506.4,177.7L506.5,178.4L506.5,178.1L506.6,177.7L506.7,178.0L506.8,178.5L506.9,178.2L506.9,178.2L507.0,178.2L507.1,178.0L507.2,178.6L507.3,178.2L507.3,177.6L507.4,177.6L507.5,177.9L507.6,178.0L507.7,178.4L507.8,177.3L507.8,178.4L507.9,178.6L508.0,178.0L508.1,178.6L508.2,177.9L508.2,178.1L508.3,178.0L508.4,178.8L508.5,178.6L508.6,178.6L508.6,177.7L508.7,178.2L508.8,177.7L508.9,178.2L509.0,178.4L509.1,178.7L509.1,178.1L509.2,178.2L509.3,178.1L509.4,177.7L509.5,178.8L509.5,178.3L509.6,178.7L509.7,178.5L509.8,177.6L509.9,177.9L509.9,178.4L510.0,178.5L510.1,178.4L510.2,178.2L510.3,178.5L510.4,177.8L510.4,178.1L510.5,177.7L510.6,178.5L510.7,178.3L510.8,178.4L510.8,178.0L510.9,177.3L511.0,177.8L511.1,178.2L511.2,178.2L511.2,178.5L511.3,178.6L511.4,177.9L511.5,178.5L511.6,177.5L511.7,178.4L511.7,177.3L511.8,178.4L511.9,177.3L512.0,178.3L512.1,178.8L512.1,178.1L512.2,178.4L512.3,178.6L512.4,177.3L512.5,177.4L512.5,178.2L512.6,177.7L512.7,178.0L512.8,179.0L512.9,178.9L512.9,178.4L513.0,177.9L513.1,178.4L513.2,178.3L513.3,178.1L513.4,178.8L513.4,177.4L513.5,178.8L513.6,178.0L513.7,178.7L513.8,178.1L513.8,177.9L513.9,177.9L514.0,178.3L514.1,178.3L514.2,179.0L514.2,178.8L514.3,178.1L514.4,177.7L514.5,178.2L514.6,178.4L514.7,177.5L514.7,178.2L514.8,178.7L514.9,178.0L515.0,177.5L515.1,178.5L515.1,178.8L515.2,178.1L515.3,178.2L515.4,178.6L515.5,178.4L515.5,177.9L515.6,178.0L515.7,178.1L515.8,178.2L515.9,178.6L516.0,177.8L516.0,178.3L516.1,178.1L516.2,177.3L516.3,178.5L516.4,178.2L516.4,177.6L516.5,177.4L516.6,178.6L516.7,178.9L516.8,178.2L516.8,178.1L516.9,178.5L517.0,177.9L517.1,178.0L517.2,178.6L517.3,177.7L517.3,178.6L517.4,178.3L517.5,178.7L517.6,177.4L517.7,178.7L517.7,178.1L517.8,178.4L517.9,177.8L518.0,177.7L518.1,178.6L518.1,178.4L518.2,178.4L518.3,178.4L518.4,178.4L518.5,177.5L518.5,178.0L518.6,178.0L518.7,179.0L518.8,178.7L518.9,177.8L519.0,177.6L519.0,178.5L519.1,178.4L519.2,178.7L519.3,177.7L519.4,178.9L519.4,178.3L519.5,178.7L519.6,178.3L519.7,178.0L519.8,177.8L519.8,178.7L519.9,177.3L520.0,178.6L520.1,178.5L520.2,177.9L520.3,178.5L520.3,178.1L520.4,177.6L520.5,178.1L520.6,178.4L520.7,178.2L520.7,177.9L520.8,178.5L520.9,178.5L521.0,178.7L521.1,178.3L521.1,178.8L521.2,177.9L521.3,178.0L521.4,177.6L521.5,178.1L521.6,178.2L521.6,178.1L521.7,177.6L521.8,178.6L521.9,177.5L522.0,177.8L522.0,177.3L522.1,178.6L522.2,178.5L522.3,178.1L522.4,178.3L522.4,177.6L522.5,177.7L522.6,177.7L522.7,178.3L522.8,178.0L522.9,178.2L522.9,177.7L523.0,177.6L523.1,178.3L523.2,178.3L523.3,178.3L523.3,177.9L523.4,178.3L523.5,177.5L523.6,177.7L523.7,178.3L523.7,177.8L523.8,177.6L523.9,177.8L524.0,178.8L524.1,178.0L524.1,178.3" stroke="#000" stroke-width="1.3" fill="none" stroke-linejoin="round" />
<ellipse cx="540.45" cy="178.15" rx="1.30" ry="2.80" fill="none" stroke="#000" stroke-width="1.45"/>
<line x1="540.45" y1="175.91" x2="540.45" y2="180.39" stroke="#000" stroke-width="0.8" />
<line x1="536.05" y1="178.15" x2="544.85" y2="178.15" stroke="#000" stroke-width="1.8" />
<rect x="439.85" y="219.75" width="87.30" height="36.70" stroke="#222" stroke-width="1" fill="none" />
<rect x="529.65" y="219.75" width="22.20" height="36.70" stroke="#222" stroke-width="1" fill="none" />
<line x1="552.60" y1="219.75" x2="552.60" y2="256.45" stroke="#b4b4b4" stroke-width="0.9" />
<line x1="433.85" y1="255.50" x2="439.85" y2="255.50" stroke="#222" stroke-width="1" />
<text transform="translate(426.65,255.50) rotate(-90) scale(1,1.05)" font-size="9.0">0.0</text>
<line x1="433.85" y1="248.64" x2="439.85" y2="248.64" stroke="#222" stroke-width="1" />
<line x1="433.85" y1="241.78" x2="439.85" y2="241.78" stroke="#222" stroke-width="1" />
<line x1="433.85" y1="234.92" x2="439.85" y2="234.92" stroke="#222" stroke-width="1" />
<line x1="433.85" y1="228.06" x2="439.85" y2="228.06" stroke="#222" stroke-width="1" />
<text transform="translate(426.65,228.06) rotate(-90) scale(1,1.05)" font-size="9.0">0.8</text>
<line x1="433.85" y1="221.20" x2="439.85" y2="221.20" stroke="#222" stroke-width="1" />
<text transform="translate(402.45,239.70) rotate(-90) scale(1,1.05)" font-size="9.5">F<tspan font-size="6.5" dy="1.8">∞</tspan></text>
<line x1="483.65" y1="219.75" x2="483.65" y2="256.45" stroke="#111" stroke-width="0.85" stroke-dasharray="1,1.2"/>
<path d="M442.9,226.6L443.0,226.6L443.1,226.6L443.2,226.6L443.3,226.6L443.4,226.6L443.4,226.6L443.5,226.6L443.6,226.6L443.7,226.6L443.8,226.6L443.8,226.6L443.9,226.6L444.0,226.6L444.1,226.6L444.2,226.6L444.3,226.6L444.3,226.6L444.4,226.6L444.5,226.6L444.6,226.6L444.7,226.6L444.7,226.6L444.8,226.6L444.9,226.6L445.0,226.6L445.1,226.6L445.2,226.6L445.2,226.6L445.3,226.6L445.4,226.6L445.5,226.6L445.6,226.6L445.6,226.6L445.7,226.6L445.8,226.6L445.9,226.6L446.0,226.6L446.0,226.6L446.1,226.6L446.2,226.6L446.3,226.6L446.4,226.6L446.5,226.6L446.5,226.6L446.6,226.6L446.7,226.6L446.8,226.6L446.9,226.6L446.9,226.6L447.0,226.6L447.1,226.6L447.2,226.6L447.3,226.6L447.4,226.6L447.4,226.6L447.5,226.6L447.6,226.6L447.7,226.6L447.8,226.6L447.8,226.6L447.9,226.6L448.0,226.6L448.1,226.6L448.2,226.6L448.3,226.6L448.3,226.6L448.4,226.6L448.5,226.6L448.6,226.6L448.7,226.6L448.7,226.6L448.8,226.6L448.9,226.6L449.0,226.6L449.1,226.6L449.1,226.6L449.2,226.6L449.3,226.6L449.4,226.6L449.5,226.6L449.6,226.6L449.6,226.6L449.7,226.6L449.8,226.6L449.9,226.6L450.0,226.6L450.0,226.6L450.1,226.6L450.2,226.6L450.3,226.6L450.4,226.6L450.5,226.6L450.5,226.6L450.6,226.6L450.7,226.6L450.8,226.6L450.9,226.6L450.9,226.6L451.0,226.6L451.1,226.6L451.2,226.6L451.3,226.6L451.4,226.6L451.4,226.6L451.5,226.6L451.6,226.6L451.7,226.6L451.8,226.6L451.8,226.6L451.9,226.6L452.0,226.6L452.1,226.6L452.2,226.6L452.2,226.6L452.3,226.6L452.4,226.6L452.5,226.6L452.6,226.6L452.7,226.6L452.7,226.6L452.8,226.6L452.9,226.6L453.0,226.6L453.1,226.6L453.1,226.6L453.2,226.6L453.3,226.6L453.4,226.6L453.5,226.6L453.6,226.6L453.6,226.6L453.7,226.6L453.8,226.6L453.9,226.6L454.0,226.6L454.0,226.6L454.1,226.6L454.2,226.6L454.3,226.6L454.4,226.6L454.5,226.6L454.5,226.6L454.6,226.6L454.7,226.6L454.8,226.6L454.9,226.6L454.9,226.6L455.0,226.6L455.1,226.6L455.2,226.6L455.3,226.6L455.3,226.6L455.4,226.6L455.5,226.6L455.6,226.6L455.7,226.6L455.8,226.6L455.8,226.6L455.9,226.6L456.0,226.6L456.1,226.6L456.2,226.6L456.2,226.6L456.3,226.6L456.4,226.6L456.5,226.6L456.6,226.6L456.7,226.6L456.7,226.6L456.8,226.6L456.9,226.6L457.0,226.6L457.1,226.6L457.1,226.6L457.2,226.6L457.3,226.6L457.4,226.6L457.5,226.6L457.5,226.6L457.6,226.6L457.7,226.6L457.8,226.6L457.9,226.6L458.0,226.6L458.0,226.6L458.1,226.6L458.2,226.6L458.3,226.6L458.4,226.6L458.4,226.6L458.5,226.6L458.6,226.6L458.7,226.6L458.8,226.6L458.9,226.6L458.9,226.6L459.0,226.6L459.1,226.6L459.2,226.6L459.3,226.6L459.3,226.6L459.4,226.6L459.5,226.6L459.6,226.6L459.7,226.6L459.8,226.6L459.8,226.6L459.9,226.6L460.0,226.6L460.1,226.6L460.2,226.6L460.2,226.6L460.3,226.6L460.4,226.6L460.5,226.6L460.6,226.6L460.6,226.6L460.7,226.6L460.8,226.6L460.9,226.6L461.0,226.6L461.1,226.6L461.1,226.6L461.2,226.6L461.3,226.6L461.4,226.6L461.5,226.6L461.5,226.6L461.6,226.6L461.7,226.6L461.8,226.6L461.9,226.6L462.0,226.6L462.0,226.6L462.1,226.6L462.2,226.6L462.3,226.6L462.4,226.6L462.4,226.6L462.5,226.6L462.6,226.6L462.7,226.6L462.8,226.6L462.9,226.6L462.9,226.6L463.0,226.6L463.1,226.6L463.2,226.6L463.3,226.6L463.3,226.6L463.4,226.6L463.5,226.6L463.6,226.6L463.7,226.6L463.7,226.6L463.8,226.6L463.9,226.6L464.0,226.6L464.1,226.6L464.2,226.6L464.2,226.6L464.3,226.6L464.4,226.6L464.5,226.6L464.6,226.6L464.6,226.6L464.7,226.6L464.8,226.6L464.9,226.6L465.0,226.6L465.1,226.6L465.1,226.6L465.2,226.6L465.3,226.6L465.4,226.6L465.5,226.6L465.5,226.6L465.6,226.6L465.7,226.6L465.8,226.6L465.9,226.6L466.0,226.6L466.0,226.6L466.1,226.6L466.2,226.6L466.3,226.6L466.4,226.6L466.4,226.6L466.5,226.6L466.6,226.6L466.7,226.6L466.8,226.6L466.8,226.6L466.9,226.6L467.0,226.6L467.1,226.6L467.2,226.6L467.3,226.6L467.3,226.6L467.4,226.6L467.5,226.6L467.6,226.6L467.7,226.6L467.7,226.6L467.8,226.6L467.9,226.6L468.0,226.6L468.1,226.6L468.2,226.6L468.2,226.6L468.3,226.6L468.4,226.6L468.5,226.6L468.6,226.6L468.6,226.6L468.7,226.6L468.8,226.6L468.9,226.6L469.0,226.6L469.1,226.6L469.1,226.6L469.2,226.6L469.3,226.6L469.4,226.6L469.5,226.6L469.5,226.6L469.6,226.6L469.7,226.6L469.8,226.6L469.9,226.6L469.9,226.6L470.0,226.6L470.1,226.6L470.2,226.6L470.3,226.6L470.4,226.6L470.4,226.6L470.5,226.6L470.6,226.6L470.7,226.6L470.8,226.6L470.8,226.6L470.9,226.6L471.0,226.6L471.1,226.6L471.2,226.6L471.3,226.6L471.3,226.6L471.4,226.6L471.5,226.6L471.6,226.6L471.7,226.6L471.7,226.6L471.8,226.6L471.9,226.6L472.0,226.6L472.1,226.6L472.1,226.6L472.2,226.6L472.3,226.6L472.4,226.6L472.5,226.6L472.6,226.6L472.6,226.6L472.7,226.6L472.8,226.6L472.9,226.6L473.0,226.6L473.0,226.6L473.1,226.6L473.2,226.6L473.3,226.6L473.4,226.6L473.5,226.6L473.5,226.6L473.6,226.6L473.7,226.6L473.8,226.6L473.9,226.6L473.9,226.6L474.0,226.6L474.1,226.6L474.2,226.6L474.3,226.6L474.4,226.6L474.4,226.6L474.5,226.6L474.6,226.6L474.7,226.6L474.8,226.6L474.8,226.6L474.9,226.6L475.0,226.6L475.1,226.6L475.2,226.6L475.2,226.6L475.3,226.6L475.4,226.6L475.5,226.6L475.6,226.6L475.7,226.6L475.7,226.6L475.8,226.6L475.9,226.6L476.0,226.6L476.1,226.6L476.1,226.6L476.2,226.6L476.3,226.6L476.4,226.6L476.5,226.6L476.6,226.6L476.6,226.6L476.7,226.6L476.8,226.6L476.9,226.6L477.0,226.6L477.0,226.6L477.1,226.6L477.2,226.6L477.3,226.6L477.4,226.6L477.5,226.6L477.5,226.6L477.6,226.6L477.7,226.6L477.8,226.6L477.9,226.6L477.9,226.6L478.0,226.6L478.1,226.6L478.2,226.6L478.3,226.6L478.3,226.6L478.4,226.6L478.5,226.6L478.6,226.6L478.7,226.6L478.8,226.6L478.8,226.6L478.9,226.6L479.0,226.6L479.1,226.6L479.2,226.6L479.2,226.6L479.3,226.6L479.4,226.6L479.5,226.6L479.6,226.6L479.7,226.6L479.7,226.6L479.8,226.6L479.9,226.6L480.0,226.6L480.1,226.6L480.1,226.6L480.2,226.6L480.3,226.6L480.4,226.6L480.5,226.6L480.6,226.6L480.6,226.6L480.7,226.6L480.8,226.6L480.9,226.6L481.0,226.6L481.0,226.6L481.1,226.6L481.2,226.6L481.3,226.6L481.4,226.6L481.4,226.6L481.5,226.6L481.6,226.6L481.7,226.6L481.8,226.6L481.9,226.6L481.9,226.6L482.0,226.6L482.1,226.6L482.2,226.6L482.3,226.6L482.3,226.6L482.4,226.6L482.5,226.6L482.6,226.6L482.7,226.6L482.8,226.6L482.8,226.6L482.9,226.6L483.0,226.6L483.1,226.6L483.2,226.6L483.2,226.6L483.3,226.6L483.4,226.6L483.5,226.6L483.6,226.6L483.6,226.6" stroke="#b8b8b8" stroke-width="0.7" fill="none" stroke-linejoin="round" />
<path d="M483.6,226.6L483.7,226.6L483.8,226.6L483.9,226.6L484.0,226.6L484.1,226.6L484.1,226.6L484.2,226.6L484.3,226.6L484.4,226.6L484.5,226.6L484.5,226.6L484.6,226.6L484.7,226.6L484.8,226.6L484.9,226.6L484.9,226.6L485.0,226.6L485.1,226.6L485.2,226.6L485.3,226.6L485.4,226.6L485.4,226.6L485.5,226.6L485.6,226.6L485.7,226.6L485.8,226.6L485.8,226.6L485.9,226.6L486.0,226.6L486.1,226.6L486.2,226.6L486.2,226.6L486.3,226.6L486.4,226.6L486.5,226.6L486.6,226.6L486.7,226.6L486.7,226.6L486.8,226.6L486.9,226.6L487.0,226.6L487.1,226.6L487.1,226.6L487.2,226.6L487.3,226.6L487.4,226.6L487.5,226.6L487.5,226.6L487.6,226.6L487.7,226.6L487.8,226.6L487.9,226.6L488.0,226.6L488.0,226.6L488.1,226.6L488.2,226.6L488.3,226.6L488.4,226.6L488.4,226.6L488.5,226.6L488.6,226.6L488.7,226.6L488.8,226.6L488.8,226.6L488.9,226.6L489.0,226.6L489.1,226.6L489.2,226.6L489.3,226.6L489.3,226.6L489.4,226.6L489.5,226.6L489.6,226.6L489.7,226.6L489.7,226.6L489.8,226.6L489.9,226.6L490.0,226.6L490.1,226.6L490.1,226.6L490.2,226.6L490.3,226.6L490.4,226.6L490.5,226.6L490.5,226.6L490.6,226.6L490.7,226.6L490.8,226.6L490.9,226.6L491.0,226.6L491.0,226.6L491.1,226.6L491.2,226.6L491.3,226.6L491.4,226.6L491.4,226.6L491.5,226.6L491.6,226.6L491.7,226.6L491.8,226.6L491.8,226.6L491.9,226.6L492.0,226.6L492.1,226.6L492.2,226.6L492.3,226.6L492.3,226.6L492.4,226.6L492.5,226.6L492.6,226.6L492.7,226.6L492.7,226.6L492.8,226.6L492.9,226.6L493.0,226.6L493.1,226.6L493.1,226.6L493.2,226.6L493.3,226.6L493.4,226.6L493.5,226.6L493.6,226.6L493.6,226.6L493.7,226.6L493.8,226.6L493.9,226.6L494.0,226.6L494.0,226.6L494.1,226.6L494.2,226.6L494.3,226.6L494.4,226.6L494.4,226.6L494.5,226.6L494.6,226.6L494.7,226.6L494.8,226.6L494.9,226.6L494.9,226.6L495.0,226.6L495.1,226.6L495.2,226.6L495.3,226.6L495.3,226.6L495.4,226.6L495.5,226.6L495.6,226.6L495.7,226.6L495.7,226.6L495.8,226.6L495.9,226.6L496.0,226.6L496.1,226.6L496.1,226.6L496.2,226.6L496.3,226.6L496.4,226.6L496.5,226.6L496.6,226.6L496.6,226.6L496.7,226.6L496.8,226.6L496.9,226.6L497.0,226.6L497.0,226.6L497.1,226.6L497.2,226.6L497.3,226.6L497.4,226.6L497.4,226.6L497.5,226.6L497.6,226.6L497.7,226.6L497.8,226.6L497.9,226.6L497.9,226.6L498.0,226.6L498.1,226.6L498.2,226.6L498.3,226.6L498.3,226.6L498.4,226.6L498.5,226.6L498.6,226.6L498.7,226.6L498.7,226.6L498.8,226.6L498.9,226.6L499.0,226.6L499.1,226.6L499.2,226.6L499.2,226.6L499.3,226.6L499.4,226.6L499.5,226.6L499.6,226.6L499.6,226.6L499.7,226.6L499.8,226.6L499.9,226.6L500.0,226.6L500.0,226.6L500.1,226.6L500.2,226.6L500.3,226.6L500.4,226.6L500.5,226.6L500.5,226.6L500.6,226.6L500.7,226.6L500.8,226.6L500.9,226.6L500.9,226.6L501.0,226.6L501.1,226.6L501.2,226.6L501.3,226.6L501.3,226.6L501.4,226.6L501.5,226.6L501.6,226.6L501.7,226.6L501.7,226.6L501.8,226.6L501.9,226.6L502.0,226.6L502.1,226.6L502.2,226.6L502.2,226.6L502.3,226.6L502.4,226.6L502.5,226.6L502.6,226.6L502.6,226.6L502.7,226.6L502.8,226.6L502.9,226.6L503.0,226.6L503.0,226.6L503.1,226.6L503.2,226.6L503.3,226.6L503.4,226.6L503.5,226.6L503.5,226.6L503.6,226.6L503.7,226.6L503.8,226.6L503.9,226.6L503.9,226.6L504.0,226.6L504.1,226.6L504.2,226.6L504.3,226.6L504.3,226.6L504.4,226.6L504.5,226.6L504.6,226.6L504.7,226.6L504.8,226.6L504.8,226.6L504.9,226.6L505.0,226.6L505.1,226.6L505.2,226.6L505.2,226.6L505.3,226.6L505.4,226.6L505.5,226.6L505.6,226.6L505.6,226.6L505.7,226.6L505.8,226.6L505.9,226.6L506.0,226.6L506.1,226.6L506.1,226.6L506.2,226.6L506.3,226.6L506.4,226.6L506.5,226.6L506.5,226.6L506.6,226.6L506.7,226.6L506.8,226.6L506.9,226.6L506.9,226.6L507.0,226.6L507.1,226.6L507.2,226.6L507.3,226.6L507.3,226.6L507.4,226.6L507.5,226.6L507.6,226.6L507.7,226.6L507.8,226.6L507.8,226.6L507.9,226.6L508.0,226.6L508.1,226.6L508.2,226.6L508.2,226.6L508.3,226.6L508.4,226.6L508.5,226.6L508.6,226.6L508.6,226.6L508.7,226.6L508.8,226.6L508.9,226.6L509.0,226.6L509.1,226.6L509.1,226.6L509.2,226.6L509.3,226.6L509.4,226.6L509.5,226.6L509.5,226.6L509.6,226.6L509.7,226.6L509.8,226.6L509.9,226.6L509.9,226.6L510.0,226.6L510.1,226.6L510.2,226.6L510.3,226.6L510.4,226.6L510.4,226.6L510.5,226.6L510.6,226.6L510.7,226.6L510.8,226.6L510.8,226.6L510.9,226.6L511.0,226.6L511.1,226.6L511.2,226.6L511.2,226.6L511.3,226.6L511.4,226.6L511.5,226.6L511.6,226.6L511.7,226.6L511.7,226.6L511.8,226.6L511.9,226.6L512.0,226.6L512.1,226.6L512.1,226.6L512.2,226.6L512.3,226.6L512.4,226.6L512.5,226.6L512.5,226.6L512.6,226.6L512.7,226.6L512.8,226.6L512.9,226.6L512.9,226.6L513.0,226.6L513.1,226.6L513.2,226.6L513.3,226.6L513.4,226.6L513.4,226.6L513.5,226.6L513.6,226.6L513.7,226.6L513.8,226.6L513.8,226.6L513.9,226.6L514.0,226.6L514.1,226.6L514.2,226.6L514.2,226.6L514.3,226.6L514.4,226.6L514.5,226.6L514.6,226.6L514.7,226.6L514.7,226.6L514.8,226.6L514.9,226.6L515.0,226.6L515.1,226.6L515.1,226.6L515.2,226.6L515.3,226.6L515.4,226.6L515.5,226.6L515.5,226.6L515.6,226.6L515.7,226.6L515.8,226.6L515.9,226.6L516.0,226.6L516.0,226.6L516.1,226.6L516.2,226.6L516.3,226.6L516.4,226.6L516.4,226.6L516.5,226.6L516.6,226.6L516.7,226.6L516.8,226.6L516.8,226.6L516.9,226.6L517.0,226.6L517.1,226.6L517.2,226.6L517.3,226.6L517.3,226.6L517.4,226.6L517.5,226.6L517.6,226.6L517.7,226.6L517.7,226.6L517.8,226.6L517.9,226.6L518.0,226.6L518.1,226.6L518.1,226.6L518.2,226.6L518.3,226.6L518.4,226.6L518.5,226.6L518.5,226.6L518.6,226.6L518.7,226.6L518.8,226.6L518.9,226.6L519.0,226.6L519.0,226.6L519.1,226.6L519.2,226.6L519.3,226.6L519.4,226.6L519.4,226.6L519.5,226.6L519.6,226.6L519.7,226.6L519.8,226.6L519.8,226.6L519.9,226.6L520.0,226.6L520.1,226.6L520.2,226.6L520.3,226.6L520.3,226.6L520.4,226.6L520.5,226.6L520.6,226.6L520.7,226.6L520.7,226.6L520.8,226.6L520.9,226.6L521.0,226.6L521.1,226.6L521.1,226.6L521.2,226.6L521.3,226.6L521.4,226.6L521.5,226.6L521.6,226.6L521.6,226.6L521.7,226.6L521.8,226.6L521.9,226.6L522.0,226.6L522.0,226.6L522.1,226.6L522.2,226.6L522.3,226.6L522.4,226.6L522.4,226.6L522.5,226.6L522.6,226.6L522.7,226.6L522.8,226.6L522.9,226.6L522.9,226.6L523.0,226.6L523.1,226.6L523.2,226.6L523.3,226.6L523.3,226.6L523.4,226.6L523.5,226.6L523.6,226.6L523.7,226.6L523.7,226.6L523.8,226.6L523.9,226.6L524.0,226.6L524.1,226.6L524.1,226.6" stroke="#444" stroke-width="0.9" fill="none" stroke-linejoin="round" />
<ellipse cx="540.45" cy="226.60" rx="1.00" ry="1.20" fill="none" stroke="#000" stroke-width="1.45"/>
<line x1="540.45" y1="225.64" x2="540.45" y2="227.56" stroke="#000" stroke-width="0.8" />
<line x1="536.05" y1="226.60" x2="544.85" y2="226.60" stroke="#000" stroke-width="1.8" />
<rect x="439.85" y="280.85" width="87.30" height="36.70" stroke="#222" stroke-width="1" fill="none" />
<rect x="529.65" y="280.85" width="22.20" height="36.70" stroke="#222" stroke-width="1" fill="none" />
<line x1="552.60" y1="280.85" x2="552.60" y2="317.55" stroke="#b4b4b4" stroke-width="0.9" />
<line x1="433.85" y1="316.60" x2="439.85" y2="316.60" stroke="#222" stroke-width="1" />
<text transform="translate(426.65,316.60) rotate(-90) scale(1,1.05)" font-size="9.0">0.0</text>
<line x1="433.85" y1="309.74" x2="439.85" y2="309.74" stroke="#222" stroke-width="1" />
<line x1="433.85" y1="302.88" x2="439.85" y2="302.88" stroke="#222" stroke-width="1" />
<line x1="433.85" y1="296.02" x2="439.85" y2="296.02" stroke="#222" stroke-width="1" />
<line x1="433.85" y1="289.16" x2="439.85" y2="289.16" stroke="#222" stroke-width="1" />
<text transform="translate(426.65,289.16) rotate(-90) scale(1,1.05)" font-size="9.0">0.8</text>
<line x1="433.85" y1="282.30" x2="439.85" y2="282.30" stroke="#222" stroke-width="1" />
<text transform="translate(402.45,300.80) rotate(-90) scale(1,1.05)" font-size="9.5">F<tspan font-size="6.5" dy="1.8">−</tspan></text>
<line x1="483.65" y1="280.85" x2="483.65" y2="317.55" stroke="#111" stroke-width="0.85" stroke-dasharray="1,1.2"/>
<line x1="442.75" y1="317.55" x2="442.75" y2="323.55" stroke="#222" stroke-width="1" />
<line x1="458.97" y1="317.55" x2="458.97" y2="323.55" stroke="#222" stroke-width="1" />
<line x1="475.19" y1="317.55" x2="475.19" y2="323.55" stroke="#222" stroke-width="1" />
<line x1="491.41" y1="317.55" x2="491.41" y2="323.55" stroke="#222" stroke-width="1" />
<line x1="507.63" y1="317.55" x2="507.63" y2="323.55" stroke="#222" stroke-width="1" />
<line x1="523.85" y1="317.55" x2="523.85" y2="323.55" stroke="#222" stroke-width="1" />
<text transform="translate(442.75,337.60) scale(1,1.09)" font-size="9.0">0e+00</text>
<text transform="translate(491.41,337.60) scale(1,1.09)" font-size="9.0">6e+04</text>
<text transform="translate(483.55,359.60) scale(1,1.09)" font-size="9.0">Sample Index</text>
<path d="M442.9,286.7L443.0,286.7L443.1,286.7L443.2,286.7L443.3,286.7L443.4,286.7L443.4,286.7L443.5,286.7L443.6,286.7L443.7,286.7L443.8,286.7L443.8,286.7L443.9,286.7L444.0,286.7L444.1,286.7L444.2,286.7L444.3,286.7L444.3,286.7L444.4,286.7L444.5,286.7L444.6,286.7L444.7,286.7L444.7,286.7L444.8,286.7L444.9,286.7L445.0,286.7L445.1,286.7L445.2,286.7L445.2,286.7L445.3,286.7L445.4,286.7L445.5,286.7L445.6,286.7L445.6,286.7L445.7,286.7L445.8,286.7L445.9,286.7L446.0,286.7L446.0,286.7L446.1,286.7L446.2,286.7L446.3,286.7L446.4,286.7L446.5,286.7L446.5,286.7L446.6,286.7L446.7,286.7L446.8,286.7L446.9,286.7L446.9,286.7L447.0,286.7L447.1,286.7L447.2,286.7L447.3,286.7L447.4,286.7L447.4,286.7L447.5,286.7L447.6,286.7L447.7,286.7L447.8,286.7L447.8,286.7L447.9,286.7L448.0,286.7L448.1,286.7L448.2,286.7L448.3,286.7L448.3,286.7L448.4,286.7L448.5,286.7L448.6,286.7L448.7,286.7L448.7,286.7L448.8,286.7L448.9,286.7L449.0,286.7L449.1,286.7L449.1,286.7L449.2,286.7L449.3,286.7L449.4,286.7L449.5,286.7L449.6,286.7L449.6,286.7L449.7,286.7L449.8,286.7L449.9,286.7L450.0,286.7L450.0,286.7L450.1,286.7L450.2,286.7L450.3,286.7L450.4,286.7L450.5,286.7L450.5,286.7L450.6,286.7L450.7,286.7L450.8,286.7L450.9,286.7L450.9,286.7L451.0,286.7L451.1,286.7L451.2,286.7L451.3,286.7L451.4,286.7L451.4,286.7L451.5,286.7L451.6,286.7L451.7,286.7L451.8,286.7L451.8,286.7L451.9,286.7L452.0,286.7L452.1,286.7L452.2,286.7L452.2,286.7L452.3,286.7L452.4,286.7L452.5,286.7L452.6,286.7L452.7,286.7L452.7,286.7L452.8,286.7L452.9,286.7L453.0,286.7L453.1,286.7L453.1,286.7L453.2,286.7L453.3,286.7L453.4,286.7L453.5,286.7L453.6,286.7L453.6,286.7L453.7,286.7L453.8,286.7L453.9,286.7L454.0,286.7L454.0,286.7L454.1,286.7L454.2,286.7L454.3,286.7L454.4,286.7L454.5,286.7L454.5,286.7L454.6,286.7L454.7,286.7L454.8,286.7L454.9,286.7L454.9,286.7L455.0,286.7L455.1,286.7L455.2,286.7L455.3,286.7L455.3,286.7L455.4,286.7L455.5,286.7L455.6,286.7L455.7,286.7L455.8,286.7L455.8,286.7L455.9,286.7L456.0,286.7L456.1,286.7L456.2,286.7L456.2,286.7L456.3,286.7L456.4,286.7L456.5,286.7L456.6,286.7L456.7,286.7L456.7,286.7L456.8,286.7L456.9,286.7L457.0,286.7L457.1,286.7L457.1,286.7L457.2,286.7L457.3,286.7L457.4,286.7L457.5,286.7L457.5,286.7L457.6,286.7L457.7,286.7L457.8,286.7L457.9,286.7L458.0,286.7L458.0,286.7L458.1,286.7L458.2,286.7L458.3,286.7L458.4,286.7L458.4,286.7L458.5,286.7L458.6,286.7L458.7,286.7L458.8,286.7L458.9,286.7L458.9,286.7L459.0,286.7L459.1,286.7L459.2,286.7L459.3,286.7L459.3,286.7L459.4,286.7L459.5,286.7L459.6,286.7L459.7,286.7L459.8,286.7L459.8,286.7L459.9,286.7L460.0,286.7L460.1,286.7L460.2,286.7L460.2,286.7L460.3,286.7L460.4,286.7L460.5,286.7L460.6,286.7L460.6,286.7L460.7,286.7L460.8,286.7L460.9,286.7L461.0,286.7L461.1,286.7L461.1,286.7L461.2,286.7L461.3,286.7L461.4,286.7L461.5,286.7L461.5,286.7L461.6,286.7L461.7,286.7L461.8,286.7L461.9,286.7L462.0,286.7L462.0,286.7L462.1,286.7L462.2,286.7L462.3,286.7L462.4,286.7L462.4,286.7L462.5,286.7L462.6,286.7L462.7,286.7L462.8,286.7L462.9,286.7L462.9,286.7L463.0,286.7L463.1,286.7L463.2,286.7L463.3,286.7L463.3,286.7L463.4,286.7L463.5,286.7L463.6,286.7L463.7,286.7L463.7,286.7L463.8,286.7L463.9,286.7L464.0,286.7L464.1,286.7L464.2,286.7L464.2,286.7L464.3,286.7L464.4,286.7L464.5,286.7L464.6,286.7L464.6,286.7L464.7,286.7L464.8,286.7L464.9,286.7L465.0,286.7L465.1,286.7L465.1,286.7L465.2,286.7L465.3,286.7L465.4,286.7L465.5,286.7L465.5,286.7L465.6,286.7L465.7,286.7L465.8,286.7L465.9,286.7L466.0,286.7L466.0,286.7L466.1,286.7L466.2,286.7L466.3,286.7L466.4,286.7L466.4,286.7L466.5,286.7L466.6,286.7L466.7,286.7L466.8,286.7L466.8,286.7L466.9,286.7L467.0,286.7L467.1,286.7L467.2,286.7L467.3,286.7L467.3,286.7L467.4,286.7L467.5,286.7L467.6,286.7L467.7,286.7L467.7,286.7L467.8,286.7L467.9,286.7L468.0,286.7L468.1,286.7L468.2,286.7L468.2,286.7L468.3,286.7L468.4,286.7L468.5,286.7L468.6,286.7L468.6,286.7L468.7,286.7L468.8,286.7L468.9,286.7L469.0,286.7L469.1,286.7L469.1,286.7L469.2,286.7L469.3,286.7L469.4,286.7L469.5,286.7L469.5,286.7L469.6,286.7L469.7,286.7L469.8,286.7L469.9,286.7L469.9,286.7L470.0,286.7L470.1,286.7L470.2,286.7L470.3,286.7L470.4,286.7L470.4,286.7L470.5,286.7L470.6,286.7L470.7,286.7L470.8,286.7L470.8,286.7L470.9,286.7L471.0,286.7L471.1,286.7L471.2,286.7L471.3,286.7L471.3,286.7L471.4,286.7L471.5,286.7L471.6,286.7L471.7,286.7L471.7,286.7L471.8,286.7L471.9,286.7L472.0,286.7L472.1,286.7L472.1,286.7L472.2,286.7L472.3,286.7L472.4,286.7L472.5,286.7L472.6,286.7L472.6,286.7L472.7,286.7L472.8,286.7L472.9,286.7L473.0,286.7L473.0,286.7L473.1,286.7L473.2,286.7L473.3,286.7L473.4,286.7L473.5,286.7L473.5,286.7L473.6,286.7L473.7,286.7L473.8,286.7L473.9,286.7L473.9,286.7L474.0,286.7L474.1,286.7L474.2,286.7L474.3,286.7L474.4,286.7L474.4,286.7L474.5,286.7L474.6,286.7L474.7,286.7L474.8,286.7L474.8,286.7L474.9,286.7L475.0,286.7L475.1,286.7L475.2,286.7L475.2,286.7L475.3,286.7L475.4,286.7L475.5,286.7L475.6,286.7L475.7,286.7L475.7,286.7L475.8,286.7L475.9,286.7L476.0,286.7L476.1,286.7L476.1,286.7L476.2,286.7L476.3,286.7L476.4,286.7L476.5,286.7L476.6,286.7L476.6,286.7L476.7,286.7L476.8,286.7L476.9,286.7L477.0,286.7L477.0,286.7L477.1,286.7L477.2,286.7L477.3,286.7L477.4,286.7L477.5,286.7L477.5,286.7L477.6,286.7L477.7,286.7L477.8,286.7L477.9,286.7L477.9,286.7L478.0,286.7L478.1,286.7L478.2,286.7L478.3,286.7L478.3,286.7L478.4,286.7L478.5,286.7L478.6,286.7L478.7,286.7L478.8,286.7L478.8,286.7L478.9,286.7L479.0,286.7L479.1,286.7L479.2,286.7L479.2,286.7L479.3,286.7L479.4,286.7L479.5,286.7L479.6,286.7L479.7,286.7L479.7,286.7L479.8,286.7L479.9,286.7L480.0,286.7L480.1,286.7L480.1,286.7L480.2,286.7L480.3,286.7L480.4,286.7L480.5,286.7L480.6,286.7L480.6,286.7L480.7,286.7L480.8,286.7L480.9,286.7L481.0,286.7L481.0,286.7L481.1,286.7L481.2,286.7L481.3,286.7L481.4,286.7L481.4,286.7L481.5,286.7L481.6,286.7L481.7,286.7L481.8,286.7L481.9,286.7L481.9,286.7L482.0,286.7L482.1,286.7L482.2,286.7L482.3,286.7L482.3,286.7L482.4,286.7L482.5,286.7L482.6,286.7L482.7,286.7L482.8,286.7L482.8,286.7L482.9,286.7L483.0,286.7L483.1,286.7L483.2,286.7L483.2,286.7L483.3,286.7L483.4,286.7L483.5,286.7L483.6,286.7L483.6,286.7" stroke="#c4c4c4" stroke-width="0.8" fill="none" stroke-linejoin="round" />
<path d="M483.6,286.7L483.7,286.7L483.8,286.7L483.9,286.7L484.0,286.7L484.1,286.7L484.1,286.7L484.2,286.7L484.3,286.7L484.4,286.7L484.5,286.7L484.5,286.7L484.6,286.7L484.7,286.7L484.8,286.7L484.9,286.7L484.9,286.7L485.0,286.7L485.1,286.7L485.2,286.7L485.3,286.7L485.4,286.7L485.4,286.7L485.5,286.7L485.6,286.7L485.7,286.7L485.8,286.7L485.8,286.7L485.9,286.7L486.0,286.7L486.1,286.7L486.2,286.7L486.2,286.7L486.3,286.7L486.4,286.7L486.5,286.7L486.6,286.7L486.7,286.7L486.7,286.7L486.8,286.7L486.9,286.7L487.0,286.7L487.1,286.7L487.1,286.7L487.2,286.7L487.3,286.7L487.4,286.7L487.5,286.7L487.5,286.7L487.6,286.7L487.7,286.7L487.8,286.7L487.9,286.7L488.0,286.7L488.0,286.7L488.1,286.7L488.2,286.7L488.3,286.7L488.4,286.7L488.4,286.7L488.5,286.7L488.6,286.7L488.7,286.7L488.8,286.7L488.8,286.7L488.9,286.7L489.0,286.7L489.1,286.7L489.2,286.7L489.3,286.7L489.3,286.7L489.4,286.7L489.5,286.7L489.6,286.7L489.7,286.7L489.7,286.7L489.8,286.7L489.9,286.7L490.0,286.7L490.1,286.7L490.1,286.7L490.2,286.7L490.3,286.7L490.4,286.7L490.5,286.7L490.5,286.7L490.6,286.7L490.7,286.7L490.8,286.7L490.9,286.7L491.0,286.7L491.0,286.7L491.1,286.7L491.2,286.7L491.3,286.7L491.4,286.7L491.4,286.7L491.5,286.7L491.6,286.7L491.7,286.7L491.8,286.7L491.8,286.7L491.9,286.7L492.0,286.7L492.1,286.7L492.2,286.7L492.3,286.7L492.3,286.7L492.4,286.7L492.5,286.7L492.6,286.7L492.7,286.7L492.7,286.7L492.8,286.7L492.9,286.7L493.0,286.7L493.1,286.7L493.1,286.7L493.2,286.7L493.3,286.7L493.4,286.7L493.5,286.7L493.6,286.7L493.6,286.7L493.7,286.7L493.8,286.7L493.9,286.7L494.0,286.7L494.0,286.7L494.1,286.7L494.2,286.7L494.3,286.7L494.4,286.7L494.4,286.7L494.5,286.7L494.6,286.7L494.7,286.7L494.8,286.7L494.9,286.7L494.9,286.7L495.0,286.7L495.1,286.7L495.2,286.7L495.3,286.7L495.3,286.7L495.4,286.7L495.5,286.7L495.6,286.7L495.7,286.7L495.7,286.7L495.8,286.7L495.9,286.7L496.0,286.7L496.1,286.7L496.1,286.7L496.2,286.7L496.3,286.7L496.4,286.7L496.5,286.7L496.6,286.7L496.6,286.7L496.7,286.7L496.8,286.7L496.9,286.7L497.0,286.7L497.0,286.7L497.1,286.7L497.2,286.7L497.3,286.7L497.4,286.7L497.4,286.7L497.5,286.7L497.6,286.7L497.7,286.7L497.8,286.7L497.9,286.7L497.9,286.7L498.0,286.7L498.1,286.7L498.2,286.7L498.3,286.7L498.3,286.7L498.4,286.7L498.5,286.7L498.6,286.7L498.7,286.7L498.7,286.7L498.8,286.7L498.9,286.7L499.0,286.7L499.1,286.7L499.2,286.7L499.2,286.7L499.3,286.7L499.4,286.7L499.5,286.7L499.6,286.7L499.6,286.7L499.7,286.7L499.8,286.7L499.9,286.7L500.0,286.7L500.0,286.7L500.1,286.7L500.2,286.7L500.3,286.7L500.4,286.7L500.5,286.7L500.5,286.7L500.6,286.7L500.7,286.7L500.8,286.7L500.9,286.7L500.9,286.7L501.0,286.7L501.1,286.7L501.2,286.7L501.3,286.7L501.3,286.7L501.4,286.7L501.5,286.7L501.6,286.7L501.7,286.7L501.7,286.7L501.8,286.7L501.9,286.7L502.0,286.7L502.1,286.7L502.2,286.7L502.2,286.7L502.3,286.7L502.4,286.7L502.5,286.7L502.6,286.7L502.6,286.7L502.7,286.7L502.8,286.7L502.9,286.7L503.0,286.7L503.0,286.7L503.1,286.7L503.2,286.7L503.3,286.7L503.4,286.7L503.5,286.7L503.5,286.7L503.6,286.7L503.7,286.7L503.8,286.7L503.9,286.7L503.9,286.7L504.0,286.7L504.1,286.7L504.2,286.7L504.3,286.7L504.3,286.7L504.4,286.7L504.5,286.7L504.6,286.7L504.7,286.7L504.8,286.7L504.8,286.7L504.9,286.7L505.0,286.7L505.1,286.7L505.2,286.7L505.2,286.7L505.3,286.7L505.4,286.7L505.5,286.7L505.6,286.7L505.6,286.7L505.7,286.7L505.8,286.7L505.9,286.7L506.0,286.7L506.1,286.7L506.1,286.7L506.2,286.7L506.3,286.7L506.4,286.7L506.5,286.7L506.5,286.7L506.6,286.7L506.7,286.7L506.8,286.7L506.9,286.7L506.9,286.7L507.0,286.7L507.1,286.7L507.2,286.7L507.3,286.7L507.3,286.7L507.4,286.7L507.5,286.7L507.6,286.7L507.7,286.7L507.8,286.7L507.8,286.7L507.9,286.7L508.0,286.7L508.1,286.7L508.2,286.7L508.2,286.7L508.3,286.7L508.4,286.7L508.5,286.7L508.6,286.7L508.6,286.7L508.7,286.7L508.8,286.7L508.9,286.7L509.0,286.7L509.1,286.7L509.1,286.7L509.2,286.7L509.3,286.7L509.4,286.7L509.5,286.7L509.5,286.7L509.6,286.7L509.7,286.7L509.8,286.7L509.9,286.7L509.9,286.7L510.0,286.7L510.1,286.7L510.2,286.7L510.3,286.7L510.4,286.7L510.4,286.7L510.5,286.7L510.6,286.7L510.7,286.7L510.8,286.7L510.8,286.7L510.9,286.7L511.0,286.7L511.1,286.7L511.2,286.7L511.2,286.7L511.3,286.7L511.4,286.7L511.5,286.7L511.6,286.7L511.7,286.7L511.7,286.7L511.8,286.7L511.9,286.7L512.0,286.7L512.1,286.7L512.1,286.7L512.2,286.7L512.3,286.7L512.4,286.7L512.5,286.7L512.5,286.7L512.6,286.7L512.7,286.7L512.8,286.7L512.9,286.7L512.9,286.7L513.0,286.7L513.1,286.7L513.2,286.7L513.3,286.7L513.4,286.7L513.4,286.7L513.5,286.7L513.6,286.7L513.7,286.7L513.8,286.7L513.8,286.7L513.9,286.7L514.0,286.7L514.1,286.7L514.2,286.7L514.2,286.7L514.3,286.7L514.4,286.7L514.5,286.7L514.6,286.7L514.7,286.7L514.7,286.7L514.8,286.7L514.9,286.7L515.0,286.7L515.1,286.7L515.1,286.7L515.2,286.7L515.3,286.7L515.4,286.7L515.5,286.7L515.5,286.7L515.6,286.7L515.7,286.7L515.8,286.7L515.9,286.7L516.0,286.7L516.0,286.7L516.1,286.7L516.2,286.7L516.3,286.7L516.4,286.7L516.4,286.7L516.5,286.7L516.6,286.7L516.7,286.7L516.8,286.7L516.8,286.7L516.9,286.7L517.0,286.7L517.1,286.7L517.2,286.7L517.3,286.7L517.3,286.7L517.4,286.7L517.5,286.7L517.6,286.7L517.7,286.7L517.7,286.7L517.8,286.7L517.9,286.7L518.0,286.7L518.1,286.7L518.1,286.7L518.2,286.7L518.3,286.7L518.4,286.7L518.5,286.7L518.5,286.7L518.6,286.7L518.7,286.7L518.8,286.7L518.9,286.7L519.0,286.7L519.0,286.7L519.1,286.7L519.2,286.7L519.3,286.7L519.4,286.7L519.4,286.7L519.5,286.7L519.6,286.7L519.7,286.7L519.8,286.7L519.8,286.7L519.9,286.7L520.0,286.7L520.1,286.7L520.2,286.7L520.3,286.7L520.3,286.7L520.4,286.7L520.5,286.7L520.6,286.7L520.7,286.7L520.7,286.7L520.8,286.7L520.9,286.7L521.0,286.7L521.1,286.7L521.1,286.7L521.2,286.7L521.3,286.7L521.4,286.7L521.5,286.7L521.6,286.7L521.6,286.7L521.7,286.7L521.8,286.7L521.9,286.7L522.0,286.7L522.0,286.7L522.1,286.7L522.2,286.7L522.3,286.7L522.4,286.7L522.4,286.7L522.5,286.7L522.6,286.7L522.7,286.7L522.8,286.7L522.9,286.7L522.9,286.7L523.0,286.7L523.1,286.7L523.2,286.7L523.3,286.7L523.3,286.7L523.4,286.7L523.5,286.7L523.6,286.7L523.7,286.7L523.7,286.7L523.8,286.7L523.9,286.7L524.0,286.7L524.1,286.7L524.1,286.7" stroke="#777" stroke-width="0.9" fill="none" stroke-linejoin="round" />
<ellipse cx="540.45" cy="286.70" rx="1.00" ry="1.20" fill="none" stroke="#000" stroke-width="1.45"/>
<line x1="540.45" y1="285.74" x2="540.45" y2="287.66" stroke="#000" stroke-width="0.8" />
<line x1="536.05" y1="286.70" x2="544.85" y2="286.70" stroke="#000" stroke-width="1.8" />
<rect x="625.85" y="36.45" width="87.30" height="36.70" stroke="#222" stroke-width="1" fill="none" />
<rect x="715.65" y="36.45" width="22.20" height="36.70" stroke="#222" stroke-width="1" fill="none" />
<line x1="619.85" y1="37.65" x2="625.85" y2="37.65" stroke="#222" stroke-width="1" />
<text transform="translate(612.65,37.65) rotate(-90) scale(1,1.05)" font-size="9.0">0.010</text>
<line x1="619.85" y1="46.30" x2="625.85" y2="46.30" stroke="#222" stroke-width="1" />
<line x1="619.85" y1="54.95" x2="625.85" y2="54.95" stroke="#222" stroke-width="1" />
<line x1="619.85" y1="63.60" x2="625.85" y2="63.60" stroke="#222" stroke-width="1" />
<line x1="619.85" y1="72.25" x2="625.85" y2="72.25" stroke="#222" stroke-width="1" />
<text transform="translate(612.65,72.25) rotate(-90) scale(1,1.05)" font-size="9.0">-0.010</text>
<text transform="translate(588.45,56.40) rotate(-90) scale(1,1.05)" font-size="9.5">a<tspan font-size="6.5" dy="1.8">1</tspan></text>
<line x1="669.65" y1="36.45" x2="669.65" y2="73.15" stroke="#111" stroke-width="0.85" stroke-dasharray="1,1.2"/>
<path d="M629.0,54.6L629.0,54.6L629.1,54.6L629.2,54.6L629.3,54.6L629.4,54.6L629.4,54.6L629.5,54.6L629.6,54.6L629.7,54.6L629.8,54.6L629.8,54.6L629.9,54.6L630.0,54.6L630.1,54.6L630.2,54.6L630.3,54.6L630.3,54.6L630.4,54.6L630.5,54.6L630.6,54.6L630.7,54.6L630.7,54.6L630.8,54.6L630.9,54.6L631.0,54.6L631.1,54.6L631.2,54.6L631.2,54.6L631.3,54.6L631.4,54.6L631.5,54.6L631.6,54.6L631.6,54.6L631.7,54.6L631.8,54.6L631.9,54.6L632.0,54.6L632.0,54.6L632.1,54.6L632.2,54.6L632.3,54.6L632.4,54.6L632.5,54.6L632.5,54.6L632.6,54.6L632.7,54.6L632.8,54.6L632.9,54.6L632.9,54.6L633.0,54.6L633.1,54.6L633.2,54.6L633.3,54.6L633.4,54.6L633.4,54.6L633.5,54.6L633.6,54.6L633.7,54.6L633.8,54.6L633.8,54.6L633.9,54.6L634.0,54.6L634.1,54.6L634.2,54.6L634.3,54.6L634.3,54.6L634.4,54.6L634.5,54.6L634.6,54.6L634.7,54.6L634.7,54.6L634.8,54.6L634.9,54.6L635.0,54.6L635.1,54.6L635.1,54.6L635.2,54.6L635.3,54.6L635.4,54.6L635.5,54.6L635.6,54.6L635.6,54.6L635.7,54.6L635.8,54.6L635.9,54.6L636.0,54.6L636.0,54.6L636.1,54.6L636.2,54.6L636.3,54.6L636.4,54.6L636.5,54.6L636.5,54.6L636.6,54.6L636.7,54.6L636.8,54.6L636.9,54.6L636.9,54.6L637.0,54.6L637.1,54.6L637.2,54.6L637.3,54.6L637.4,54.6L637.4,54.6L637.5,54.6L637.6,54.6L637.7,54.6L637.8,54.6L637.8,54.6L637.9,54.6L638.0,54.6L638.1,54.6L638.2,54.6L638.2,54.6L638.3,54.6L638.4,54.6L638.5,54.6L638.6,54.6L638.7,54.6L638.7,54.6L638.8,54.6L638.9,54.6L639.0,54.6L639.1,54.6L639.1,54.6L639.2,54.6L639.3,54.6L639.4,54.6L639.5,54.6L639.6,54.6L639.6,54.6L639.7,54.6L639.8,54.6L639.9,54.6L640.0,54.6L640.0,54.6L640.1,54.6L640.2,54.6L640.3,54.6L640.4,54.6L640.5,54.6L640.5,54.6L640.6,54.6L640.7,54.6L640.8,54.6L640.9,54.6L640.9,54.6L641.0,54.6L641.1,54.6L641.2,54.6L641.3,54.6L641.3,54.6L641.4,54.6L641.5,54.6L641.6,54.6L641.7,54.6L641.8,54.6L641.8,54.6L641.9,54.6L642.0,54.6L642.1,54.6L642.2,54.6L642.2,54.6L642.3,54.6L642.4,54.6L642.5,54.6L642.6,54.6L642.7,54.6L642.7,54.6L642.8,54.6L642.9,54.6L643.0,54.6L643.1,54.6L643.1,54.6L643.2,54.6L643.3,54.6L643.4,54.6L643.5,54.6L643.5,54.6L643.6,54.6L643.7,54.6L643.8,54.6L643.9,54.6L644.0,54.6L644.0,54.6L644.1,54.6L644.2,54.6L644.3,54.6L644.4,54.6L644.4,54.6L644.5,54.6L644.6,54.6L644.7,54.6L644.8,54.6L644.9,54.6L644.9,54.6L645.0,54.6L645.1,54.6L645.2,54.6L645.3,54.6L645.3,54.6L645.4,54.6L645.5,54.6L645.6,54.6L645.7,54.6L645.8,54.6L645.8,54.6L645.9,54.6L646.0,54.6L646.1,54.6L646.2,54.6L646.2,54.6L646.3,54.6L646.4,54.6L646.5,54.6L646.6,54.6L646.6,54.6L646.7,54.6L646.8,54.6L646.9,54.6L647.0,54.6L647.1,54.6L647.1,54.6L647.2,54.6L647.3,54.6L647.4,54.6L647.5,54.6L647.5,54.6L647.6,54.6L647.7,54.6L647.8,54.6L647.9,54.6L648.0,54.6L648.0,54.6L648.1,54.6L648.2,54.6L648.3,54.6L648.4,54.6L648.4,54.6L648.5,54.6L648.6,54.6L648.7,54.6L648.8,54.6L648.9,54.6L648.9,54.6L649.0,54.6L649.1,54.6L649.2,54.6L649.3,54.6L649.3,54.6L649.4,54.6L649.5,54.6L649.6,54.6L649.7,54.6L649.7,54.6L649.8,54.6L649.9,54.6L650.0,54.6L650.1,54.6L650.2,54.6L650.2,54.6L650.3,54.6L650.4,54.6L650.5,54.6L650.6,54.6L650.6,54.6L650.7,54.6L650.8,54.6L650.9,54.6L651.0,54.6L651.1,54.6L651.1,54.6L651.2,54.6L651.3,54.6L651.4,54.6L651.5,54.6L651.5,54.6L651.6,54.6L651.7,54.6L651.8,54.6L651.9,54.6L652.0,54.6L652.0,54.6L652.1,54.6L652.2,54.6L652.3,54.6L652.4,54.6L652.4,54.6L652.5,54.6L652.6,54.6L652.7,54.6L652.8,54.6L652.8,54.6L652.9,54.6L653.0,54.6L653.1,54.6L653.2,54.6L653.3,54.6L653.3,54.6L653.4,54.6L653.5,54.6L653.6,54.6L653.7,54.6L653.7,54.6L653.8,54.6L653.9,54.6L654.0,54.6L654.1,54.6L654.2,54.6L654.2,54.6L654.3,54.6L654.4,54.6L654.5,54.6L654.6,54.6L654.6,54.6L654.7,54.6L654.8,54.6L654.9,54.6L655.0,54.6L655.1,54.6L655.1,54.6L655.2,54.6L655.3,54.6L655.4,54.6L655.5,54.6L655.5,54.6L655.6,54.6L655.7,54.6L655.8,54.6L655.9,54.6L655.9,54.6L656.0,54.6L656.1,54.6L656.2,54.6L656.3,54.6L656.4,54.6L656.4,54.6L656.5,54.6L656.6,54.6L656.7,54.6L656.8,54.6L656.8,54.6L656.9,54.6L657.0,54.6L657.1,54.6L657.2,54.6L657.3,54.6L657.3,54.6L657.4,54.6L657.5,54.6L657.6,54.6L657.7,54.6L657.7,54.6L657.8,54.6L657.9,54.6L658.0,54.6L658.1,54.6L658.1,54.6L658.2,54.6L658.3,54.6L658.4,54.6L658.5,54.6L658.6,54.6L658.6,54.6L658.7,54.6L658.8,54.6L658.9,54.6L659.0,54.6L659.0,54.6L659.1,54.6L659.2,54.6L659.3,54.6L659.4,54.6L659.5,54.6L659.5,54.6L659.6,54.6L659.7,54.6L659.8,54.6L659.9,54.6L659.9,54.6L660.0,54.6L660.1,54.6L660.2,54.6L660.3,54.6L660.4,54.6L660.4,54.6L660.5,54.6L660.6,54.6L660.7,54.6L660.8,54.6L660.8,54.6L660.9,54.6L661.0,54.6L661.1,54.6L661.2,54.6L661.2,54.6L661.3,54.6L661.4,54.6L661.5,54.6L661.6,54.6L661.7,54.6L661.7,54.6L661.8,54.6L661.9,54.6L662.0,54.6L662.1,54.6L662.1,54.6L662.2,54.6L662.3,54.6L662.4,54.6L662.5,54.6L662.6,54.6L662.6,54.6L662.7,54.6L662.8,54.6L662.9,54.6L663.0,54.6L663.0,54.6L663.1,54.6L663.2,54.6L663.3,54.6L663.4,54.6L663.5,54.6L663.5,54.6L663.6,54.6L663.7,54.6L663.8,54.6L663.9,54.6L663.9,54.6L664.0,54.6L664.1,54.6L664.2,54.6L664.3,54.6L664.3,54.6L664.4,54.6L664.5,54.6L664.6,54.6L664.7,54.6L664.8,54.6L664.8,54.6L664.9,54.6L665.0,54.6L665.1,54.6L665.2,54.6L665.2,54.6L665.3,54.6L665.4,54.6L665.5,54.6L665.6,54.6L665.7,54.6L665.7,54.6L665.8,54.6L665.9,54.6L666.0,54.6L666.1,54.6L666.1,54.6L666.2,54.6L666.3,54.6L666.4,54.6L666.5,54.6L666.6,54.6L666.6,54.6L666.7,54.6L666.8,54.6L666.9,54.6L667.0,54.6L667.0,54.6L667.1,54.6L667.2,54.6L667.3,54.6L667.4,54.6L667.4,54.6L667.5,54.6L667.6,54.6L667.7,54.6L667.8,54.6L667.9,54.6L667.9,54.6L668.0,54.6L668.1,54.6L668.2,54.6L668.3,54.6L668.3,54.6L668.4,54.6L668.5,54.6L668.6,54.6L668.7,54.6L668.8,54.6L668.8,54.6L668.9,54.6L669.0,54.6L669.1,54.6L669.2,54.6L669.2,54.6L669.3,54.6L669.4,54.6L669.5,54.6L669.6,54.6L669.6,54.6" stroke="#dcdcdc" stroke-width="1.0" fill="none" stroke-linejoin="round" />
<path d="M669.6,54.6L669.7,54.6L669.8,54.6L669.9,54.6L670.0,54.6L670.1,54.6L670.1,54.6L670.2,54.6L670.3,54.6L670.4,54.6L670.5,54.6L670.5,54.6L670.6,54.6L670.7,54.6L670.8,54.6L670.9,54.6L670.9,54.6L671.0,54.6L671.1,54.6L671.2,54.6L671.3,54.6L671.4,54.6L671.4,54.6L671.5,54.6L671.6,54.6L671.7,54.6L671.8,54.6L671.8,54.6L671.9,54.6L672.0,54.6L672.1,54.6L672.2,54.6L672.2,54.6L672.3,54.6L672.4,54.6L672.5,54.6L672.6,54.6L672.7,54.6L672.7,54.6L672.8,54.6L672.9,54.6L673.0,54.6L673.1,54.6L673.1,54.6L673.2,54.6L673.3,54.6L673.4,54.6L673.5,54.6L673.5,54.6L673.6,54.6L673.7,54.6L673.8,54.6L673.9,54.6L674.0,54.6L674.0,54.6L674.1,54.6L674.2,54.6L674.3,54.6L674.4,54.6L674.4,54.6L674.5,54.6L674.6,54.6L674.7,54.6L674.8,54.6L674.8,54.6L674.9,54.6L675.0,54.6L675.1,54.6L675.2,54.6L675.3,54.6L675.3,54.6L675.4,54.6L675.5,54.6L675.6,54.6L675.7,54.6L675.7,54.6L675.8,54.6L675.9,54.6L676.0,54.6L676.1,54.6L676.1,54.6L676.2,54.6L676.3,54.6L676.4,54.6L676.5,54.6L676.5,54.6L676.6,54.6L676.7,54.6L676.8,54.6L676.9,54.6L677.0,54.6L677.0,54.6L677.1,54.6L677.2,54.6L677.3,54.6L677.4,54.6L677.4,54.6L677.5,54.6L677.6,54.6L677.7,54.6L677.8,54.6L677.8,54.6L677.9,54.6L678.0,54.6L678.1,54.6L678.2,54.6L678.3,54.6L678.3,54.6L678.4,54.6L678.5,54.6L678.6,54.6L678.7,54.6L678.7,54.6L678.8,54.6L678.9,54.6L679.0,54.6L679.1,54.6L679.1,54.6L679.2,54.6L679.3,54.6L679.4,54.6L679.5,54.6L679.6,54.6L679.6,54.6L679.7,54.6L679.8,54.6L679.9,54.6L680.0,54.6L680.0,54.6L680.1,54.6L680.2,54.6L680.3,54.6L680.4,54.6L680.4,54.6L680.5,54.6L680.6,54.6L680.7,54.6L680.8,54.6L680.9,54.6L680.9,54.6L681.0,54.6L681.1,54.6L681.2,54.6L681.3,54.6L681.3,54.6L681.4,54.6L681.5,54.6L681.6,54.6L681.7,54.6L681.7,54.6L681.8,54.6L681.9,54.6L682.0,54.6L682.1,54.6L682.1,54.6L682.2,54.6L682.3,54.6L682.4,54.6L682.5,54.6L682.6,54.6L682.6,54.6L682.7,54.6L682.8,54.6L682.9,54.6L683.0,54.6L683.0,54.6L683.1,54.6L683.2,54.6L683.3,54.6L683.4,54.6L683.4,54.6L683.5,54.6L683.6,54.6L683.7,54.6L683.8,54.6L683.9,54.6L683.9,54.6L684.0,54.6L684.1,54.6L684.2,54.6L684.3,54.6L684.3,54.6L684.4,54.6L684.5,54.6L684.6,54.6L684.7,54.6L684.7,54.6L684.8,54.6L684.9,54.6L685.0,54.6L685.1,54.6L685.2,54.6L685.2,54.6L685.3,54.6L685.4,54.6L685.5,54.6L685.6,54.6L685.6,54.6L685.7,54.6L685.8,54.6L685.9,54.6L686.0,54.6L686.0,54.6L686.1,54.6L686.2,54.6L686.3,54.6L686.4,54.6L686.5,54.6L686.5,54.6L686.6,54.6L686.7,54.6L686.8,54.6L686.9,54.6L686.9,54.6L687.0,54.6L687.1,54.6L687.2,54.6L687.3,54.6L687.3,54.6L687.4,54.6L687.5,54.6L687.6,54.6L687.7,54.6L687.7,54.6L687.8,54.6L687.9,54.6L688.0,54.6L688.1,54.6L688.2,54.6L688.2,54.6L688.3,54.6L688.4,54.6L688.5,54.6L688.6,54.6L688.6,54.6L688.7,54.6L688.8,54.6L688.9,54.6L689.0,54.6L689.0,54.6L689.1,54.6L689.2,54.6L689.3,54.6L689.4,54.6L689.5,54.6L689.5,54.6L689.6,54.6L689.7,54.6L689.8,54.6L689.9,54.6L689.9,54.6L690.0,54.6L690.1,54.6L690.2,54.6L690.3,54.6L690.3,54.6L690.4,54.6L690.5,54.6L690.6,54.6L690.7,54.6L690.8,54.6L690.8,54.6L690.9,54.6L691.0,54.6L691.1,54.6L691.2,54.6L691.2,54.6L691.3,54.6L691.4,54.6L691.5,54.6L691.6,54.6L691.6,54.6L691.7,54.6L691.8,54.6L691.9,54.6L692.0,54.6L692.1,54.6L692.1,54.6L692.2,54.6L692.3,54.6L692.4,54.6L692.5,54.6L692.5,54.6L692.6,54.6L692.7,54.6L692.8,54.6L692.9,54.6L692.9,54.6L693.0,54.6L693.1,54.6L693.2,54.6L693.3,54.6L693.3,54.6L693.4,54.6L693.5,54.6L693.6,54.6L693.7,54.6L693.8,54.6L693.8,54.6L693.9,54.6L694.0,54.6L694.1,54.6L694.2,54.6L694.2,54.6L694.3,54.6L694.4,54.6L694.5,54.6L694.6,54.6L694.6,54.6L694.7,54.6L694.8,54.6L694.9,54.6L695.0,54.6L695.1,54.6L695.1,54.6L695.2,54.6L695.3,54.6L695.4,54.6L695.5,54.6L695.5,54.6L695.6,54.6L695.7,54.6L695.8,54.6L695.9,54.6L695.9,54.6L696.0,54.6L696.1,54.6L696.2,54.6L696.3,54.6L696.4,54.6L696.4,54.6L696.5,54.6L696.6,54.6L696.7,54.6L696.8,54.6L696.8,54.6L696.9,54.6L697.0,54.6L697.1,54.6L697.2,54.6L697.2,54.6L697.3,54.6L697.4,54.6L697.5,54.6L697.6,54.6L697.7,54.6L697.7,54.6L697.8,54.6L697.9,54.6L698.0,54.6L698.1,54.6L698.1,54.6L698.2,54.6L698.3,54.6L698.4,54.6L698.5,54.6L698.5,54.6L698.6,54.6L698.7,54.6L698.8,54.6L698.9,54.6L698.9,54.6L699.0,54.6L699.1,54.6L699.2,54.6L699.3,54.6L699.4,54.6L699.4,54.6L699.5,54.6L699.6,54.6L699.7,54.6L699.8,54.6L699.8,54.6L699.9,54.6L700.0,54.6L700.1,54.6L700.2,54.6L700.2,54.6L700.3,54.6L700.4,54.6L700.5,54.6L700.6,54.6L700.7,54.6L700.7,54.6L700.8,54.6L700.9,54.6L701.0,54.6L701.1,54.6L701.1,54.6L701.2,54.6L701.3,54.6L701.4,54.6L701.5,54.6L701.5,54.6L701.6,54.6L701.7,54.6L701.8,54.6L701.9,54.6L702.0,54.6L702.0,54.6L702.1,54.6L702.2,54.6L702.3,54.6L702.4,54.6L702.4,54.6L702.5,54.6L702.6,54.6L702.7,54.6L702.8,54.6L702.8,54.6L702.9,54.6L703.0,54.6L703.1,54.6L703.2,54.6L703.3,54.6L703.3,54.6L703.4,54.6L703.5,54.6L703.6,54.6L703.7,54.6L703.7,54.6L703.8,54.6L703.9,54.6L704.0,54.6L704.1,54.6L704.1,54.6L704.2,54.6L704.3,54.6L704.4,54.6L704.5,54.6L704.5,54.6L704.6,54.6L704.7,54.6L704.8,54.6L704.9,54.6L705.0,54.6L705.0,54.6L705.1,54.6L705.2,54.6L705.3,54.6L705.4,54.6L705.4,54.6L705.5,54.6L705.6,54.6L705.7,54.6L705.8,54.6L705.8,54.6L705.9,54.6L706.0,54.6L706.1,54.6L706.2,54.6L706.3,54.6L706.3,54.6L706.4,54.6L706.5,54.6L706.6,54.6L706.7,54.6L706.7,54.6L706.8,54.6L706.9,54.6L707.0,54.6L707.1,54.6L707.1,54.6L707.2,54.6L707.3,54.6L707.4,54.6L707.5,54.6L707.6,54.6L707.6,54.6L707.7,54.6L707.8,54.6L707.9,54.6L708.0,54.6L708.0,54.6L708.1,54.6L708.2,54.6L708.3,54.6L708.4,54.6L708.4,54.6L708.5,54.6L708.6,54.6L708.7,54.6L708.8,54.6L708.9,54.6L708.9,54.6L709.0,54.6L709.1,54.6L709.2,54.6L709.3,54.6L709.3,54.6L709.4,54.6L709.5,54.6L709.6,54.6L709.7,54.6L709.7,54.6L709.8,54.6L709.9,54.6L710.0,54.6L710.1,54.6L710.1,54.6" stroke="#aaa" stroke-width="1.2" fill="none" stroke-linejoin="round" />
<line x1="722.25" y1="54.60" x2="730.65" y2="54.60" stroke="#000" stroke-width="1.7" />
<rect x="625.85" y="97.55" width="87.30" height="36.70" stroke="#222" stroke-width="1" fill="none" />
<rect x="715.65" y="97.55" width="22.20" height="36.70" stroke="#222" stroke-width="1" fill="none" />
<line x1="619.85" y1="98.75" x2="625.85" y2="98.75" stroke="#222" stroke-width="1" />
<text transform="translate(612.65,98.75) rotate(-90) scale(1,1.05)" font-size="9.0">0.010</text>
<line x1="619.85" y1="107.40" x2="625.85" y2="107.40" stroke="#222" stroke-width="1" />
<line x1="619.85" y1="116.05" x2="625.85" y2="116.05" stroke="#222" stroke-width="1" />
<line x1="619.85" y1="124.70" x2="625.85" y2="124.70" stroke="#222" stroke-width="1" />
<line x1="619.85" y1="133.35" x2="625.85" y2="133.35" stroke="#222" stroke-width="1" />
<text transform="translate(612.65,133.35) rotate(-90) scale(1,1.05)" font-size="9.0">-0.010</text>
<text transform="translate(588.45,117.50) rotate(-90) scale(1,1.05)" font-size="9.5">b<tspan font-size="6.5" dy="1.8">0</tspan></text>
<line x1="669.65" y1="97.55" x2="669.65" y2="134.25" stroke="#111" stroke-width="0.85" stroke-dasharray="1,1.2"/>
<path d="M629.0,115.6L629.0,115.6L629.1,115.6L629.2,115.6L629.3,115.6L629.4,115.6L629.4,115.6L629.5,115.6L629.6,115.6L629.7,115.6L629.8,115.6L629.8,115.6L629.9,115.6L630.0,115.6L630.1,115.6L630.2,115.6L630.3,115.6L630.3,115.6L630.4,115.6L630.5,115.6L630.6,115.6L630.7,115.6L630.7,115.6L630.8,115.6L630.9,115.6L631.0,115.6L631.1,115.6L631.2,115.6L631.2,115.6L631.3,115.6L631.4,115.6L631.5,115.6L631.6,115.6L631.6,115.6L631.7,115.6L631.8,115.6L631.9,115.6L632.0,115.6L632.0,115.6L632.1,115.6L632.2,115.6L632.3,115.6L632.4,115.6L632.5,115.6L632.5,115.6L632.6,115.6L632.7,115.6L632.8,115.6L632.9,115.6L632.9,115.6L633.0,115.6L633.1,115.6L633.2,115.6L633.3,115.6L633.4,115.6L633.4,115.6L633.5,115.6L633.6,115.6L633.7,115.6L633.8,115.6L633.8,115.6L633.9,115.6L634.0,115.6L634.1,115.6L634.2,115.6L634.3,115.6L634.3,115.6L634.4,115.6L634.5,115.6L634.6,115.6L634.7,115.6L634.7,115.6L634.8,115.6L634.9,115.6L635.0,115.6L635.1,115.6L635.1,115.6L635.2,115.6L635.3,115.6L635.4,115.6L635.5,115.6L635.6,115.6L635.6,115.6L635.7,115.6L635.8,115.6L635.9,115.6L636.0,115.6L636.0,115.6L636.1,115.6L636.2,115.6L636.3,115.6L636.4,115.6L636.5,115.6L636.5,115.6L636.6,115.6L636.7,115.6L636.8,115.6L636.9,115.6L636.9,115.6L637.0,115.6L637.1,115.6L637.2,115.6L637.3,115.6L637.4,115.6L637.4,115.6L637.5,115.6L637.6,115.6L637.7,115.6L637.8,115.6L637.8,115.6L637.9,115.6L638.0,115.6L638.1,115.6L638.2,115.6L638.2,115.6L638.3,115.6L638.4,115.6L638.5,115.6L638.6,115.6L638.7,115.6L638.7,115.6L638.8,115.6L638.9,115.6L639.0,115.6L639.1,115.6L639.1,115.6L639.2,115.6L639.3,115.6L639.4,115.6L639.5,115.6L639.6,115.6L639.6,115.6L639.7,115.6L639.8,115.6L639.9,115.6L640.0,115.6L640.0,115.6L640.1,115.6L640.2,115.6L640.3,115.6L640.4,115.6L640.5,115.6L640.5,115.6L640.6,115.6L640.7,115.6L640.8,115.6L640.9,115.6L640.9,115.6L641.0,115.6L641.1,115.6L641.2,115.6L641.3,115.6L641.3,115.6L641.4,115.6L641.5,115.6L641.6,115.6L641.7,115.6L641.8,115.6L641.8,115.6L641.9,115.6L642.0,115.6L642.1,115.6L642.2,115.6L642.2,115.6L642.3,115.6L642.4,115.6L642.5,115.6L642.6,115.6L642.7,115.6L642.7,115.6L642.8,115.6L642.9,115.6L643.0,115.6L643.1,115.6L643.1,115.6L643.2,115.6L643.3,115.6L643.4,115.6L643.5,115.6L643.5,115.6L643.6,115.6L643.7,115.6L643.8,115.6L643.9,115.6L644.0,115.6L644.0,115.6L644.1,115.6L644.2,115.6L644.3,115.6L644.4,115.6L644.4,115.6L644.5,115.6L644.6,115.6L644.7,115.6L644.8,115.6L644.9,115.6L644.9,115.6L645.0,115.6L645.1,115.6L645.2,115.6L645.3,115.6L645.3,115.6L645.4,115.6L645.5,115.6L645.6,115.6L645.7,115.6L645.8,115.6L645.8,115.6L645.9,115.6L646.0,115.6L646.1,115.6L646.2,115.6L646.2,115.6L646.3,115.6L646.4,115.6L646.5,115.6L646.6,115.6L646.6,115.6L646.7,115.6L646.8,115.6L646.9,115.6L647.0,115.6L647.1,115.6L647.1,115.6L647.2,115.6L647.3,115.6L647.4,115.6L647.5,115.6L647.5,115.6L647.6,115.6L647.7,115.6L647.8,115.6L647.9,115.6L648.0,115.6L648.0,115.6L648.1,115.6L648.2,115.6L648.3,115.6L648.4,115.6L648.4,115.6L648.5,115.6L648.6,115.6L648.7,115.6L648.8,115.6L648.9,115.6L648.9,115.6L649.0,115.6L649.1,115.6L649.2,115.6L649.3,115.6L649.3,115.6L649.4,115.6L649.5,115.6L649.6,115.6L649.7,115.6L649.7,115.6L649.8,115.6L649.9,115.6L650.0,115.6L650.1,115.6L650.2,115.6L650.2,115.6L650.3,115.6L650.4,115.6L650.5,115.6L650.6,115.6L650.6,115.6L650.7,115.6L650.8,115.6L650.9,115.6L651.0,115.6L651.1,115.6L651.1,115.6L651.2,115.6L651.3,115.6L651.4,115.6L651.5,115.6L651.5,115.6L651.6,115.6L651.7,115.6L651.8,115.6L651.9,115.6L652.0,115.6L652.0,115.6L652.1,115.6L652.2,115.6L652.3,115.6L652.4,115.6L652.4,115.6L652.5,115.6L652.6,115.6L652.7,115.6L652.8,115.6L652.8,115.6L652.9,115.6L653.0,115.6L653.1,115.6L653.2,115.6L653.3,115.6L653.3,115.6L653.4,115.6L653.5,115.6L653.6,115.6L653.7,115.6L653.7,115.6L653.8,115.6L653.9,115.6L654.0,115.6L654.1,115.6L654.2,115.6L654.2,115.6L654.3,115.6L654.4,115.6L654.5,115.6L654.6,115.6L654.6,115.6L654.7,115.6L654.8,115.6L654.9,115.6L655.0,115.6L655.1,115.6L655.1,115.6L655.2,115.6L655.3,115.6L655.4,115.6L655.5,115.6L655.5,115.6L655.6,115.6L655.7,115.6L655.8,115.6L655.9,115.6L655.9,115.6L656.0,115.6L656.1,115.6L656.2,115.6L656.3,115.6L656.4,115.6L656.4,115.6L656.5,115.6L656.6,115.6L656.7,115.6L656.8,115.6L656.8,115.6L656.9,115.6L657.0,115.6L657.1,115.6L657.2,115.6L657.3,115.6L657.3,115.6L657.4,115.6L657.5,115.6L657.6,115.6L657.7,115.6L657.7,115.6L657.8,115.6L657.9,115.6L658.0,115.6L658.1,115.6L658.1,115.6L658.2,115.6L658.3,115.6L658.4,115.6L658.5,115.6L658.6,115.6L658.6,115.6L658.7,115.6L658.8,115.6L658.9,115.6L659.0,115.6L659.0,115.6L659.1,115.6L659.2,115.6L659.3,115.6L659.4,115.6L659.5,115.6L659.5,115.6L659.6,115.6L659.7,115.6L659.8,115.6L659.9,115.6L659.9,115.6L660.0,115.6L660.1,115.6L660.2,115.6L660.3,115.6L660.4,115.6L660.4,115.6L660.5,115.6L660.6,115.6L660.7,115.6L660.8,115.6L660.8,115.6L660.9,115.6L661.0,115.6L661.1,115.6L661.2,115.6L661.2,115.6L661.3,115.6L661.4,115.6L661.5,115.6L661.6,115.6L661.7,115.6L661.7,115.6L661.8,115.6L661.9,115.6L662.0,115.6L662.1,115.6L662.1,115.6L662.2,115.6L662.3,115.6L662.4,115.6L662.5,115.6L662.6,115.6L662.6,115.6L662.7,115.6L662.8,115.6L662.9,115.6L663.0,115.6L663.0,115.6L663.1,115.6L663.2,115.6L663.3,115.6L663.4,115.6L663.5,115.6L663.5,115.6L663.6,115.6L663.7,115.6L663.8,115.6L663.9,115.6L663.9,115.6L664.0,115.6L664.1,115.6L664.2,115.6L664.3,115.6L664.3,115.6L664.4,115.6L664.5,115.6L664.6,115.6L664.7,115.6L664.8,115.6L664.8,115.6L664.9,115.6L665.0,115.6L665.1,115.6L665.2,115.6L665.2,115.6L665.3,115.6L665.4,115.6L665.5,115.6L665.6,115.6L665.7,115.6L665.7,115.6L665.8,115.6L665.9,115.6L666.0,115.6L666.1,115.6L666.1,115.6L666.2,115.6L666.3,115.6L666.4,115.6L666.5,115.6L666.6,115.6L666.6,115.6L666.7,115.6L666.8,115.6L666.9,115.6L667.0,115.6L667.0,115.6L667.1,115.6L667.2,115.6L667.3,115.6L667.4,115.6L667.4,115.6L667.5,115.6L667.6,115.6L667.7,115.6L667.8,115.6L667.9,115.6L667.9,115.6L668.0,115.6L668.1,115.6L668.2,115.6L668.3,115.6L668.3,115.6L668.4,115.6L668.5,115.6L668.6,115.6L668.7,115.6L668.8,115.6L668.8,115.6L668.9,115.6L669.0,115.6L669.1,115.6L669.2,115.6L669.2,115.6L669.3,115.6L669.4,115.6L669.5,115.6L669.6,115.6L669.6,115.6" stroke="#dcdcdc" stroke-width="1.0" fill="none" stroke-linejoin="round" />
<path d="M669.6,115.6L669.7,115.6L669.8,115.6L669.9,115.6L670.0,115.6L670.1,115.6L670.1,115.6L670.2,115.6L670.3,115.6L670.4,115.6L670.5,115.6L670.5,115.6L670.6,115.6L670.7,115.6L670.8,115.6L670.9,115.6L670.9,115.6L671.0,115.6L671.1,115.6L671.2,115.6L671.3,115.6L671.4,115.6L671.4,115.6L671.5,115.6L671.6,115.6L671.7,115.6L671.8,115.6L671.8,115.6L671.9,115.6L672.0,115.6L672.1,115.6L672.2,115.6L672.2,115.6L672.3,115.6L672.4,115.6L672.5,115.6L672.6,115.6L672.7,115.6L672.7,115.6L672.8,115.6L672.9,115.6L673.0,115.6L673.1,115.6L673.1,115.6L673.2,115.6L673.3,115.6L673.4,115.6L673.5,115.6L673.5,115.6L673.6,115.6L673.7,115.6L673.8,115.6L673.9,115.6L674.0,115.6L674.0,115.6L674.1,115.6L674.2,115.6L674.3,115.6L674.4,115.6L674.4,115.6L674.5,115.6L674.6,115.6L674.7,115.6L674.8,115.6L674.8,115.6L674.9,115.6L675.0,115.6L675.1,115.6L675.2,115.6L675.3,115.6L675.3,115.6L675.4,115.6L675.5,115.6L675.6,115.6L675.7,115.6L675.7,115.6L675.8,115.6L675.9,115.6L676.0,115.6L676.1,115.6L676.1,115.6L676.2,115.6L676.3,115.6L676.4,115.6L676.5,115.6L676.5,115.6L676.6,115.6L676.7,115.6L676.8,115.6L676.9,115.6L677.0,115.6L677.0,115.6L677.1,115.6L677.2,115.6L677.3,115.6L677.4,115.6L677.4,115.6L677.5,115.6L677.6,115.6L677.7,115.6L677.8,115.6L677.8,115.6L677.9,115.6L678.0,115.6L678.1,115.6L678.2,115.6L678.3,115.6L678.3,115.6L678.4,115.6L678.5,115.6L678.6,115.6L678.7,115.6L678.7,115.6L678.8,115.6L678.9,115.6L679.0,115.6L679.1,115.6L679.1,115.6L679.2,115.6L679.3,115.6L679.4,115.6L679.5,115.6L679.6,115.6L679.6,115.6L679.7,115.6L679.8,115.6L679.9,115.6L680.0,115.6L680.0,115.6L680.1,115.6L680.2,115.6L680.3,115.6L680.4,115.6L680.4,115.6L680.5,115.6L680.6,115.6L680.7,115.6L680.8,115.6L680.9,115.6L680.9,115.6L681.0,115.6L681.1,115.6L681.2,115.6L681.3,115.6L681.3,115.6L681.4,115.6L681.5,115.6L681.6,115.6L681.7,115.6L681.7,115.6L681.8,115.6L681.9,115.6L682.0,115.6L682.1,115.6L682.1,115.6L682.2,115.6L682.3,115.6L682.4,115.6L682.5,115.6L682.6,115.6L682.6,115.6L682.7,115.6L682.8,115.6L682.9,115.6L683.0,115.6L683.0,115.6L683.1,115.6L683.2,115.6L683.3,115.6L683.4,115.6L683.4,115.6L683.5,115.6L683.6,115.6L683.7,115.6L683.8,115.6L683.9,115.6L683.9,115.6L684.0,115.6L684.1,115.6L684.2,115.6L684.3,115.6L684.3,115.6L684.4,115.6L684.5,115.6L684.6,115.6L684.7,115.6L684.7,115.6L684.8,115.6L684.9,115.6L685.0,115.6L685.1,115.6L685.2,115.6L685.2,115.6L685.3,115.6L685.4,115.6L685.5,115.6L685.6,115.6L685.6,115.6L685.7,115.6L685.8,115.6L685.9,115.6L686.0,115.6L686.0,115.6L686.1,115.6L686.2,115.6L686.3,115.6L686.4,115.6L686.5,115.6L686.5,115.6L686.6,115.6L686.7,115.6L686.8,115.6L686.9,115.6L686.9,115.6L687.0,115.6L687.1,115.6L687.2,115.6L687.3,115.6L687.3,115.6L687.4,115.6L687.5,115.6L687.6,115.6L687.7,115.6L687.7,115.6L687.8,115.6L687.9,115.6L688.0,115.6L688.1,115.6L688.2,115.6L688.2,115.6L688.3,115.6L688.4,115.6L688.5,115.6L688.6,115.6L688.6,115.6L688.7,115.6L688.8,115.6L688.9,115.6L689.0,115.6L689.0,115.6L689.1,115.6L689.2,115.6L689.3,115.6L689.4,115.6L689.5,115.6L689.5,115.6L689.6,115.6L689.7,115.6L689.8,115.6L689.9,115.6L689.9,115.6L690.0,115.6L690.1,115.6L690.2,115.6L690.3,115.6L690.3,115.6L690.4,115.6L690.5,115.6L690.6,115.6L690.7,115.6L690.8,115.6L690.8,115.6L690.9,115.6L691.0,115.6L691.1,115.6L691.2,115.6L691.2,115.6L691.3,115.6L691.4,115.6L691.5,115.6L691.6,115.6L691.6,115.6L691.7,115.6L691.8,115.6L691.9,115.6L692.0,115.6L692.1,115.6L692.1,115.6L692.2,115.6L692.3,115.6L692.4,115.6L692.5,115.6L692.5,115.6L692.6,115.6L692.7,115.6L692.8,115.6L692.9,115.6L692.9,115.6L693.0,115.6L693.1,115.6L693.2,115.6L693.3,115.6L693.3,115.6L693.4,115.6L693.5,115.6L693.6,115.6L693.7,115.6L693.8,115.6L693.8,115.6L693.9,115.6L694.0,115.6L694.1,115.6L694.2,115.6L694.2,115.6L694.3,115.6L694.4,115.6L694.5,115.6L694.6,115.6L694.6,115.6L694.7,115.6L694.8,115.6L694.9,115.6L695.0,115.6L695.1,115.6L695.1,115.6L695.2,115.6L695.3,115.6L695.4,115.6L695.5,115.6L695.5,115.6L695.6,115.6L695.7,115.6L695.8,115.6L695.9,115.6L695.9,115.6L696.0,115.6L696.1,115.6L696.2,115.6L696.3,115.6L696.4,115.6L696.4,115.6L696.5,115.6L696.6,115.6L696.7,115.6L696.8,115.6L696.8,115.6L696.9,115.6L697.0,115.6L697.1,115.6L697.2,115.6L697.2,115.6L697.3,115.6L697.4,115.6L697.5,115.6L697.6,115.6L697.7,115.6L697.7,115.6L697.8,115.6L697.9,115.6L698.0,115.6L698.1,115.6L698.1,115.6L698.2,115.6L698.3,115.6L698.4,115.6L698.5,115.6L698.5,115.6L698.6,115.6L698.7,115.6L698.8,115.6L698.9,115.6L698.9,115.6L699.0,115.6L699.1,115.6L699.2,115.6L699.3,115.6L699.4,115.6L699.4,115.6L699.5,115.6L699.6,115.6L699.7,115.6L699.8,115.6L699.8,115.6L699.9,115.6L700.0,115.6L700.1,115.6L700.2,115.6L700.2,115.6L700.3,115.6L700.4,115.6L700.5,115.6L700.6,115.6L700.7,115.6L700.7,115.6L700.8,115.6L700.9,115.6L701.0,115.6L701.1,115.6L701.1,115.6L701.2,115.6L701.3,115.6L701.4,115.6L701.5,115.6L701.5,115.6L701.6,115.6L701.7,115.6L701.8,115.6L701.9,115.6L702.0,115.6L702.0,115.6L702.1,115.6L702.2,115.6L702.3,115.6L702.4,115.6L702.4,115.6L702.5,115.6L702.6,115.6L702.7,115.6L702.8,115.6L702.8,115.6L702.9,115.6L703.0,115.6L703.1,115.6L703.2,115.6L703.3,115.6L703.3,115.6L703.4,115.6L703.5,115.6L703.6,115.6L703.7,115.6L703.7,115.6L703.8,115.6L703.9,115.6L704.0,115.6L704.1,115.6L704.1,115.6L704.2,115.6L704.3,115.6L704.4,115.6L704.5,115.6L704.5,115.6L704.6,115.6L704.7,115.6L704.8,115.6L704.9,115.6L705.0,115.6L705.0,115.6L705.1,115.6L705.2,115.6L705.3,115.6L705.4,115.6L705.4,115.6L705.5,115.6L705.6,115.6L705.7,115.6L705.8,115.6L705.8,115.6L705.9,115.6L706.0,115.6L706.1,115.6L706.2,115.6L706.3,115.6L706.3,115.6L706.4,115.6L706.5,115.6L706.6,115.6L706.7,115.6L706.7,115.6L706.8,115.6L706.9,115.6L707.0,115.6L707.1,115.6L707.1,115.6L707.2,115.6L707.3,115.6L707.4,115.6L707.5,115.6L707.6,115.6L707.6,115.6L707.7,115.6L707.8,115.6L707.9,115.6L708.0,115.6L708.0,115.6L708.1,115.6L708.2,115.6L708.3,115.6L708.4,115.6L708.4,115.6L708.5,115.6L708.6,115.6L708.7,115.6L708.8,115.6L708.9,115.6L708.9,115.6L709.0,115.6L709.1,115.6L709.2,115.6L709.3,115.6L709.3,115.6L709.4,115.6L709.5,115.6L709.6,115.6L709.7,115.6L709.7,115.6L709.8,115.6L709.9,115.6L710.0,115.6L710.1,115.6L710.1,115.6" stroke="#aaa" stroke-width="1.2" fill="none" stroke-linejoin="round" />
<line x1="722.25" y1="115.60" x2="730.65" y2="115.60" stroke="#000" stroke-width="1.7" />
<rect x="625.85" y="158.65" width="87.30" height="36.70" stroke="#222" stroke-width="1" fill="none" />
<rect x="715.65" y="158.65" width="22.20" height="36.70" stroke="#222" stroke-width="1" fill="none" />
<line x1="619.85" y1="159.95" x2="625.85" y2="159.95" stroke="#222" stroke-width="1" />
<line x1="619.85" y1="166.83" x2="625.85" y2="166.83" stroke="#222" stroke-width="1" />
<text transform="translate(612.65,166.83) rotate(-90) scale(1,1.05)" font-size="9.0">2.00</text>
<line x1="619.85" y1="172.04" x2="625.85" y2="172.04" stroke="#222" stroke-width="1" />
<line x1="619.85" y1="177.25" x2="625.85" y2="177.25" stroke="#222" stroke-width="1" />
<line x1="619.85" y1="184.13" x2="625.85" y2="184.13" stroke="#222" stroke-width="1" />
<line x1="619.85" y1="189.34" x2="625.85" y2="189.34" stroke="#222" stroke-width="1" />
<line x1="619.85" y1="194.55" x2="625.85" y2="194.55" stroke="#222" stroke-width="1" />
<text transform="translate(612.65,193.55) rotate(-90) scale(1,1.05)" font-size="9.0">0.05</text>
<text transform="translate(588.45,178.60) rotate(-90) scale(1,1.05)" font-size="9.5">b<tspan font-size="6.5" dy="1.8">1</tspan></text>
<line x1="669.65" y1="158.65" x2="669.65" y2="195.35" stroke="#111" stroke-width="0.85" stroke-dasharray="1,1.2"/>
<path d="M629.0,171.6L629.0,171.6L629.1,171.6L629.2,171.6L629.3,171.6L629.4,171.6L629.4,171.6L629.5,171.6L629.6,171.6L629.7,171.6L629.8,171.6L629.8,171.6L629.9,171.6L630.0,171.6L630.1,171.6L630.2,171.6L630.3,171.6L630.3,171.6L630.4,171.6L630.5,171.6L630.6,171.6L630.7,171.6L630.7,171.6L630.8,171.6L630.9,171.6L631.0,171.6L631.1,171.6L631.2,171.6L631.2,171.6L631.3,171.6L631.4,171.6L631.5,171.6L631.6,171.6L631.6,171.6L631.7,171.6L631.8,171.6L631.9,171.6L632.0,171.6L632.0,171.6L632.1,171.6L632.2,171.6L632.3,171.6L632.4,171.6L632.5,171.6L632.5,171.6L632.6,171.6L632.7,171.6L632.8,171.6L632.9,171.6L632.9,171.6L633.0,171.6L633.1,171.6L633.2,171.6L633.3,171.6L633.4,171.6L633.4,171.6L633.5,171.6L633.6,171.6L633.7,171.6L633.8,171.6L633.8,171.6L633.9,171.6L634.0,171.6L634.1,171.6L634.2,171.6L634.3,171.6L634.3,171.6L634.4,171.6L634.5,171.6L634.6,171.6L634.7,171.6L634.7,171.6L634.8,171.6L634.9,171.6L635.0,171.6L635.1,171.6L635.1,171.6L635.2,171.6L635.3,171.6L635.4,171.6L635.5,171.6L635.6,171.6L635.6,171.6L635.7,171.6L635.8,171.6L635.9,171.6L636.0,171.6L636.0,171.6L636.1,171.6L636.2,171.6L636.3,171.6L636.4,171.6L636.5,171.6L636.5,171.6L636.6,171.6L636.7,171.6L636.8,171.6L636.9,171.6L636.9,171.6L637.0,171.6L637.1,171.6L637.2,171.6L637.3,171.6L637.4,171.6L637.4,171.6L637.5,171.6L637.6,171.6L637.7,171.6L637.8,171.6L637.8,171.6L637.9,171.6L638.0,171.6L638.1,171.6L638.2,171.6L638.2,171.6L638.3,171.6L638.4,171.6L638.5,171.6L638.6,171.6L638.7,171.6L638.7,171.6L638.8,171.6L638.9,171.6L639.0,171.6L639.1,171.6L639.1,171.6L639.2,171.6L639.3,171.6L639.4,171.6L639.5,171.6L639.6,171.6L639.6,171.6L639.7,171.6L639.8,171.6L639.9,171.6L640.0,171.6L640.0,171.6L640.1,171.6L640.2,171.6L640.3,171.6L640.4,171.6L640.5,171.6L640.5,171.6L640.6,171.6L640.7,171.6L640.8,171.6L640.9,171.6L640.9,171.6L641.0,171.6L641.1,171.6L641.2,171.6L641.3,171.6L641.3,171.6L641.4,171.6L641.5,171.6L641.6,171.6L641.7,171.6L641.8,171.6L641.8,171.6L641.9,171.6L642.0,171.6L642.1,171.6L642.2,171.6L642.2,171.6L642.3,171.6L642.4,171.6L642.5,171.6L642.6,171.6L642.7,171.6L642.7,171.6L642.8,171.6L642.9,171.6L643.0,171.6L643.1,171.6L643.1,171.6L643.2,171.6L643.3,171.6L643.4,171.6L643.5,171.6L643.5,171.6L643.6,171.6L643.7,171.6L643.8,171.6L643.9,171.6L644.0,171.6L644.0,171.6L644.1,171.6L644.2,171.6L644.3,171.6L644.4,171.6L644.4,171.6L644.5,171.6L644.6,171.6L644.7,171.6L644.8,171.6L644.9,171.6L644.9,171.6L645.0,171.6L645.1,171.6L645.2,171.6L645.3,171.6L645.3,171.6L645.4,171.6L645.5,171.6L645.6,171.6L645.7,171.6L645.8,171.6L645.8,171.6L645.9,171.6L646.0,171.6L646.1,171.6L646.2,171.6L646.2,171.6L646.3,171.6L646.4,171.6L646.5,171.6L646.6,171.6L646.6,171.6L646.7,171.6L646.8,171.6L646.9,171.6L647.0,171.6L647.1,171.6L647.1,171.6L647.2,171.6L647.3,171.6L647.4,171.6L647.5,171.6L647.5,171.6L647.6,171.6L647.7,171.6L647.8,171.6L647.9,171.6L648.0,171.6L648.0,171.6L648.1,171.6L648.2,171.6L648.3,171.6L648.4,171.6L648.4,171.6L648.5,171.6L648.6,171.6L648.7,171.6L648.8,171.6L648.9,171.6L648.9,171.6L649.0,171.6L649.1,171.6L649.2,171.6L649.3,171.6L649.3,171.6L649.4,171.6L649.5,171.6L649.6,171.6L649.7,171.6L649.7,171.6L649.8,171.6L649.9,171.6L650.0,171.6L650.1,171.6L650.2,171.6L650.2,171.6L650.3,171.6L650.4,171.6L650.5,171.6L650.6,171.6L650.6,171.6L650.7,171.6L650.8,171.6L650.9,171.6L651.0,171.6L651.1,171.6L651.1,171.6L651.2,171.6L651.3,171.6L651.4,171.6L651.5,171.6L651.5,171.6L651.6,171.6L651.7,171.6L651.8,171.6L651.9,171.6L652.0,171.6L652.0,171.6L652.1,171.6L652.2,171.6L652.3,171.6L652.4,171.6L652.4,171.6L652.5,171.6L652.6,171.6L652.7,171.6L652.8,171.6L652.8,171.6L652.9,171.6L653.0,171.6L653.1,171.6L653.2,171.6L653.3,171.6L653.3,171.6L653.4,171.6L653.5,171.6L653.6,171.6L653.7,171.6L653.7,171.6L653.8,171.6L653.9,171.6L654.0,171.6L654.1,171.6L654.2,171.6L654.2,171.6L654.3,171.6L654.4,171.6L654.5,171.6L654.6,171.6L654.6,171.6L654.7,171.6L654.8,171.6L654.9,171.6L655.0,171.6L655.1,171.6L655.1,171.6L655.2,171.6L655.3,171.6L655.4,171.6L655.5,171.6L655.5,171.6L655.6,171.6L655.7,171.6L655.8,171.6L655.9,171.6L655.9,171.6L656.0,171.6L656.1,171.6L656.2,171.6L656.3,171.6L656.4,171.6L656.4,171.6L656.5,171.6L656.6,171.6L656.7,171.6L656.8,171.6L656.8,171.6L656.9,171.6L657.0,171.6L657.1,171.6L657.2,171.6L657.3,171.6L657.3,171.6L657.4,171.6L657.5,171.6L657.6,171.6L657.7,171.6L657.7,171.6L657.8,171.6L657.9,171.6L658.0,171.6L658.1,171.6L658.1,171.6L658.2,171.6L658.3,171.6L658.4,171.6L658.5,171.6L658.6,171.6L658.6,171.6L658.7,171.6L658.8,171.6L658.9,171.6L659.0,171.6L659.0,171.6L659.1,171.6L659.2,171.6L659.3,171.6L659.4,171.6L659.5,171.6L659.5,171.6L659.6,171.6L659.7,171.6L659.8,171.6L659.9,171.6L659.9,171.6L660.0,171.6L660.1,171.6L660.2,171.6L660.3,171.6L660.4,171.6L660.4,171.6L660.5,171.6L660.6,171.6L660.7,171.6L660.8,171.6L660.8,171.6L660.9,171.6L661.0,171.6L661.1,171.6L661.2,171.6L661.2,171.6L661.3,171.6L661.4,171.6L661.5,171.6L661.6,171.6L661.7,171.6L661.7,171.6L661.8,171.6L661.9,171.6L662.0,171.6L662.1,171.6L662.1,171.6L662.2,171.6L662.3,171.6L662.4,171.6L662.5,171.6L662.6,171.6L662.6,171.6L662.7,171.6L662.8,171.6L662.9,171.6L663.0,171.6L663.0,171.6L663.1,171.6L663.2,171.6L663.3,171.6L663.4,171.6L663.5,171.6L663.5,171.6L663.6,171.6L663.7,171.6L663.8,171.6L663.9,171.6L663.9,171.6L664.0,171.6L664.1,171.6L664.2,171.6L664.3,171.6L664.3,171.6L664.4,171.6L664.5,171.6L664.6,171.6L664.7,171.6L664.8,171.6L664.8,171.6L664.9,171.6L665.0,171.6L665.1,171.6L665.2,171.6L665.2,171.6L665.3,171.6L665.4,171.6L665.5,171.6L665.6,171.6L665.7,171.6L665.7,171.6L665.8,171.6L665.9,171.6L666.0,171.6L666.1,171.6L666.1,171.6L666.2,171.6L666.3,171.6L666.4,171.6L666.5,171.6L666.6,171.6L666.6,171.6L666.7,171.6L666.8,171.6L666.9,171.6L667.0,171.6L667.0,171.6L667.1,171.6L667.2,171.6L667.3,171.6L667.4,171.6L667.4,171.6L667.5,171.6L667.6,171.6L667.7,171.6L667.8,171.6L667.9,171.6L667.9,171.6L668.0,171.6L668.1,171.6L668.2,171.6L668.3,171.6L668.3,171.6L668.4,171.6L668.5,171.6L668.6,171.6L668.7,171.6L668.8,171.6L668.8,171.6L668.9,171.6L669.0,171.6L669.1,171.6L669.2,171.6L669.2,171.6L669.3,171.6L669.4,171.6L669.5,171.6L669.6,171.6L669.6,171.6" stroke="#d4d4d4" stroke-width="0.9" fill="none" stroke-linejoin="round" />
<path d="M669.6,171.6L669.7,171.6L669.8,171.6L669.9,171.6L670.0,171.6L670.1,171.6L670.1,171.6L670.2,171.6L670.3,171.6L670.4,171.6L670.5,171.6L670.5,171.6L670.6,171.6L670.7,171.6L670.8,171.6L670.9,171.6L670.9,171.6L671.0,171.6L671.1,171.6L671.2,171.6L671.3,171.6L671.4,171.6L671.4,171.6L671.5,171.6L671.6,171.6L671.7,171.6L671.8,171.6L671.8,171.6L671.9,171.6L672.0,171.6L672.1,171.6L672.2,171.6L672.2,171.6L672.3,171.6L672.4,171.6L672.5,171.6L672.6,171.6L672.7,171.6L672.7,171.6L672.8,171.6L672.9,171.6L673.0,171.6L673.1,171.6L673.1,171.6L673.2,171.6L673.3,171.6L673.4,171.6L673.5,171.6L673.5,171.6L673.6,171.6L673.7,171.6L673.8,171.6L673.9,171.6L674.0,171.6L674.0,171.6L674.1,171.6L674.2,171.6L674.3,171.6L674.4,171.6L674.4,171.6L674.5,171.6L674.6,171.6L674.7,171.6L674.8,171.6L674.8,171.6L674.9,171.6L675.0,171.6L675.1,171.6L675.2,171.6L675.3,171.6L675.3,171.6L675.4,171.6L675.5,171.6L675.6,171.6L675.7,171.6L675.7,171.6L675.8,171.6L675.9,171.6L676.0,171.6L676.1,171.6L676.1,171.6L676.2,171.6L676.3,171.6L676.4,171.6L676.5,171.6L676.5,171.6L676.6,171.6L676.7,171.6L676.8,171.6L676.9,171.6L677.0,171.6L677.0,171.6L677.1,171.6L677.2,171.6L677.3,171.6L677.4,171.6L677.4,171.6L677.5,171.6L677.6,171.6L677.7,171.6L677.8,171.6L677.8,171.6L677.9,171.6L678.0,171.6L678.1,171.6L678.2,171.6L678.3,171.6L678.3,171.6L678.4,171.6L678.5,171.6L678.6,171.6L678.7,171.6L678.7,171.6L678.8,171.6L678.9,171.6L679.0,171.6L679.1,171.6L679.1,171.6L679.2,171.6L679.3,171.6L679.4,171.6L679.5,171.6L679.6,171.6L679.6,171.6L679.7,171.6L679.8,171.6L679.9,171.6L680.0,171.6L680.0,171.6L680.1,171.6L680.2,171.6L680.3,171.6L680.4,171.6L680.4,171.6L680.5,171.6L680.6,171.6L680.7,171.6L680.8,171.6L680.9,171.6L680.9,171.6L681.0,171.6L681.1,171.6L681.2,171.6L681.3,171.6L681.3,171.6L681.4,171.6L681.5,171.6L681.6,171.6L681.7,171.6L681.7,171.6L681.8,171.6L681.9,171.6L682.0,171.6L682.1,171.6L682.1,171.6L682.2,171.6L682.3,171.6L682.4,171.6L682.5,171.6L682.6,171.6L682.6,171.6L682.7,171.6L682.8,171.6L682.9,171.6L683.0,171.6L683.0,171.6L683.1,171.6L683.2,171.6L683.3,171.6L683.4,171.6L683.4,171.6L683.5,171.6L683.6,171.6L683.7,171.6L683.8,171.6L683.9,171.6L683.9,171.6L684.0,171.6L684.1,171.6L684.2,171.6L684.3,171.6L684.3,171.6L684.4,171.6L684.5,171.6L684.6,171.6L684.7,171.6L684.7,171.6L684.8,171.6L684.9,171.6L685.0,171.6L685.1,171.6L685.2,171.6L685.2,171.6L685.3,171.6L685.4,171.6L685.5,171.6L685.6,171.6L685.6,171.6L685.7,171.6L685.8,171.6L685.9,171.6L686.0,171.6L686.0,171.6L686.1,171.6L686.2,171.6L686.3,171.6L686.4,171.6L686.5,171.6L686.5,171.6L686.6,171.6L686.7,171.6L686.8,171.6L686.9,171.6L686.9,171.6L687.0,171.6L687.1,171.6L687.2,171.6L687.3,171.6L687.3,171.6L687.4,171.6L687.5,171.6L687.6,171.6L687.7,171.6L687.7,171.6L687.8,171.6L687.9,171.6L688.0,171.6L688.1,171.6L688.2,171.6L688.2,171.6L688.3,171.6L688.4,171.6L688.5,171.6L688.6,171.6L688.6,171.6L688.7,171.6L688.8,171.6L688.9,171.6L689.0,171.6L689.0,171.6L689.1,171.6L689.2,171.6L689.3,171.6L689.4,171.6L689.5,171.6L689.5,171.6L689.6,171.6L689.7,171.6L689.8,171.6L689.9,171.6L689.9,171.6L690.0,171.6L690.1,171.6L690.2,171.6L690.3,171.6L690.3,171.6L690.4,171.6L690.5,171.6L690.6,171.6L690.7,171.6L690.8,171.6L690.8,171.6L690.9,171.6L691.0,171.6L691.1,171.6L691.2,171.6L691.2,171.6L691.3,171.6L691.4,171.6L691.5,171.6L691.6,171.6L691.6,171.6L691.7,171.6L691.8,171.6L691.9,171.6L692.0,171.6L692.1,171.6L692.1,171.6L692.2,171.6L692.3,171.6L692.4,171.6L692.5,171.6L692.5,171.6L692.6,171.6L692.7,171.6L692.8,171.6L692.9,171.6L692.9,171.6L693.0,171.6L693.1,171.6L693.2,171.6L693.3,171.6L693.3,171.6L693.4,171.6L693.5,171.6L693.6,171.6L693.7,171.6L693.8,171.6L693.8,171.6L693.9,171.6L694.0,171.6L694.1,171.6L694.2,171.6L694.2,171.6L694.3,171.6L694.4,171.6L694.5,171.6L694.6,171.6L694.6,171.6L694.7,171.6L694.8,171.6L694.9,171.6L695.0,171.6L695.1,171.6L695.1,171.6L695.2,171.6L695.3,171.6L695.4,171.6L695.5,171.6L695.5,171.6L695.6,171.6L695.7,171.6L695.8,171.6L695.9,171.6L695.9,171.6L696.0,171.6L696.1,171.6L696.2,171.6L696.3,171.6L696.4,171.6L696.4,171.6L696.5,171.6L696.6,171.6L696.7,171.6L696.8,171.6L696.8,171.6L696.9,171.6L697.0,171.6L697.1,171.6L697.2,171.6L697.2,171.6L697.3,171.6L697.4,171.6L697.5,171.6L697.6,171.6L697.7,171.6L697.7,171.6L697.8,171.6L697.9,171.6L698.0,171.6L698.1,171.6L698.1,171.6L698.2,171.6L698.3,171.6L698.4,171.6L698.5,171.6L698.5,171.6L698.6,171.6L698.7,171.6L698.8,171.6L698.9,171.6L698.9,171.6L699.0,171.6L699.1,171.6L699.2,171.6L699.3,171.6L699.4,171.6L699.4,171.6L699.5,171.6L699.6,171.6L699.7,171.6L699.8,171.6L699.8,171.6L699.9,171.6L700.0,171.6L700.1,171.6L700.2,171.6L700.2,171.6L700.3,171.6L700.4,171.6L700.5,171.6L700.6,171.6L700.7,171.6L700.7,171.6L700.8,171.6L700.9,171.6L701.0,171.6L701.1,171.6L701.1,171.6L701.2,171.6L701.3,171.6L701.4,171.6L701.5,171.6L701.5,171.6L701.6,171.6L701.7,171.6L701.8,171.6L701.9,171.6L702.0,171.6L702.0,171.6L702.1,171.6L702.2,171.6L702.3,171.6L702.4,171.6L702.4,171.6L702.5,171.6L702.6,171.6L702.7,171.6L702.8,171.6L702.8,171.6L702.9,171.6L703.0,171.6L703.1,171.6L703.2,171.6L703.3,171.6L703.3,171.6L703.4,171.6L703.5,171.6L703.6,171.6L703.7,171.6L703.7,171.6L703.8,171.6L703.9,171.6L704.0,171.6L704.1,171.6L704.1,171.6L704.2,171.6L704.3,171.6L704.4,171.6L704.5,171.6L704.5,171.6L704.6,171.6L704.7,171.6L704.8,171.6L704.9,171.6L705.0,171.6L705.0,171.6L705.1,171.6L705.2,171.6L705.3,171.6L705.4,171.6L705.4,171.6L705.5,171.6L705.6,171.6L705.7,171.6L705.8,171.6L705.8,171.6L705.9,171.6L706.0,171.6L706.1,171.6L706.2,171.6L706.3,171.6L706.3,171.6L706.4,171.6L706.5,171.6L706.6,171.6L706.7,171.6L706.7,171.6L706.8,171.6L706.9,171.6L707.0,171.6L707.1,171.6L707.1,171.6L707.2,171.6L707.3,171.6L707.4,171.6L707.5,171.6L707.6,171.6L707.6,171.6L707.7,171.6L707.8,171.6L707.9,171.6L708.0,171.6L708.0,171.6L708.1,171.6L708.2,171.6L708.3,171.6L708.4,171.6L708.4,171.6L708.5,171.6L708.6,171.6L708.7,171.6L708.8,171.6L708.9,171.6L708.9,171.6L709.0,171.6L709.1,171.6L709.2,171.6L709.3,171.6L709.3,171.6L709.4,171.6L709.5,171.6L709.6,171.6L709.7,171.6L709.7,171.6L709.8,171.6L709.9,171.6L710.0,171.6L710.1,171.6L710.1,171.6" stroke="#999" stroke-width="1.1" fill="none" stroke-linejoin="round" />
<line x1="722.25" y1="171.60" x2="730.65" y2="171.60" stroke="#000" stroke-width="1.7" />
<rect x="625.85" y="219.75" width="87.30" height="36.70" stroke="#222" stroke-width="1" fill="none" />
<rect x="715.65" y="219.75" width="22.20" height="36.70" stroke="#222" stroke-width="1" fill="none" />
<line x1="619.85" y1="221.15" x2="625.85" y2="221.15" stroke="#222" stroke-width="1" />
<text transform="translate(612.65,221.15) rotate(-90) scale(1,1.05)" font-size="9.0">5e-05</text>
<line x1="619.85" y1="227.93" x2="625.85" y2="227.93" stroke="#222" stroke-width="1" />
<line x1="619.85" y1="233.07" x2="625.85" y2="233.07" stroke="#222" stroke-width="1" />
<line x1="619.85" y1="238.20" x2="625.85" y2="238.20" stroke="#222" stroke-width="1" />
<line x1="619.85" y1="244.98" x2="625.85" y2="244.98" stroke="#222" stroke-width="1" />
<line x1="619.85" y1="250.12" x2="625.85" y2="250.12" stroke="#222" stroke-width="1" />
<line x1="619.85" y1="255.25" x2="625.85" y2="255.25" stroke="#222" stroke-width="1" />
<text transform="translate(612.65,255.25) rotate(-90) scale(1,1.05)" font-size="9.0">5e-07</text>
<text transform="translate(588.45,239.70) rotate(-90) scale(1,1.05)" font-size="9.5">σ<tspan font-size="6.5" dy="-3.5">2</tspan></text>
<line x1="669.65" y1="219.75" x2="669.65" y2="256.45" stroke="#111" stroke-width="0.85" stroke-dasharray="1,1.2"/>
<path d="M629.0,226.4L629.0,226.4L629.1,226.4L629.2,226.4L629.3,226.4L629.4,226.4L629.4,226.4L629.5,226.4L629.6,226.4L629.7,226.4L629.8,226.4L629.8,226.4L629.9,226.4L630.0,226.4L630.1,226.4L630.2,226.4L630.3,226.4L630.3,226.4L630.4,226.4L630.5,226.4L630.6,226.4L630.7,226.4L630.7,226.4L630.8,226.4L630.9,226.4L631.0,226.4L631.1,226.4L631.2,226.4L631.2,226.4L631.3,226.4L631.4,226.4L631.5,226.4L631.6,226.4L631.6,226.4L631.7,226.4L631.8,226.4L631.9,226.4L632.0,226.4L632.0,226.4L632.1,226.4L632.2,226.4L632.3,226.4L632.4,226.4L632.5,226.4L632.5,226.4L632.6,226.4L632.7,226.4L632.8,226.4L632.9,226.4L632.9,226.4L633.0,226.4L633.1,226.4L633.2,226.4L633.3,226.4L633.4,226.4L633.4,226.4L633.5,226.4L633.6,226.4L633.7,226.4L633.8,226.4L633.8,226.4L633.9,226.4L634.0,226.4L634.1,226.4L634.2,226.4L634.3,226.4L634.3,226.4L634.4,226.4L634.5,226.4L634.6,226.4L634.7,226.4L634.7,226.4L634.8,226.4L634.9,226.4L635.0,226.4L635.1,226.4L635.1,226.4L635.2,226.4L635.3,226.4L635.4,226.4L635.5,226.4L635.6,226.4L635.6,226.4L635.7,226.4L635.8,226.4L635.9,226.4L636.0,226.4L636.0,226.4L636.1,226.4L636.2,226.4L636.3,226.4L636.4,226.4L636.5,226.4L636.5,226.4L636.6,226.4L636.7,226.4L636.8,226.4L636.9,226.4L636.9,226.4L637.0,226.4L637.1,226.4L637.2,226.4L637.3,226.4L637.4,226.4L637.4,226.4L637.5,226.4L637.6,226.4L637.7,226.4L637.8,226.4L637.8,226.4L637.9,226.4L638.0,226.4L638.1,226.4L638.2,226.4L638.2,226.4L638.3,226.4L638.4,226.4L638.5,226.4L638.6,226.4L638.7,226.4L638.7,226.4L638.8,226.4L638.9,226.4L639.0,226.4L639.1,226.4L639.1,226.4L639.2,226.4L639.3,226.4L639.4,226.4L639.5,226.4L639.6,226.4L639.6,226.4L639.7,226.4L639.8,226.4L639.9,226.4L640.0,226.4L640.0,226.4L640.1,226.4L640.2,226.4L640.3,226.4L640.4,226.4L640.5,226.4L640.5,226.4L640.6,226.4L640.7,226.4L640.8,226.4L640.9,226.4L640.9,226.4L641.0,226.4L641.1,226.4L641.2,226.4L641.3,226.4L641.3,226.4L641.4,226.4L641.5,226.4L641.6,226.4L641.7,226.4L641.8,226.4L641.8,226.4L641.9,226.4L642.0,226.4L642.1,226.4L642.2,226.4L642.2,226.4L642.3,226.4L642.4,226.4L642.5,226.4L642.6,226.4L642.7,226.4L642.7,226.4L642.8,226.4L642.9,226.4L643.0,226.4L643.1,226.4L643.1,226.4L643.2,226.4L643.3,226.4L643.4,226.4L643.5,226.4L643.5,226.4L643.6,226.4L643.7,226.4L643.8,226.4L643.9,226.4L644.0,226.4L644.0,226.4L644.1,226.4L644.2,226.4L644.3,226.4L644.4,226.4L644.4,226.4L644.5,226.4L644.6,226.4L644.7,226.4L644.8,226.4L644.9,226.4L644.9,226.4L645.0,226.4L645.1,226.4L645.2,226.4L645.3,226.4L645.3,226.4L645.4,226.4L645.5,226.4L645.6,226.4L645.7,226.4L645.8,226.4L645.8,226.4L645.9,226.4L646.0,226.4L646.1,226.4L646.2,226.4L646.2,226.4L646.3,226.4L646.4,226.4L646.5,226.4L646.6,226.4L646.6,226.4L646.7,226.4L646.8,226.4L646.9,226.4L647.0,226.4L647.1,226.4L647.1,226.4L647.2,226.4L647.3,226.4L647.4,226.4L647.5,226.4L647.5,226.4L647.6,226.4L647.7,226.4L647.8,226.4L647.9,226.4L648.0,226.4L648.0,226.4L648.1,226.4L648.2,226.4L648.3,226.4L648.4,226.4L648.4,226.4L648.5,226.4L648.6,226.4L648.7,226.4L648.8,226.4L648.9,226.4L648.9,226.4L649.0,226.4L649.1,226.4L649.2,226.4L649.3,226.4L649.3,226.4L649.4,226.4L649.5,226.4L649.6,226.4L649.7,226.4L649.7,226.4L649.8,226.4L649.9,226.4L650.0,226.4L650.1,226.4L650.2,226.4L650.2,226.4L650.3,226.4L650.4,226.4L650.5,226.4L650.6,226.4L650.6,226.4L650.7,226.4L650.8,226.4L650.9,226.4L651.0,226.4L651.1,226.4L651.1,226.4L651.2,226.4L651.3,226.4L651.4,226.4L651.5,226.4L651.5,226.4L651.6,226.4L651.7,226.4L651.8,226.4L651.9,226.4L652.0,226.4L652.0,226.4L652.1,226.4L652.2,226.4L652.3,226.4L652.4,226.4L652.4,226.4L652.5,226.4L652.6,226.4L652.7,226.4L652.8,226.4L652.8,226.4L652.9,226.4L653.0,226.4L653.1,226.4L653.2,226.4L653.3,226.4L653.3,226.4L653.4,226.4L653.5,226.4L653.6,226.4L653.7,226.4L653.7,226.4L653.8,226.4L653.9,226.4L654.0,226.4L654.1,226.4L654.2,226.4L654.2,226.4L654.3,226.4L654.4,226.4L654.5,226.4L654.6,226.4L654.6,226.4L654.7,226.4L654.8,226.4L654.9,226.4L655.0,226.4L655.1,226.4L655.1,226.4L655.2,226.4L655.3,226.4L655.4,226.4L655.5,226.4L655.5,226.4L655.6,226.4L655.7,226.4L655.8,226.4L655.9,226.4L655.9,226.4L656.0,226.4L656.1,226.4L656.2,226.4L656.3,226.4L656.4,226.4L656.4,226.4L656.5,226.4L656.6,226.4L656.7,226.4L656.8,226.4L656.8,226.4L656.9,226.4L657.0,226.4L657.1,226.4L657.2,226.4L657.3,226.4L657.3,226.4L657.4,226.4L657.5,226.4L657.6,226.4L657.7,226.4L657.7,226.4L657.8,226.4L657.9,226.4L658.0,226.4L658.1,226.4L658.1,226.4L658.2,226.4L658.3,226.4L658.4,226.4L658.5,226.4L658.6,226.4L658.6,226.4L658.7,226.4L658.8,226.4L658.9,226.4L659.0,226.4L659.0,226.4L659.1,226.4L659.2,226.4L659.3,226.4L659.4,226.4L659.5,226.4L659.5,226.4L659.6,226.4L659.7,226.4L659.8,226.4L659.9,226.4L659.9,226.4L660.0,226.4L660.1,226.4L660.2,226.4L660.3,226.4L660.4,226.4L660.4,226.4L660.5,226.4L660.6,226.4L660.7,226.4L660.8,226.4L660.8,226.4L660.9,226.4L661.0,226.4L661.1,226.4L661.2,226.4L661.2,226.4L661.3,226.4L661.4,226.4L661.5,226.4L661.6,226.4L661.7,226.4L661.7,226.4L661.8,226.4L661.9,226.4L662.0,226.4L662.1,226.4L662.1,226.4L662.2,226.4L662.3,226.4L662.4,226.4L662.5,226.4L662.6,226.4L662.6,226.4L662.7,226.4L662.8,226.4L662.9,226.4L663.0,226.4L663.0,226.4L663.1,226.4L663.2,226.4L663.3,226.4L663.4,226.4L663.5,226.4L663.5,226.4L663.6,226.4L663.7,226.4L663.8,226.4L663.9,226.4L663.9,226.4L664.0,226.4L664.1,226.4L664.2,226.4L664.3,226.4L664.3,226.4L664.4,226.4L664.5,226.4L664.6,226.4L664.7,226.4L664.8,226.4L664.8,226.4L664.9,226.4L665.0,226.4L665.1,226.4L665.2,226.4L665.2,226.4L665.3,226.4L665.4,226.4L665.5,226.4L665.6,226.4L665.7,226.4L665.7,226.4L665.8,226.4L665.9,226.4L666.0,226.4L666.1,226.4L666.1,226.4L666.2,226.4L666.3,226.4L666.4,226.4L666.5,226.4L666.6,226.4L666.6,226.4L666.7,226.4L666.8,226.4L666.9,226.4L667.0,226.4L667.0,226.4L667.1,226.4L667.2,226.4L667.3,226.4L667.4,226.4L667.4,226.4L667.5,226.4L667.6,226.4L667.7,226.4L667.8,226.4L667.9,226.4L667.9,226.4L668.0,226.4L668.1,226.4L668.2,226.4L668.3,226.4L668.3,226.4L668.4,226.4L668.5,226.4L668.6,226.4L668.7,226.4L668.8,226.4L668.8,226.4L668.9,226.4L669.0,226.4L669.1,226.4L669.2,226.4L669.2,226.4L669.3,226.4L669.4,226.4L669.5,226.4L669.6,226.4L669.6,226.4" stroke="#cccccc" stroke-width="0.8" fill="none" stroke-linejoin="round" />
<path d="M669.6,226.4L669.7,226.4L669.8,226.4L669.9,226.4L670.0,226.4L670.1,226.4L670.1,226.4L670.2,226.4L670.3,226.4L670.4,226.4L670.5,226.4L670.5,226.4L670.6,226.4L670.7,226.4L670.8,226.4L670.9,226.4L670.9,226.4L671.0,226.4L671.1,226.4L671.2,226.4L671.3,226.4L671.4,226.4L671.4,226.4L671.5,226.4L671.6,226.4L671.7,226.4L671.8,226.4L671.8,226.4L671.9,226.4L672.0,226.4L672.1,226.4L672.2,226.4L672.2,226.4L672.3,226.4L672.4,226.4L672.5,226.4L672.6,226.4L672.7,226.4L672.7,226.4L672.8,226.4L672.9,226.4L673.0,226.4L673.1,226.4L673.1,226.4L673.2,226.4L673.3,226.4L673.4,226.4L673.5,226.4L673.5,226.4L673.6,226.4L673.7,226.4L673.8,226.4L673.9,226.4L674.0,226.4L674.0,226.4L674.1,226.4L674.2,226.4L674.3,226.4L674.4,226.4L674.4,226.4L674.5,226.4L674.6,226.4L674.7,226.4L674.8,226.4L674.8,226.4L674.9,226.4L675.0,226.4L675.1,226.4L675.2,226.4L675.3,226.4L675.3,226.4L675.4,226.4L675.5,226.4L675.6,226.4L675.7,226.4L675.7,226.4L675.8,226.4L675.9,226.4L676.0,226.4L676.1,226.4L676.1,226.4L676.2,226.4L676.3,226.4L676.4,226.4L676.5,226.4L676.5,226.4L676.6,226.4L676.7,226.4L676.8,226.4L676.9,226.4L677.0,226.4L677.0,226.4L677.1,226.4L677.2,226.4L677.3,226.4L677.4,226.4L677.4,226.4L677.5,226.4L677.6,226.4L677.7,226.4L677.8,226.4L677.8,226.4L677.9,226.4L678.0,226.4L678.1,226.4L678.2,226.4L678.3,226.4L678.3,226.4L678.4,226.4L678.5,226.4L678.6,226.4L678.7,226.4L678.7,226.4L678.8,226.4L678.9,226.4L679.0,226.4L679.1,226.4L679.1,226.4L679.2,226.4L679.3,226.4L679.4,226.4L679.5,226.4L679.6,226.4L679.6,226.4L679.7,226.4L679.8,226.4L679.9,226.4L680.0,226.4L680.0,226.4L680.1,226.4L680.2,226.4L680.3,226.4L680.4,226.4L680.4,226.4L680.5,226.4L680.6,226.4L680.7,226.4L680.8,226.4L680.9,226.4L680.9,226.4L681.0,226.4L681.1,226.4L681.2,226.4L681.3,226.4L681.3,226.4L681.4,226.4L681.5,226.4L681.6,226.4L681.7,226.4L681.7,226.4L681.8,226.4L681.9,226.4L682.0,226.4L682.1,226.4L682.1,226.4L682.2,226.4L682.3,226.4L682.4,226.4L682.5,226.4L682.6,226.4L682.6,226.4L682.7,226.4L682.8,226.4L682.9,226.4L683.0,226.4L683.0,226.4L683.1,226.4L683.2,226.4L683.3,226.4L683.4,226.4L683.4,226.4L683.5,226.4L683.6,226.4L683.7,226.4L683.8,226.4L683.9,226.4L683.9,226.4L684.0,226.4L684.1,226.4L684.2,226.4L684.3,226.4L684.3,226.4L684.4,226.4L684.5,226.4L684.6,226.4L684.7,226.4L684.7,226.4L684.8,226.4L684.9,226.4L685.0,226.4L685.1,226.4L685.2,226.4L685.2,226.4L685.3,226.4L685.4,226.4L685.5,226.4L685.6,226.4L685.6,226.4L685.7,226.4L685.8,226.4L685.9,226.4L686.0,226.4L686.0,226.4L686.1,226.4L686.2,226.4L686.3,226.4L686.4,226.4L686.5,226.4L686.5,226.4L686.6,226.4L686.7,226.4L686.8,226.4L686.9,226.4L686.9,226.4L687.0,226.4L687.1,226.4L687.2,226.4L687.3,226.4L687.3,226.4L687.4,226.4L687.5,226.4L687.6,226.4L687.7,226.4L687.7,226.4L687.8,226.4L687.9,226.4L688.0,226.4L688.1,226.4L688.2,226.4L688.2,226.4L688.3,226.4L688.4,226.4L688.5,226.4L688.6,226.4L688.6,226.4L688.7,226.4L688.8,226.4L688.9,226.4L689.0,226.4L689.0,226.4L689.1,226.4L689.2,226.4L689.3,226.4L689.4,226.4L689.5,226.4L689.5,226.4L689.6,226.4L689.7,226.4L689.8,226.4L689.9,226.4L689.9,226.4L690.0,226.4L690.1,226.4L690.2,226.4L690.3,226.4L690.3,226.4L690.4,226.4L690.5,226.4L690.6,226.4L690.7,226.4L690.8,226.4L690.8,226.4L690.9,226.4L691.0,226.4L691.1,226.4L691.2,226.4L691.2,226.4L691.3,226.4L691.4,226.4L691.5,226.4L691.6,226.4L691.6,226.4L691.7,226.4L691.8,226.4L691.9,226.4L692.0,226.4L692.1,226.4L692.1,226.4L692.2,226.4L692.3,226.4L692.4,226.4L692.5,226.4L692.5,226.4L692.6,226.4L692.7,226.4L692.8,226.4L692.9,226.4L692.9,226.4L693.0,226.4L693.1,226.4L693.2,226.4L693.3,226.4L693.3,226.4L693.4,226.4L693.5,226.4L693.6,226.4L693.7,226.4L693.8,226.4L693.8,226.4L693.9,226.4L694.0,226.4L694.1,226.4L694.2,226.4L694.2,226.4L694.3,226.4L694.4,226.4L694.5,226.4L694.6,226.4L694.6,226.4L694.7,226.4L694.8,226.4L694.9,226.4L695.0,226.4L695.1,226.4L695.1,226.4L695.2,226.4L695.3,226.4L695.4,226.4L695.5,226.4L695.5,226.4L695.6,226.4L695.7,226.4L695.8,226.4L695.9,226.4L695.9,226.4L696.0,226.4L696.1,226.4L696.2,226.4L696.3,226.4L696.4,226.4L696.4,226.4L696.5,226.4L696.6,226.4L696.7,226.4L696.8,226.4L696.8,226.4L696.9,226.4L697.0,226.4L697.1,226.4L697.2,226.4L697.2,226.4L697.3,226.4L697.4,226.4L697.5,226.4L697.6,226.4L697.7,226.4L697.7,226.4L697.8,226.4L697.9,226.4L698.0,226.4L698.1,226.4L698.1,226.4L698.2,226.4L698.3,226.4L698.4,226.4L698.5,226.4L698.5,226.4L698.6,226.4L698.7,226.4L698.8,226.4L698.9,226.4L698.9,226.4L699.0,226.4L699.1,226.4L699.2,226.4L699.3,226.4L699.4,226.4L699.4,226.4L699.5,226.4L699.6,226.4L699.7,226.4L699.8,226.4L699.8,226.4L699.9,226.4L700.0,226.4L700.1,226.4L700.2,226.4L700.2,226.4L700.3,226.4L700.4,226.4L700.5,226.4L700.6,226.4L700.7,226.4L700.7,226.4L700.8,226.4L700.9,226.4L701.0,226.4L701.1,226.4L701.1,226.4L701.2,226.4L701.3,226.4L701.4,226.4L701.5,226.4L701.5,226.4L701.6,226.4L701.7,226.4L701.8,226.4L701.9,226.4L702.0,226.4L702.0,226.4L702.1,226.4L702.2,226.4L702.3,226.4L702.4,226.4L702.4,226.4L702.5,226.4L702.6,226.4L702.7,226.4L702.8,226.4L702.8,226.4L702.9,226.4L703.0,226.4L703.1,226.4L703.2,226.4L703.3,226.4L703.3,226.4L703.4,226.4L703.5,226.4L703.6,226.4L703.7,226.4L703.7,226.4L703.8,226.4L703.9,226.4L704.0,226.4L704.1,226.4L704.1,226.4L704.2,226.4L704.3,226.4L704.4,226.4L704.5,226.4L704.5,226.4L704.6,226.4L704.7,226.4L704.8,226.4L704.9,226.4L705.0,226.4L705.0,226.4L705.1,226.4L705.2,226.4L705.3,226.4L705.4,226.4L705.4,226.4L705.5,226.4L705.6,226.4L705.7,226.4L705.8,226.4L705.8,226.4L705.9,226.4L706.0,226.4L706.1,226.4L706.2,226.4L706.3,226.4L706.3,226.4L706.4,226.4L706.5,226.4L706.6,226.4L706.7,226.4L706.7,226.4L706.8,226.4L706.9,226.4L707.0,226.4L707.1,226.4L707.1,226.4L707.2,226.4L707.3,226.4L707.4,226.4L707.5,226.4L707.6,226.4L707.6,226.4L707.7,226.4L707.8,226.4L707.9,226.4L708.0,226.4L708.0,226.4L708.1,226.4L708.2,226.4L708.3,226.4L708.4,226.4L708.4,226.4L708.5,226.4L708.6,226.4L708.7,226.4L708.8,226.4L708.9,226.4L708.9,226.4L709.0,226.4L709.1,226.4L709.2,226.4L709.3,226.4L709.3,226.4L709.4,226.4L709.5,226.4L709.6,226.4L709.7,226.4L709.7,226.4L709.8,226.4L709.9,226.4L710.0,226.4L710.1,226.4L710.1,226.4" stroke="#444" stroke-width="0.8" fill="none" stroke-linejoin="round" />
<line x1="722.25" y1="226.40" x2="730.65" y2="226.40" stroke="#000" stroke-width="1.7" />
<rect x="625.85" y="280.85" width="87.30" height="36.70" stroke="#222" stroke-width="1" fill="none" />
<rect x="715.65" y="280.85" width="22.20" height="36.70" stroke="#222" stroke-width="1" fill="none" />
<line x1="619.85" y1="316.60" x2="625.85" y2="316.60" stroke="#222" stroke-width="1" />
<text transform="translate(612.65,316.60) rotate(-90) scale(1,1.05)" font-size="9.0">0.0</text>
<line x1="619.85" y1="309.74" x2="625.85" y2="309.74" stroke="#222" stroke-width="1" />
<line x1="619.85" y1="302.88" x2="625.85" y2="302.88" stroke="#222" stroke-width="1" />
<line x1="619.85" y1="296.02" x2="625.85" y2="296.02" stroke="#222" stroke-width="1" />
<line x1="619.85" y1="289.16" x2="625.85" y2="289.16" stroke="#222" stroke-width="1" />
<text transform="translate(612.65,289.16) rotate(-90) scale(1,1.05)" font-size="9.0">0.8</text>
<line x1="619.85" y1="282.30" x2="625.85" y2="282.30" stroke="#222" stroke-width="1" />
<text transform="translate(588.45,300.80) rotate(-90) scale(1,1.05)" font-size="9.5">s<tspan font-size="6.5" dy="1.8">0</tspan></text>
<line x1="669.65" y1="280.85" x2="669.65" y2="317.55" stroke="#111" stroke-width="0.85" stroke-dasharray="1,1.2"/>
<line x1="628.75" y1="317.55" x2="628.75" y2="323.55" stroke="#222" stroke-width="1" />
<line x1="644.97" y1="317.55" x2="644.97" y2="323.55" stroke="#222" stroke-width="1" />
<line x1="661.19" y1="317.55" x2="661.19" y2="323.55" stroke="#222" stroke-width="1" />
<line x1="677.41" y1="317.55" x2="677.41" y2="323.55" stroke="#222" stroke-width="1" />
<line x1="693.63" y1="317.55" x2="693.63" y2="323.55" stroke="#222" stroke-width="1" />
<line x1="709.85" y1="317.55" x2="709.85" y2="323.55" stroke="#222" stroke-width="1" />
<text transform="translate(628.75,337.60) scale(1,1.09)" font-size="9.0">0e+00</text>
<text transform="translate(677.41,337.60) scale(1,1.09)" font-size="9.0">6e+04</text>
<text transform="translate(669.55,359.60) scale(1,1.09)" font-size="9.0">Sample Index</text>
<path d="M629.0,299.2L629.0,299.2L629.1,299.2L629.2,299.2L629.3,299.2L629.4,299.2L629.4,299.2L629.5,299.2L629.6,299.2L629.7,299.2L629.8,299.2L629.8,299.2L629.9,299.2L630.0,299.2L630.1,299.2L630.2,299.2L630.3,299.2L630.3,299.2L630.4,299.2L630.5,299.2L630.6,299.2L630.7,299.2L630.7,299.2L630.8,299.2L630.9,299.2L631.0,299.2L631.1,299.2L631.2,299.2L631.2,299.2L631.3,299.2L631.4,299.2L631.5,299.2L631.6,299.2L631.6,299.2L631.7,299.2L631.8,299.2L631.9,299.2L632.0,299.2L632.0,299.2L632.1,299.2L632.2,299.2L632.3,299.2L632.4,299.2L632.5,299.2L632.5,299.2L632.6,299.2L632.7,299.2L632.8,299.2L632.9,299.2L632.9,299.2L633.0,299.2L633.1,299.2L633.2,299.2L633.3,299.2L633.4,299.2L633.4,299.2L633.5,299.2L633.6,299.2L633.7,299.2L633.8,299.2L633.8,299.2L633.9,299.2L634.0,299.2L634.1,299.2L634.2,299.2L634.3,299.2L634.3,299.2L634.4,299.2L634.5,299.2L634.6,299.2L634.7,299.2L634.7,299.2L634.8,299.2L634.9,299.2L635.0,299.2L635.1,299.2L635.1,299.2L635.2,299.2L635.3,299.2L635.4,299.2L635.5,299.2L635.6,299.2L635.6,299.2L635.7,299.2L635.8,299.2L635.9,299.2L636.0,299.2L636.0,299.2L636.1,299.2L636.2,299.2L636.3,299.2L636.4,299.2L636.5,299.2L636.5,299.2L636.6,299.2L636.7,299.2L636.8,299.2L636.9,299.2L636.9,299.2L637.0,299.2L637.1,299.2L637.2,299.2L637.3,299.2L637.4,299.2L637.4,299.2L637.5,299.2L637.6,299.2L637.7,299.2L637.8,299.2L637.8,299.2L637.9,299.2L638.0,299.2L638.1,299.2L638.2,299.2L638.2,299.2L638.3,299.2L638.4,299.2L638.5,299.2L638.6,299.2L638.7,299.2L638.7,299.2L638.8,299.2L638.9,299.2L639.0,299.2L639.1,299.2L639.1,299.2L639.2,299.2L639.3,299.2L639.4,299.2L639.5,299.2L639.6,299.2L639.6,299.2L639.7,299.2L639.8,299.2L639.9,299.2L640.0,299.2L640.0,299.2L640.1,299.2L640.2,299.2L640.3,299.2L640.4,299.2L640.5,299.2L640.5,299.2L640.6,299.2L640.7,299.2L640.8,299.2L640.9,299.2L640.9,299.2L641.0,299.2L641.1,299.2L641.2,299.2L641.3,299.2L641.3,299.2L641.4,299.2L641.5,299.2L641.6,299.2L641.7,299.2L641.8,299.2L641.8,299.2L641.9,299.2L642.0,299.2L642.1,299.2L642.2,299.2L642.2,299.2L642.3,299.2L642.4,299.2L642.5,299.2L642.6,299.2L642.7,299.2L642.7,299.2L642.8,299.2L642.9,299.2L643.0,299.2L643.1,299.2L643.1,299.2L643.2,299.2L643.3,299.2L643.4,299.2L643.5,299.2L643.5,299.2L643.6,299.2L643.7,299.2L643.8,299.2L643.9,299.2L644.0,299.2L644.0,299.2L644.1,299.2L644.2,299.2L644.3,299.2L644.4,299.2L644.4,299.2L644.5,299.2L644.6,299.2L644.7,299.2L644.8,299.2L644.9,299.2L644.9,299.2L645.0,299.2L645.1,299.2L645.2,299.2L645.3,299.2L645.3,299.2L645.4,299.2L645.5,299.2L645.6,299.2L645.7,299.2L645.8,299.2L645.8,299.2L645.9,299.2L646.0,299.2L646.1,299.2L646.2,299.2L646.2,299.2L646.3,299.2L646.4,299.2L646.5,299.2L646.6,299.2L646.6,299.2L646.7,299.2L646.8,299.2L646.9,299.2L647.0,299.2L647.1,299.2L647.1,299.2L647.2,299.2L647.3,299.2L647.4,299.2L647.5,299.2L647.5,299.2L647.6,299.2L647.7,299.2L647.8,299.2L647.9,299.2L648.0,299.2L648.0,299.2L648.1,299.2L648.2,299.2L648.3,299.2L648.4,299.2L648.4,299.2L648.5,299.2L648.6,299.2L648.7,299.2L648.8,299.2L648.9,299.2L648.9,299.2L649.0,299.2L649.1,299.2L649.2,299.2L649.3,299.2L649.3,299.2L649.4,299.2L649.5,299.2L649.6,299.2L649.7,299.2L649.7,299.2L649.8,299.2L649.9,299.2L650.0,299.2L650.1,299.2L650.2,299.2L650.2,299.2L650.3,299.2L650.4,299.2L650.5,299.2L650.6,299.2L650.6,299.2L650.7,299.2L650.8,299.2L650.9,299.2L651.0,299.2L651.1,299.2L651.1,299.2L651.2,299.2L651.3,299.2L651.4,299.2L651.5,299.2L651.5,299.2L651.6,299.2L651.7,299.2L651.8,299.2L651.9,299.2L652.0,299.2L652.0,299.2L652.1,299.2L652.2,299.2L652.3,299.2L652.4,299.2L652.4,299.2L652.5,299.2L652.6,299.2L652.7,299.2L652.8,299.2L652.8,299.2L652.9,299.2L653.0,299.2L653.1,299.2L653.2,299.2L653.3,299.2L653.3,299.2L653.4,299.2L653.5,299.2L653.6,299.2L653.7,299.2L653.7,299.2L653.8,299.2L653.9,299.2L654.0,299.2L654.1,299.2L654.2,299.2L654.2,299.2L654.3,299.2L654.4,299.2L654.5,299.2L654.6,299.2L654.6,299.2L654.7,299.2L654.8,299.2L654.9,299.2L655.0,299.2L655.1,299.2L655.1,299.2L655.2,299.2L655.3,299.2L655.4,299.2L655.5,299.2L655.5,299.2L655.6,299.2L655.7,299.2L655.8,299.2L655.9,299.2L655.9,299.2L656.0,299.2L656.1,299.2L656.2,299.2L656.3,299.2L656.4,299.2L656.4,299.2L656.5,299.2L656.6,299.2L656.7,299.2L656.8,299.2L656.8,299.2L656.9,299.2L657.0,299.2L657.1,299.2L657.2,299.2L657.3,299.2L657.3,299.2L657.4,299.2L657.5,299.2L657.6,299.2L657.7,299.2L657.7,299.2L657.8,299.2L657.9,299.2L658.0,299.2L658.1,299.2L658.1,299.2L658.2,299.2L658.3,299.2L658.4,299.2L658.5,299.2L658.6,299.2L658.6,299.2L658.7,299.2L658.8,299.2L658.9,299.2L659.0,299.2L659.0,299.2L659.1,299.2L659.2,299.2L659.3,299.2L659.4,299.2L659.5,299.2L659.5,299.2L659.6,299.2L659.7,299.2L659.8,299.2L659.9,299.2L659.9,299.2L660.0,299.2L660.1,299.2L660.2,299.2L660.3,299.2L660.4,299.2L660.4,299.2L660.5,299.2L660.6,299.2L660.7,299.2L660.8,299.2L660.8,299.2L660.9,299.2L661.0,299.2L661.1,299.2L661.2,299.2L661.2,299.2L661.3,299.2L661.4,299.2L661.5,299.2L661.6,299.2L661.7,299.2L661.7,299.2L661.8,299.2L661.9,299.2L662.0,299.2L662.1,299.2L662.1,299.2L662.2,299.2L662.3,299.2L662.4,299.2L662.5,299.2L662.6,299.2L662.6,299.2L662.7,299.2L662.8,299.2L662.9,299.2L663.0,299.2L663.0,299.2L663.1,299.2L663.2,299.2L663.3,299.2L663.4,299.2L663.5,299.2L663.5,299.2L663.6,299.2L663.7,299.2L663.8,299.2L663.9,299.2L663.9,299.2L664.0,299.2L664.1,299.2L664.2,299.2L664.3,299.2L664.3,299.2L664.4,299.2L664.5,299.2L664.6,299.2L664.7,299.2L664.8,299.2L664.8,299.2L664.9,299.2L665.0,299.2L665.1,299.2L665.2,299.2L665.2,299.2L665.3,299.2L665.4,299.2L665.5,299.2L665.6,299.2L665.7,299.2L665.7,299.2L665.8,299.2L665.9,299.2L666.0,299.2L666.1,299.2L666.1,299.2L666.2,299.2L666.3,299.2L666.4,299.2L666.5,299.2L666.6,299.2L666.6,299.2L666.7,299.2L666.8,299.2L666.9,299.2L667.0,299.2L667.0,299.2L667.1,299.2L667.2,299.2L667.3,299.2L667.4,299.2L667.4,299.2L667.5,299.2L667.6,299.2L667.7,299.2L667.8,299.2L667.9,299.2L667.9,299.2L668.0,299.2L668.1,299.2L668.2,299.2L668.3,299.2L668.3,299.2L668.4,299.2L668.5,299.2L668.6,299.2L668.7,299.2L668.8,299.2L668.8,299.2L668.9,299.2L669.0,299.2L669.1,299.2L669.2,299.2L669.2,299.2L669.3,299.2L669.4,299.2L669.5,299.2L669.6,299.2L669.6,299.2" stroke="#cccccc" stroke-width="0.8" fill="none" stroke-linejoin="round" />
<path d="M669.6,299.2L669.7,299.2L669.8,299.2L669.9,299.2L670.0,299.2L670.1,299.2L670.1,299.2L670.2,299.2L670.3,299.2L670.4,299.2L670.5,299.2L670.5,299.2L670.6,299.2L670.7,299.2L670.8,299.2L670.9,299.2L670.9,299.2L671.0,299.2L671.1,299.2L671.2,299.2L671.3,299.2L671.4,299.2L671.4,299.2L671.5,299.2L671.6,299.2L671.7,299.2L671.8,299.2L671.8,299.2L671.9,299.2L672.0,299.2L672.1,299.2L672.2,299.2L672.2,299.2L672.3,299.2L672.4,299.2L672.5,299.2L672.6,299.2L672.7,299.2L672.7,299.2L672.8,299.2L672.9,299.2L673.0,299.2L673.1,299.2L673.1,299.2L673.2,299.2L673.3,299.2L673.4,299.2L673.5,299.2L673.5,299.2L673.6,299.2L673.7,299.2L673.8,299.2L673.9,299.2L674.0,299.2L674.0,299.2L674.1,299.2L674.2,299.2L674.3,299.2L674.4,299.2L674.4,299.2L674.5,299.2L674.6,299.2L674.7,299.2L674.8,299.2L674.8,299.2L674.9,299.2L675.0,299.2L675.1,299.2L675.2,299.2L675.3,299.2L675.3,299.2L675.4,299.2L675.5,299.2L675.6,299.2L675.7,299.2L675.7,299.2L675.8,299.2L675.9,299.2L676.0,299.2L676.1,299.2L676.1,299.2L676.2,299.2L676.3,299.2L676.4,299.2L676.5,299.2L676.5,299.2L676.6,299.2L676.7,299.2L676.8,299.2L676.9,299.2L677.0,299.2L677.0,299.2L677.1,299.2L677.2,299.2L677.3,299.2L677.4,299.2L677.4,299.2L677.5,299.2L677.6,299.2L677.7,299.2L677.8,299.2L677.8,299.2L677.9,299.2L678.0,299.2L678.1,299.2L678.2,299.2L678.3,299.2L678.3,299.2L678.4,299.2L678.5,299.2L678.6,299.2L678.7,299.2L678.7,299.2L678.8,299.2L678.9,299.2L679.0,299.2L679.1,299.2L679.1,299.2L679.2,299.2L679.3,299.2L679.4,299.2L679.5,299.2L679.6,299.2L679.6,299.2L679.7,299.2L679.8,299.2L679.9,299.2L680.0,299.2L680.0,299.2L680.1,299.2L680.2,299.2L680.3,299.2L680.4,299.2L680.4,299.2L680.5,299.2L680.6,299.2L680.7,299.2L680.8,299.2L680.9,299.2L680.9,299.2L681.0,299.2L681.1,299.2L681.2,299.2L681.3,299.2L681.3,299.2L681.4,299.2L681.5,299.2L681.6,299.2L681.7,299.2L681.7,299.2L681.8,299.2L681.9,299.2L682.0,299.2L682.1,299.2L682.1,299.2L682.2,299.2L682.3,299.2L682.4,299.2L682.5,299.2L682.6,299.2L682.6,299.2L682.7,299.2L682.8,299.2L682.9,299.2L683.0,299.2L683.0,299.2L683.1,299.2L683.2,299.2L683.3,299.2L683.4,299.2L683.4,299.2L683.5,299.2L683.6,299.2L683.7,299.2L683.8,299.2L683.9,299.2L683.9,299.2L684.0,299.2L684.1,299.2L684.2,299.2L684.3,299.2L684.3,299.2L684.4,299.2L684.5,299.2L684.6,299.2L684.7,299.2L684.7,299.2L684.8,299.2L684.9,299.2L685.0,299.2L685.1,299.2L685.2,299.2L685.2,299.2L685.3,299.2L685.4,299.2L685.5,299.2L685.6,299.2L685.6,299.2L685.7,299.2L685.8,299.2L685.9,299.2L686.0,299.2L686.0,299.2L686.1,299.2L686.2,299.2L686.3,299.2L686.4,299.2L686.5,299.2L686.5,299.2L686.6,299.2L686.7,299.2L686.8,299.2L686.9,299.2L686.9,299.2L687.0,299.2L687.1,299.2L687.2,299.2L687.3,299.2L687.3,299.2L687.4,299.2L687.5,299.2L687.6,299.2L687.7,299.2L687.7,299.2L687.8,299.2L687.9,299.2L688.0,299.2L688.1,299.2L688.2,299.2L688.2,299.2L688.3,299.2L688.4,299.2L688.5,299.2L688.6,299.2L688.6,299.2L688.7,299.2L688.8,299.2L688.9,299.2L689.0,299.2L689.0,299.2L689.1,299.2L689.2,299.2L689.3,299.2L689.4,299.2L689.5,299.2L689.5,299.2L689.6,299.2L689.7,299.2L689.8,299.2L689.9,299.2L689.9,299.2L690.0,299.2L690.1,299.2L690.2,299.2L690.3,299.2L690.3,299.2L690.4,299.2L690.5,299.2L690.6,299.2L690.7,299.2L690.8,299.2L690.8,299.2L690.9,299.2L691.0,299.2L691.1,299.2L691.2,299.2L691.2,299.2L691.3,299.2L691.4,299.2L691.5,299.2L691.6,299.2L691.6,299.2L691.7,299.2L691.8,299.2L691.9,299.2L692.0,299.2L692.1,299.2L692.1,299.2L692.2,299.2L692.3,299.2L692.4,299.2L692.5,299.2L692.5,299.2L692.6,299.2L692.7,299.2L692.8,299.2L692.9,299.2L692.9,299.2L693.0,299.2L693.1,299.2L693.2,299.2L693.3,299.2L693.3,299.2L693.4,299.2L693.5,299.2L693.6,299.2L693.7,299.2L693.8,299.2L693.8,299.2L693.9,299.2L694.0,299.2L694.1,299.2L694.2,299.2L694.2,299.2L694.3,299.2L694.4,299.2L694.5,299.2L694.6,299.2L694.6,299.2L694.7,299.2L694.8,299.2L694.9,299.2L695.0,299.2L695.1,299.2L695.1,299.2L695.2,299.2L695.3,299.2L695.4,299.2L695.5,299.2L695.5,299.2L695.6,299.2L695.7,299.2L695.8,299.2L695.9,299.2L695.9,299.2L696.0,299.2L696.1,299.2L696.2,299.2L696.3,299.2L696.4,299.2L696.4,299.2L696.5,299.2L696.6,299.2L696.7,299.2L696.8,299.2L696.8,299.2L696.9,299.2L697.0,299.2L697.1,299.2L697.2,299.2L697.2,299.2L697.3,299.2L697.4,299.2L697.5,299.2L697.6,299.2L697.7,299.2L697.7,299.2L697.8,299.2L697.9,299.2L698.0,299.2L698.1,299.2L698.1,299.2L698.2,299.2L698.3,299.2L698.4,299.2L698.5,299.2L698.5,299.2L698.6,299.2L698.7,299.2L698.8,299.2L698.9,299.2L698.9,299.2L699.0,299.2L699.1,299.2L699.2,299.2L699.3,299.2L699.4,299.2L699.4,299.2L699.5,299.2L699.6,299.2L699.7,299.2L699.8,299.2L699.8,299.2L699.9,299.2L700.0,299.2L700.1,299.2L700.2,299.2L700.2,299.2L700.3,299.2L700.4,299.2L700.5,299.2L700.6,299.2L700.7,299.2L700.7,299.2L700.8,299.2L700.9,299.2L701.0,299.2L701.1,299.2L701.1,299.2L701.2,299.2L701.3,299.2L701.4,299.2L701.5,299.2L701.5,299.2L701.6,299.2L701.7,299.2L701.8,299.2L701.9,299.2L702.0,299.2L702.0,299.2L702.1,299.2L702.2,299.2L702.3,299.2L702.4,299.2L702.4,299.2L702.5,299.2L702.6,299.2L702.7,299.2L702.8,299.2L702.8,299.2L702.9,299.2L703.0,299.2L703.1,299.2L703.2,299.2L703.3,299.2L703.3,299.2L703.4,299.2L703.5,299.2L703.6,299.2L703.7,299.2L703.7,299.2L703.8,299.2L703.9,299.2L704.0,299.2L704.1,299.2L704.1,299.2L704.2,299.2L704.3,299.2L704.4,299.2L704.5,299.2L704.5,299.2L704.6,299.2L704.7,299.2L704.8,299.2L704.9,299.2L705.0,299.2L705.0,299.2L705.1,299.2L705.2,299.2L705.3,299.2L705.4,299.2L705.4,299.2L705.5,299.2L705.6,299.2L705.7,299.2L705.8,299.2L705.8,299.2L705.9,299.2L706.0,299.2L706.1,299.2L706.2,299.2L706.3,299.2L706.3,299.2L706.4,299.2L706.5,299.2L706.6,299.2L706.7,299.2L706.7,299.2L706.8,299.2L706.9,299.2L707.0,299.2L707.1,299.2L707.1,299.2L707.2,299.2L707.3,299.2L707.4,299.2L707.5,299.2L707.6,299.2L707.6,299.2L707.7,299.2L707.8,299.2L707.9,299.2L708.0,299.2L708.0,299.2L708.1,299.2L708.2,299.2L708.3,299.2L708.4,299.2L708.4,299.2L708.5,299.2L708.6,299.2L708.7,299.2L708.8,299.2L708.9,299.2L708.9,299.2L709.0,299.2L709.1,299.2L709.2,299.2L709.3,299.2L709.3,299.2L709.4,299.2L709.5,299.2L709.6,299.2L709.7,299.2L709.7,299.2L709.8,299.2L709.9,299.2L710.0,299.2L710.1,299.2L710.1,299.2" stroke="#444" stroke-width="0.8" fill="none" stroke-linejoin="round" />
<line x1="722.25" y1="299.20" x2="730.65" y2="299.20" stroke="#000" stroke-width="1.7" />
<text transform="translate(183.40,10.80) scale(1,1.0)" font-size="13.9" font-weight="bold">Samples [with error model]</text>
<text transform="translate(574.70,10.80) scale(1,1.0)" font-size="13.9" font-weight="bold">Samples [without error model]</text>
<rect x="110.80" y="422.40" width="17.90" height="252.00" fill="#f8f82c" stroke="#7a7a86" stroke-width="0.9"/>
<path d="M61.6,462.8L109.4,462.8" stroke="#0000ff" stroke-width="1.3" fill="none" stroke-linejoin="round" stroke-dasharray="1.2,1.4"/>
<path d="M61.6,451.7L62.5,452.6L63.3,453.5L64.2,454.3L65.0,455.1L65.9,455.6L66.7,456.2L67.6,456.8L68.4,457.6L69.3,458.2L70.2,458.8L71.0,459.5L71.9,460.1L72.7,460.7L73.6,461.2L74.4,461.7L75.3,462.3L76.1,462.7L77.0,463.1L77.8,463.5L78.7,463.8L79.5,464.1L80.4,464.4L81.3,464.7L82.1,465.0L83.0,465.2L83.8,465.4L84.7,465.6L85.5,465.8L86.4,465.9L87.2,466.1L88.1,466.2L88.9,466.3L89.8,466.3L90.6,466.3L91.5,466.4L92.3,466.4L93.2,466.4L94.1,466.5L94.9,466.6L95.8,466.7L96.6,466.8L97.5,466.9L98.3,466.9L99.2,466.9L100.0,466.9L100.9,467.0L101.7,467.0L102.6,467.0L103.4,467.0L104.3,467.0L105.2,467.1L106.0,467.2L106.9,467.2L107.7,467.3L108.6,467.4L109.4,467.4" stroke="#e00000" stroke-width="1.3" fill="none" stroke-linejoin="round" />
<path d="M129.9,522.3L130.8,518.3L131.6,514.2L132.5,510.1L133.3,506.1L134.2,503.9L135.0,501.7L135.9,499.5L136.7,497.4L137.6,495.9L138.5,494.4L139.3,492.9L140.2,491.4L141.0,490.4L141.9,489.5L142.7,488.5L143.6,487.5L144.4,486.6L145.3,485.7L146.1,484.8L147.0,483.9L147.8,483.2L148.7,482.5L149.6,481.8L150.4,481.1L151.3,480.6L152.1,480.1L153.0,479.5L153.8,479.0L154.7,478.6L155.5,478.2L156.4,477.8L157.2,477.4L158.1,477.0L158.9,476.6L159.8,476.2L160.7,475.8L161.5,475.6L162.4,475.3L163.2,475.0L164.1,474.8L164.9,474.6L165.8,474.4L166.6,474.2L167.5,474.0L168.3,473.8L169.2,473.6L170.0,473.4L170.9,473.2L171.7,473.1L172.6,473.0L173.5,472.9L174.3,472.9L175.2,472.8L176.0,472.7L176.9,472.6L177.7,472.5L178.6,472.4L179.4,472.4L180.3,472.3L181.1,472.2L182.0,472.2L182.8,472.1L183.7,472.1L184.6,472.1L185.4,472.0L186.3,472.0L187.1,472.0L188.0,471.9L188.8,471.9L189.7,471.9L190.5,471.8L191.4,471.8L192.2,471.7L193.1,471.7L193.9,471.7L194.8,471.6L195.7,471.6L196.5,471.6L197.4,471.6L198.2,471.6L199.1,471.6L199.9,471.6L200.8,471.6L201.6,471.6L202.5,471.6L203.3,471.6L204.2,471.6L205.0,471.6L205.9,471.5L206.8,471.5L207.6,471.5L208.5,471.5L209.3,471.5L210.2,471.5L211.0,471.5L211.9,471.5L212.7,471.5L213.6,471.5L214.4,471.5L215.3,471.6L216.1,471.6L217.0,471.6L217.9,471.6L218.7,471.6L219.6,471.6L220.4,471.6L221.3,471.6L222.1,471.6L223.0,471.6L223.8,471.6L224.7,471.6L225.5,471.6L226.4,471.6L227.2,471.6L228.1,471.6L228.9,471.6L229.8,471.6L230.7,471.5L231.5,471.5L232.4,471.5L233.2,471.6L234.1,471.6L234.9,471.6L235.8,471.6L236.6,471.6L237.5,471.6L238.3,471.6L239.2,471.6L240.0,471.6L240.9,471.6L241.8,471.6L242.6,471.6L243.5,471.6L244.3,471.6L245.2,471.6L246.0,471.6L246.9,471.5L247.7,471.5L248.6,471.5L249.4,471.5L250.3,471.5L251.1,471.5L252.0,471.5L252.9,471.6L253.7,471.6L254.6,471.6L255.4,471.6L256.3,471.6L257.1,471.6L258.0,471.6L258.8,471.6L259.7,471.6L260.5,471.5L261.4,471.5L262.2,471.5L263.1,471.5L264.0,471.5L264.8,471.5L265.7,471.5L266.5,471.5L267.4,471.6L268.2,471.6L269.1,471.6L269.9,471.6L270.8,471.6L271.6,471.6L272.5,471.6L273.3,471.6L274.2,471.6L275.1,471.6L275.9,471.5L276.8,471.5L277.6,471.5L278.5,471.5L279.3,471.5L280.2,471.5L281.0,471.5L281.9,471.5L282.7,471.5L283.6,471.5L284.4,471.5L285.3,471.5L286.2,471.5L287.0,471.5L287.9,471.5L288.7,471.5L289.6,471.5L290.4,471.5L291.3,471.5L292.1,471.6L293.0,471.6L293.8,471.6L294.7,471.6L295.5,471.6L296.4,471.6L297.2,471.6L298.1,471.6L299.0,471.6L299.8,471.6L300.7,471.6L301.5,471.6L302.4,471.6L303.2,471.6L304.1,471.6L304.9,471.6L305.8,471.6L306.6,471.6L307.5,471.7L308.3,471.7L309.2,471.6L310.1,471.6L310.9,471.6L311.8,471.6L312.6,471.6L313.5,471.6L314.3,471.6L315.2,471.6L316.0,471.7L316.9,471.7L317.7,471.7L318.6,471.7L319.4,471.7L320.3,471.7L321.2,471.7L322.0,471.6L322.9,471.7L323.7,471.7L324.6,471.7L325.4,471.7L326.3,471.7L327.1,471.8L328.0,471.7L328.8,471.7L329.7,471.7L330.5,471.7L331.4,471.7" stroke="#e00000" stroke-width="1.3" fill="none" stroke-linejoin="round" />
<path d="M129.9,524.6L130.8,519.7L131.6,514.9L132.5,510.2L133.3,505.6L134.2,502.8L135.0,500.4L135.9,498.0L136.7,495.6L137.6,494.2L138.5,492.8L139.3,491.4L140.2,489.9L141.0,489.2L141.9,488.4L142.7,487.7L143.6,486.9L144.4,486.1L145.3,485.4L146.1,484.6L147.0,483.8L147.8,483.3L148.7,482.7L149.6,482.1L150.4,481.5L151.3,481.1L152.1,480.6L153.0,480.2L153.8,479.8L154.7,479.4L155.5,479.1L156.4,478.8L157.2,478.4L158.1,478.1L158.9,477.7L159.8,477.4L160.7,477.0L161.5,476.8L162.4,476.6L163.2,476.3L164.1,476.1L164.9,475.9L165.8,475.8L166.6,475.6L167.5,475.4L168.3,475.2L169.2,475.0L170.0,474.8L170.9,474.6L171.7,474.6L172.6,474.5L173.5,474.4L174.3,474.3L175.2,474.3L176.0,474.2L176.9,474.1L177.7,474.1L178.6,474.0L179.4,473.9L180.3,473.8L181.1,473.7L182.0,473.6L182.8,473.6L183.7,473.5L184.6,473.5L185.4,473.5L186.3,473.4L187.1,473.4L188.0,473.3L188.8,473.3L189.7,473.3L190.5,473.2L191.4,473.2L192.2,473.1L193.1,473.1L193.9,473.0L194.8,473.0L195.7,473.0L196.5,472.9L197.4,472.9L198.2,472.9L199.1,472.8L199.9,472.8L200.8,472.8L201.6,472.8L202.5,472.7L203.3,472.7L204.2,472.7L205.0,472.7L205.9,472.7L206.8,472.7L207.6,472.7L208.5,472.6L209.3,472.6L210.2,472.6L211.0,472.6L211.9,472.6L212.7,472.5L213.6,472.5L214.4,472.5L215.3,472.5L216.1,472.4L217.0,472.4L217.9,472.4L218.7,472.3L219.6,472.3L220.4,472.3L221.3,472.3L222.1,472.3L223.0,472.3L223.8,472.3L224.7,472.3L225.5,472.3L226.4,472.3L227.2,472.2L228.1,472.2L228.9,472.2L229.8,472.2L230.7,472.1L231.5,472.1L232.4,472.1L233.2,472.1L234.1,472.1L234.9,472.0L235.8,472.0L236.6,472.0L237.5,472.0L238.3,472.0L239.2,472.0L240.0,472.0L240.9,472.0L241.8,472.0L242.6,472.0L243.5,472.0L244.3,472.0L245.2,472.0L246.0,471.9L246.9,471.9L247.7,471.8L248.6,471.8L249.4,471.7L250.3,471.6L251.1,471.6L252.0,471.5L252.9,471.5L253.7,471.5L254.6,471.5L255.4,471.5L256.3,471.5L257.1,471.5L258.0,471.5L258.8,471.5L259.7,471.4L260.5,471.4L261.4,471.3L262.2,471.2L263.1,471.2L264.0,471.1L264.8,471.1L265.7,471.1L266.5,471.1L267.4,471.2L268.2,471.2L269.1,471.2L269.9,471.2L270.8,471.2L271.6,471.2L272.5,471.1L273.3,471.1L274.2,471.0L275.1,471.0L275.9,470.9L276.8,470.9L277.6,470.9L278.5,470.8L279.3,470.8L280.2,470.7L281.0,470.7L281.9,470.7L282.7,470.6L283.6,470.6L284.4,470.6L285.3,470.6L286.2,470.7L287.0,470.7L287.9,470.7L288.7,470.7L289.6,470.7L290.4,470.8L291.3,470.7L292.1,470.7L293.0,470.7L293.8,470.7L294.7,470.7L295.5,470.7L296.4,470.7L297.2,470.7L298.1,470.7L299.0,470.7L299.8,470.6L300.7,470.6L301.5,470.6L302.4,470.6L303.2,470.6L304.1,470.6L304.9,470.5L305.8,470.5L306.6,470.5L307.5,470.5L308.3,470.4L309.2,470.4L310.1,470.3L310.9,470.3L311.8,470.2L312.6,470.2L313.5,470.1L314.3,470.1L315.2,470.1L316.0,470.1L316.9,470.2L317.7,470.2L318.6,470.2L319.4,470.2L320.3,470.2L321.2,470.2L322.0,470.2L322.9,470.2L323.7,470.2L324.6,470.2L325.4,470.2L326.3,470.2L327.1,470.2L328.0,470.2L328.8,470.1L329.7,470.0L330.5,470.0L331.4,469.9" stroke="#1010ff" stroke-width="1.4" fill="none" stroke-linejoin="round" />
<circle cx="61.62" cy="450.30" r="2.55" fill="none" stroke="#111" stroke-width="0.85"/>
<circle cx="65.03" cy="455.21" r="2.55" fill="none" stroke="#111" stroke-width="0.85"/>
<circle cx="68.45" cy="458.74" r="2.55" fill="none" stroke="#111" stroke-width="0.85"/>
<circle cx="71.86" cy="461.20" r="2.55" fill="none" stroke="#111" stroke-width="0.85"/>
<circle cx="75.28" cy="462.92" r="2.55" fill="none" stroke="#111" stroke-width="0.85"/>
<circle cx="78.69" cy="464.14" r="2.55" fill="none" stroke="#111" stroke-width="0.85"/>
<circle cx="82.11" cy="465.00" r="2.55" fill="none" stroke="#111" stroke-width="0.85"/>
<circle cx="85.52" cy="465.60" r="2.55" fill="none" stroke="#111" stroke-width="0.85"/>
<circle cx="88.94" cy="466.03" r="2.55" fill="none" stroke="#111" stroke-width="0.85"/>
<circle cx="92.35" cy="466.33" r="2.55" fill="none" stroke="#111" stroke-width="0.85"/>
<circle cx="95.77" cy="466.54" r="2.55" fill="none" stroke="#111" stroke-width="0.85"/>
<circle cx="99.18" cy="466.68" r="2.55" fill="none" stroke="#111" stroke-width="0.85"/>
<circle cx="102.59" cy="466.79" r="2.55" fill="none" stroke="#111" stroke-width="0.85"/>
<circle cx="106.01" cy="466.86" r="2.55" fill="none" stroke="#111" stroke-width="0.85"/>
<circle cx="109.43" cy="466.91" r="2.55" fill="none" stroke="#111" stroke-width="0.85"/>
<circle cx="112.84" cy="559.62" r="2.55" fill="none" stroke="#111" stroke-width="0.85"/>
<circle cx="116.25" cy="574.35" r="2.55" fill="none" stroke="#111" stroke-width="0.85"/>
<circle cx="119.67" cy="579.03" r="2.55" fill="none" stroke="#111" stroke-width="0.85"/>
<circle cx="123.09" cy="582.30" r="2.55" fill="none" stroke="#111" stroke-width="0.85"/>
<circle cx="126.50" cy="583.94" r="2.55" fill="none" stroke="#111" stroke-width="0.85"/>
<circle cx="129.92" cy="521.98" r="2.55" fill="none" stroke="#111" stroke-width="0.85"/>
<circle cx="133.33" cy="506.20" r="2.55" fill="none" stroke="#111" stroke-width="0.85"/>
<circle cx="136.75" cy="497.60" r="2.55" fill="none" stroke="#111" stroke-width="0.85"/>
<circle cx="140.16" cy="491.59" r="2.55" fill="none" stroke="#111" stroke-width="0.85"/>
<circle cx="143.57" cy="487.61" r="2.55" fill="none" stroke="#111" stroke-width="0.85"/>
<circle cx="146.99" cy="483.87" r="2.55" fill="none" stroke="#111" stroke-width="0.85"/>
<circle cx="150.41" cy="481.07" r="2.55" fill="none" stroke="#111" stroke-width="0.85"/>
<circle cx="153.82" cy="478.96" r="2.55" fill="none" stroke="#111" stroke-width="0.85"/>
<circle cx="157.24" cy="477.32" r="2.55" fill="none" stroke="#111" stroke-width="0.85"/>
<circle cx="160.65" cy="475.69" r="2.55" fill="none" stroke="#111" stroke-width="0.85"/>
<circle cx="164.06" cy="474.59" r="2.55" fill="none" stroke="#111" stroke-width="0.85"/>
<circle cx="167.48" cy="473.79" r="2.55" fill="none" stroke="#111" stroke-width="0.85"/>
<circle cx="170.90" cy="473.00" r="2.55" fill="none" stroke="#111" stroke-width="0.85"/>
<circle cx="174.31" cy="472.69" r="2.55" fill="none" stroke="#111" stroke-width="0.85"/>
<circle cx="177.73" cy="472.38" r="2.55" fill="none" stroke="#111" stroke-width="0.85"/>
<circle cx="181.14" cy="472.06" r="2.55" fill="none" stroke="#111" stroke-width="0.85"/>
<circle cx="184.56" cy="471.95" r="2.55" fill="none" stroke="#111" stroke-width="0.85"/>
<circle cx="187.97" cy="471.83" r="2.55" fill="none" stroke="#111" stroke-width="0.85"/>
<circle cx="191.38" cy="471.71" r="2.55" fill="none" stroke="#111" stroke-width="0.85"/>
<circle cx="194.80" cy="471.60" r="2.55" fill="none" stroke="#111" stroke-width="0.85"/>
<circle cx="198.22" cy="471.60" r="2.55" fill="none" stroke="#111" stroke-width="0.85"/>
<circle cx="201.63" cy="471.60" r="2.55" fill="none" stroke="#111" stroke-width="0.85"/>
<circle cx="205.05" cy="471.60" r="2.55" fill="none" stroke="#111" stroke-width="0.85"/>
<circle cx="208.46" cy="471.60" r="2.55" fill="none" stroke="#111" stroke-width="0.85"/>
<circle cx="211.88" cy="471.60" r="2.55" fill="none" stroke="#111" stroke-width="0.85"/>
<circle cx="215.29" cy="471.60" r="2.55" fill="none" stroke="#111" stroke-width="0.85"/>
<circle cx="218.70" cy="471.60" r="2.55" fill="none" stroke="#111" stroke-width="0.85"/>
<circle cx="222.12" cy="471.60" r="2.55" fill="none" stroke="#111" stroke-width="0.85"/>
<circle cx="225.54" cy="471.60" r="2.55" fill="none" stroke="#111" stroke-width="0.85"/>
<circle cx="228.95" cy="471.60" r="2.55" fill="none" stroke="#111" stroke-width="0.85"/>
<circle cx="232.37" cy="471.60" r="2.55" fill="none" stroke="#111" stroke-width="0.85"/>
<circle cx="235.78" cy="471.60" r="2.55" fill="none" stroke="#111" stroke-width="0.85"/>
<circle cx="239.19" cy="471.60" r="2.55" fill="none" stroke="#111" stroke-width="0.85"/>
<circle cx="242.61" cy="471.60" r="2.55" fill="none" stroke="#111" stroke-width="0.85"/>
<circle cx="246.02" cy="471.60" r="2.55" fill="none" stroke="#111" stroke-width="0.85"/>
<circle cx="249.44" cy="471.60" r="2.55" fill="none" stroke="#111" stroke-width="0.85"/>
<circle cx="252.86" cy="471.60" r="2.55" fill="none" stroke="#111" stroke-width="0.85"/>
<circle cx="256.27" cy="471.60" r="2.55" fill="none" stroke="#111" stroke-width="0.85"/>
<circle cx="259.69" cy="471.60" r="2.55" fill="none" stroke="#111" stroke-width="0.85"/>
<circle cx="263.10" cy="471.60" r="2.55" fill="none" stroke="#111" stroke-width="0.85"/>
<circle cx="266.51" cy="471.60" r="2.55" fill="none" stroke="#111" stroke-width="0.85"/>
<circle cx="269.93" cy="471.60" r="2.55" fill="none" stroke="#111" stroke-width="0.85"/>
<circle cx="273.35" cy="471.60" r="2.55" fill="none" stroke="#111" stroke-width="0.85"/>
<circle cx="276.76" cy="471.60" r="2.55" fill="none" stroke="#111" stroke-width="0.85"/>
<circle cx="280.18" cy="471.60" r="2.55" fill="none" stroke="#111" stroke-width="0.85"/>
<circle cx="283.59" cy="471.60" r="2.55" fill="none" stroke="#111" stroke-width="0.85"/>
<circle cx="287.00" cy="471.60" r="2.55" fill="none" stroke="#111" stroke-width="0.85"/>
<circle cx="290.42" cy="471.60" r="2.55" fill="none" stroke="#111" stroke-width="0.85"/>
<circle cx="293.83" cy="471.60" r="2.55" fill="none" stroke="#111" stroke-width="0.85"/>
<circle cx="297.25" cy="471.60" r="2.55" fill="none" stroke="#111" stroke-width="0.85"/>
<circle cx="300.67" cy="471.60" r="2.55" fill="none" stroke="#111" stroke-width="0.85"/>
<circle cx="304.08" cy="471.60" r="2.55" fill="none" stroke="#111" stroke-width="0.85"/>
<circle cx="307.50" cy="471.60" r="2.55" fill="none" stroke="#111" stroke-width="0.85"/>
<circle cx="310.91" cy="471.60" r="2.55" fill="none" stroke="#111" stroke-width="0.85"/>
<circle cx="314.32" cy="471.60" r="2.55" fill="none" stroke="#111" stroke-width="0.85"/>
<circle cx="317.74" cy="471.60" r="2.55" fill="none" stroke="#111" stroke-width="0.85"/>
<circle cx="321.15" cy="471.60" r="2.55" fill="none" stroke="#111" stroke-width="0.85"/>
<circle cx="324.57" cy="471.60" r="2.55" fill="none" stroke="#111" stroke-width="0.85"/>
<circle cx="327.99" cy="471.60" r="2.55" fill="none" stroke="#111" stroke-width="0.85"/>
<circle cx="331.40" cy="471.60" r="2.55" fill="none" stroke="#111" stroke-width="0.85"/>
<path d="M342.00,422.40 L51.00,422.40 L51.00,674.40 L342.00,674.40" stroke="#222" stroke-width="1" fill="none"/>
<line x1="342.00" y1="422.40" x2="342.00" y2="674.40" stroke="#999" stroke-width="1.4" />
<line x1="44.00" y1="665.30" x2="51.00" y2="665.30" stroke="#222" stroke-width="1" />
<text transform="translate(35.00,665.30) rotate(-90) scale(1,1.05)" font-size="10.8">0.0</text>
<line x1="44.00" y1="618.54" x2="51.00" y2="618.54" stroke="#222" stroke-width="1" />
<text transform="translate(35.00,618.54) rotate(-90) scale(1,1.05)" font-size="10.8">0.2</text>
<line x1="44.00" y1="571.78" x2="51.00" y2="571.78" stroke="#222" stroke-width="1" />
<text transform="translate(35.00,571.78) rotate(-90) scale(1,1.05)" font-size="10.8">0.4</text>
<line x1="44.00" y1="525.02" x2="51.00" y2="525.02" stroke="#222" stroke-width="1" />
<text transform="translate(35.00,525.02) rotate(-90) scale(1,1.05)" font-size="10.8">0.6</text>
<line x1="44.00" y1="478.26" x2="51.00" y2="478.26" stroke="#222" stroke-width="1" />
<text transform="translate(35.00,478.26) rotate(-90) scale(1,1.05)" font-size="10.8">0.8</text>
<line x1="44.00" y1="431.50" x2="51.00" y2="431.50" stroke="#222" stroke-width="1" />
<text transform="translate(35.00,431.50) rotate(-90) scale(1,1.05)" font-size="10.8">1.0</text>
<line x1="58.20" y1="674.40" x2="58.20" y2="681.20" stroke="#222" stroke-width="1" />
<text transform="translate(58.20,698.20) scale(1,1.09)" font-size="10.8">0</text>
<line x1="126.50" y1="674.40" x2="126.50" y2="681.20" stroke="#222" stroke-width="1" />
<text transform="translate(126.50,698.20) scale(1,1.09)" font-size="10.8">20</text>
<line x1="194.80" y1="674.40" x2="194.80" y2="681.20" stroke="#222" stroke-width="1" />
<text transform="translate(194.80,698.20) scale(1,1.09)" font-size="10.8">40</text>
<line x1="263.10" y1="674.40" x2="263.10" y2="681.20" stroke="#222" stroke-width="1" />
<text transform="translate(263.10,698.20) scale(1,1.09)" font-size="10.8">60</text>
<line x1="331.40" y1="674.40" x2="331.40" y2="681.20" stroke="#222" stroke-width="1" />
<text transform="translate(331.40,698.20) scale(1,1.09)" font-size="10.8">80</text>
<text transform="translate(9.50,548.30) rotate(-90) scale(1,1.05)" font-size="10.8">Fluorescence</text>
<text transform="translate(196.40,723.90) scale(1,1.09)" font-size="10.8">Time Index</text>
<text transform="translate(196.90,399.80) scale(1,1.0)" font-size="12.86" font-weight="bold">Model Fit</text>
<text transform="translate(120.00,419.60) scale(1,1.09)" font-size="12.3">Bleaching</text>
<text transform="translate(231.00,419.50) scale(1,1.09)" font-size="12.3">Post-Bleaching</text>
<path d="M342.00,622.4 L151.8,622.4 L151.8,674.40" stroke="#222" stroke-width="1" fill="none"/>
<circle cx="164.8" cy="635.4" r="2.55" fill="none" stroke="#111" stroke-width="0.85"/>
<line x1="154.60" y1="648.60" x2="174.90" y2="648.60" stroke="#dd2020" stroke-width="0.9" />
<line x1="154.60" y1="661.40" x2="174.90" y2="661.40" stroke="#0000ff" stroke-width="1.1" stroke-dasharray="1.2,1.4"/>
<text transform="translate(184.40,639.60) scale(1,1.09)" font-size="10.9" style="text-anchor:start">Mean Fluorescence at ROI</text>
<text transform="translate(184.40,652.40) scale(1,1.09)" font-size="10.9" style="text-anchor:start">Fitted Curves : with error model</text>
<text transform="translate(184.40,665.10) scale(1,1.09)" font-size="10.9" style="text-anchor:start">Fitted Curves : w/o error model</text>
<rect x="502.6" y="422.40" width="17.00" height="252.00" fill="#f8f82c" stroke="#222" stroke-width="1"/>
<line x1="442.40" y1="548.25" x2="733.60" y2="548.25" stroke="#000" stroke-width="0.9" stroke-dasharray="1,1.3"/>
<path d="M453.0,534.8L453.9,538.3L454.7,541.8L455.6,546.5L456.4,551.1L457.3,554.5L458.1,557.8L459.0,559.4L459.8,560.3L460.7,560.3L461.5,560.2L462.4,559.9L463.2,559.7L464.1,559.1L464.9,558.3L465.8,557.4L466.7,556.3L467.5,555.0L468.4,553.9L469.2,552.7L470.1,551.7L470.9,551.0L471.8,550.5L472.6,550.1L473.5,549.7L474.3,549.2L475.2,548.9L476.0,548.5L476.9,547.9L477.7,547.2L478.6,546.5L479.4,546.0L480.3,546.3L481.2,546.9L482.0,547.6L482.9,548.4L483.7,549.0L484.6,549.6L485.4,549.2L486.3,548.5L487.1,547.7L488.0,546.9L488.8,546.3L489.7,546.0L490.5,546.4L491.4,546.9L492.2,547.4L493.1,547.8L493.9,548.1L494.8,548.0L495.6,547.3L496.5,546.5L497.4,545.7L498.2,545.0L499.1,544.6L499.9,544.3L500.8,544.1" stroke="#cc1c1c" stroke-width="1.0" fill="none" stroke-linejoin="round" />
<path d="M453.0,534.3L453.9,537.8L454.7,541.1L455.6,545.5L456.4,549.8L457.3,553.0L458.1,556.2L459.0,557.8L459.8,559.0L460.7,559.3L461.5,559.5L462.4,559.4L463.2,559.2L464.1,558.4L464.9,557.4L465.8,556.1L466.7,554.8L467.5,553.4L468.4,552.3L469.2,551.4L470.1,550.8L470.9,550.3L471.8,550.0L472.6,549.5L473.5,549.0L474.3,548.2L475.2,547.6L476.0,546.9L476.9,546.3L477.7,545.7L478.6,545.3L479.4,545.1L480.3,545.6L481.2,546.4L482.0,547.1L482.9,547.7L483.7,548.0L484.6,548.2L485.4,547.6L486.3,546.9L487.1,546.2L488.0,545.7L488.8,545.4L489.7,545.3L490.5,545.9L491.4,546.3L492.2,546.6L493.1,546.8L493.9,546.7L494.8,546.5L495.6,545.7L496.5,545.0L497.4,544.5L498.2,544.2L499.1,544.0L499.9,543.8L500.8,543.6" stroke="#cc1c1c" stroke-width="1.0" fill="none" stroke-linejoin="round" />
<path d="M453.0,533.7L453.9,536.9L454.7,539.9L455.6,544.1L456.4,548.2L457.3,551.4L458.1,554.8L459.0,556.8L459.8,558.2L460.7,558.8L461.5,559.0L462.4,558.8L463.2,558.3L464.1,557.2L464.9,555.9L465.8,554.5L466.7,553.2L467.5,552.1L468.4,551.3L469.2,550.7L470.1,550.2L470.9,549.8L471.8,549.3L472.6,548.6L473.5,547.7L474.3,546.7L475.2,546.0L476.0,545.4L476.9,544.9L477.7,544.7L478.6,544.6L479.4,544.5L480.3,545.1L481.2,545.7L482.0,546.2L482.9,546.4L483.7,546.5L484.6,546.6L485.4,546.1L486.3,545.6L487.1,545.2L488.0,545.0L488.8,544.9L489.7,544.8L490.5,545.2L491.4,545.4L492.2,545.4L493.1,545.3L493.9,545.1L494.8,545.0L495.6,544.4L496.5,544.0L497.4,543.8L498.2,543.6L499.1,543.4L499.9,543.1L500.8,542.6" stroke="#cc1c1c" stroke-width="1.0" fill="none" stroke-linejoin="round" />
<path d="M521.2,538.9L522.1,542.5L522.9,546.0L523.8,549.3L524.6,552.6L525.5,553.4L526.3,554.3L527.2,555.5L528.1,556.7L528.9,556.5L529.8,556.3L530.6,556.0L531.5,555.5L532.3,554.8L533.2,554.0L534.0,553.1L534.9,552.3L535.7,551.5L536.6,550.8L537.4,550.4L538.3,550.0L539.1,549.6L540.0,549.4L540.8,549.2L541.7,548.7L542.5,548.1L543.4,547.5L544.3,547.0L545.1,546.7L546.0,546.5L546.8,546.5L547.7,546.5L548.5,546.5L549.4,546.4L550.2,546.1L551.1,545.6L551.9,545.0L552.8,544.4L553.6,543.8L554.5,543.4L555.3,543.2L556.2,543.2L557.0,543.2L557.9,543.2L558.8,543.1L559.6,543.2L560.5,543.2L561.3,543.1L562.2,542.9L563.0,542.9L563.9,543.0L564.7,543.3L565.6,543.7L566.4,544.2L567.3,544.6L568.1,544.8L569.0,544.9L569.8,544.7L570.7,544.5L571.5,544.2L572.4,544.1L573.2,544.1L574.1,544.3L575.0,544.7L575.8,545.2L576.7,545.8L577.5,546.2L578.4,546.4L579.2,546.5L580.1,546.4L580.9,546.4L581.8,546.4L582.6,546.6L583.5,547.1L584.3,547.6L585.2,548.2L586.0,548.8L586.9,549.2L587.7,549.4L588.6,549.4L589.5,549.4L590.3,549.3L591.2,549.4L592.0,549.6L592.9,550.1L593.7,550.4L594.6,550.8L595.4,551.2L596.3,551.4L597.1,551.4L598.0,551.2L598.8,551.0L599.7,550.8L600.5,550.6L601.4,550.7L602.2,551.0L603.1,551.2L603.9,551.4L604.8,551.5L605.7,551.5L606.5,551.3L607.4,550.9L608.2,550.4L609.1,549.9L609.9,549.6L610.8,549.5L611.6,549.5L612.5,549.7L613.3,549.8L614.2,549.9L615.0,549.9L615.9,549.6L616.7,549.2L617.6,548.8L618.4,549.0L619.3,549.3L620.2,549.8L621.0,550.4L621.9,551.2L622.7,551.5L623.6,551.4L624.4,551.1L625.3,550.7L626.1,550.1L627.0,549.4L627.8,548.8L628.7,548.3L629.5,548.3L630.4,548.6L631.2,549.0L632.1,549.4L632.9,549.6L633.8,549.8L634.6,549.7L635.5,549.5L636.4,549.7L637.2,550.0L638.1,550.4L638.9,550.9L639.8,551.7L640.6,552.2L641.5,552.1L642.3,551.9L643.2,551.6L644.0,551.0L644.9,550.3L645.7,549.6L646.6,549.5L647.4,549.5L648.3,549.7L649.1,550.1L650.0,550.5L650.8,551.0L651.7,551.7L652.6,552.4L653.4,553.0L654.3,553.4L655.1,552.6L656.0,551.8L656.8,551.2L657.7,550.8L658.5,550.5L659.4,550.3L660.2,550.2L661.1,549.9L661.9,550.1L662.8,550.1L663.6,550.1L664.5,550.0L665.3,549.9L666.2,550.0L667.1,550.4L667.9,550.9L668.8,551.5L669.6,552.1L670.5,552.6L671.3,552.8L672.2,552.9L673.0,552.9L673.9,552.9L674.7,552.7L675.6,552.3L676.4,552.2L677.3,552.2L678.1,552.3L679.0,552.3L679.8,552.2L680.7,552.0L681.5,551.5L682.4,551.0L683.3,550.4L684.1,550.0L685.0,549.7L685.8,549.5L686.7,549.6L687.5,549.7L688.4,549.7L689.2,550.1L690.1,550.4L690.9,550.4L691.8,550.3L692.6,550.3L693.5,550.0L694.3,549.3L695.2,548.8L696.0,548.5L696.9,548.3L697.8,548.0L698.6,547.5L699.5,547.9L700.3,548.0L701.2,548.1L702.0,548.1L702.9,548.3L703.7,548.6L704.6,548.6L705.4,548.3L706.3,548.1L707.1,547.9L708.0,547.5L708.8,547.0L709.7,546.4L710.5,546.5L711.4,546.6L712.2,546.9L713.1,547.2L714.0,546.9L714.8,546.4L715.7,546.0L716.5,545.5L717.4,544.9L718.2,544.3L719.1,544.5L719.9,544.6L720.8,544.8L721.6,545.0L722.5,545.5" stroke="#cc1c1c" stroke-width="1.0" fill="none" stroke-linejoin="round" />
<path d="M521.2,537.7L522.1,541.1L522.9,544.4L523.8,547.7L524.6,551.2L525.5,552.3L526.3,553.5L527.2,554.9L528.1,556.2L528.9,556.0L529.8,555.5L530.6,554.9L531.5,554.1L532.3,553.2L533.2,552.4L534.0,551.7L534.9,551.2L535.7,550.7L536.6,550.3L537.4,549.9L538.3,549.4L539.1,548.7L540.0,548.3L540.8,547.7L541.7,547.1L542.5,546.6L543.4,546.2L544.3,545.9L545.1,545.9L546.0,545.9L546.8,546.0L547.7,545.9L548.5,545.7L549.4,545.2L550.2,544.6L551.1,544.0L551.9,543.4L552.8,543.0L553.6,542.8L554.5,542.7L555.3,542.7L556.2,542.7L557.0,542.6L557.9,542.3L558.8,541.9L559.6,541.8L560.5,541.6L561.3,541.5L562.2,541.6L563.0,541.8L563.9,542.2L564.7,542.7L565.6,543.2L566.4,543.6L567.3,543.7L568.1,543.6L569.0,543.4L569.8,543.1L570.7,542.9L571.5,542.9L572.4,543.1L573.2,543.4L574.1,543.8L575.0,544.2L575.8,544.6L576.7,544.9L577.5,544.9L578.4,544.9L579.2,544.8L580.1,544.9L580.9,545.0L581.8,545.4L582.6,545.9L583.5,546.5L584.3,547.1L585.2,547.5L586.0,547.8L586.9,547.9L587.7,547.8L588.6,547.8L589.5,547.8L590.3,548.0L591.2,548.4L592.0,548.9L592.9,549.5L593.7,549.9L594.6,550.2L595.4,550.2L596.3,550.1L597.1,549.9L598.0,549.6L598.8,549.5L599.7,549.5L600.5,549.7L601.4,550.0L602.2,550.5L603.1,550.7L603.9,550.7L604.8,550.5L605.7,550.2L606.5,549.7L607.4,549.3L608.2,548.9L609.1,548.7L609.9,548.7L610.8,548.8L611.6,549.0L612.5,549.1L613.3,549.1L614.2,548.9L615.0,548.5L615.9,548.0L616.7,547.6L617.6,547.3L618.4,547.8L619.3,548.4L620.2,549.1L621.0,549.9L621.9,550.6L622.7,550.7L623.6,550.3L624.4,549.8L625.3,549.1L626.1,548.4L627.0,547.9L627.8,547.6L628.7,547.4L629.5,547.7L630.4,548.1L631.2,548.4L632.1,548.6L632.9,548.6L633.8,548.4L634.6,548.1L635.5,547.9L636.4,548.2L637.2,548.8L638.1,549.5L638.9,550.3L639.8,551.2L640.6,551.6L641.5,551.3L642.3,550.8L643.2,550.2L644.0,549.4L644.9,548.7L645.7,548.2L646.6,548.3L647.4,548.6L648.3,549.1L649.1,549.6L650.0,550.0L650.8,550.2L651.7,550.6L652.6,551.0L653.4,551.4L654.3,551.8L655.1,551.2L656.0,550.7L656.8,550.4L657.7,550.2L658.5,550.0L659.4,549.8L660.2,549.3L661.1,548.7L661.9,548.7L662.8,548.6L663.6,548.5L664.5,548.6L665.3,548.8L666.2,549.2L667.1,549.8L667.9,550.4L668.8,550.9L669.6,551.2L670.5,551.4L671.3,551.4L672.2,551.3L673.0,551.3L673.9,551.5L674.7,551.6L675.6,551.6L676.4,551.6L677.3,551.7L678.1,551.7L679.0,551.4L679.8,551.1L680.7,550.5L681.5,549.9L682.4,549.4L683.3,549.1L684.1,548.9L685.0,548.9L685.8,549.0L686.7,549.1L687.5,549.0L688.4,548.8L689.2,548.9L690.1,548.9L690.9,548.8L691.8,548.8L692.6,548.9L693.5,548.9L694.3,548.6L695.2,548.3L696.0,548.0L696.9,547.6L697.8,547.1L698.6,546.3L699.5,546.4L700.3,546.4L701.2,546.5L702.0,546.8L702.9,547.2L703.7,547.9L704.6,548.0L705.4,547.8L706.3,547.5L707.1,547.0L708.0,546.3L708.8,545.5L709.7,544.8L710.5,545.0L711.4,545.3L712.2,545.9L713.1,546.5L714.0,546.3L714.8,545.9L715.7,545.3L716.5,544.5L717.4,543.6L718.2,542.8L719.1,542.9L719.9,543.1L720.8,543.5L721.6,544.1L722.5,544.8" stroke="#cc1c1c" stroke-width="1.0" fill="none" stroke-linejoin="round" />
<path d="M521.2,536.2L522.1,539.5L522.9,542.9L523.8,546.5L524.6,550.3L525.5,551.6L526.3,553.0L527.2,554.3L528.1,555.5L528.9,554.9L529.8,554.1L530.6,553.3L531.5,552.5L532.3,551.7L533.2,551.2L534.0,550.8L534.9,550.5L535.7,550.2L536.6,549.7L537.4,549.1L538.3,548.3L539.1,547.4L540.0,546.7L540.8,546.1L541.7,545.7L542.5,545.4L543.4,545.3L544.3,545.3L545.1,545.4L546.0,545.4L546.8,545.2L547.7,544.8L548.5,544.3L549.4,543.6L550.2,543.0L551.1,542.6L551.9,542.3L552.8,542.2L553.6,542.2L554.5,542.2L555.3,542.1L556.2,541.9L557.0,541.5L557.9,540.9L558.8,540.3L559.6,540.2L560.5,540.2L561.3,540.4L562.2,540.7L563.0,541.2L563.9,541.7L564.7,542.1L565.6,542.4L566.4,542.4L567.3,542.3L568.1,542.0L569.0,541.8L569.8,541.7L570.7,541.8L571.5,542.1L572.4,542.5L573.2,542.9L574.1,543.2L575.0,543.3L575.8,543.4L576.7,543.4L577.5,543.3L578.4,543.3L579.2,543.5L580.1,543.8L580.9,544.3L581.8,544.9L582.6,545.4L583.5,545.9L584.3,546.2L585.2,546.4L586.0,546.3L586.9,546.3L587.7,546.3L588.6,546.4L589.5,546.8L590.3,547.3L591.2,547.9L592.0,548.4L592.9,548.9L593.7,549.0L594.6,548.9L595.4,548.7L596.3,548.5L597.1,548.3L598.0,548.3L598.8,548.4L599.7,548.7L600.5,549.2L601.4,549.5L602.2,549.8L603.1,549.8L603.9,549.5L604.8,549.0L605.7,548.6L606.5,548.2L607.4,547.9L608.2,547.9L609.1,548.0L609.9,548.2L610.8,548.3L611.6,548.3L612.5,548.2L613.3,547.9L614.2,547.4L615.0,546.9L615.9,546.5L616.7,546.3L617.6,546.3L618.4,547.1L619.3,547.8L620.2,548.6L621.0,549.2L621.9,549.7L622.7,549.5L623.6,548.8L624.4,548.1L625.3,547.6L626.1,547.2L627.0,546.9L627.8,546.9L628.7,546.9L629.5,547.2L630.4,547.4L631.2,547.4L632.1,547.3L632.9,547.0L633.8,546.8L634.6,546.6L635.5,546.6L636.4,547.3L637.2,548.1L638.1,549.0L638.9,549.8L639.8,550.5L640.6,550.6L641.5,550.0L642.3,549.3L643.2,548.6L644.0,547.9L644.9,547.5L645.7,547.2L646.6,547.7L647.4,548.1L648.3,548.6L649.1,548.8L650.0,548.9L650.8,548.8L651.7,549.0L652.6,549.4L653.4,549.9L654.3,550.6L655.1,550.3L656.0,550.1L656.8,549.9L657.7,549.7L658.5,549.3L659.4,548.7L660.2,548.0L661.1,547.1L661.9,547.1L662.8,547.1L663.6,547.3L664.5,547.7L665.3,548.2L666.2,548.7L667.1,549.3L667.9,549.6L668.8,549.8L669.6,549.9L670.5,549.8L671.3,549.8L672.2,549.9L673.0,550.2L673.9,550.6L674.7,551.0L675.6,551.1L676.4,551.1L677.3,550.9L678.1,550.6L679.0,550.1L679.8,549.5L680.7,548.9L681.5,548.5L682.4,548.3L683.3,548.2L684.1,548.3L685.0,548.4L685.8,548.4L686.7,548.2L687.5,547.9L688.4,547.4L689.2,547.3L690.1,547.3L690.9,547.4L691.8,547.7L692.6,548.1L693.5,548.3L694.3,548.1L695.2,547.7L696.0,547.2L696.9,546.5L697.8,545.6L698.6,544.7L699.5,544.8L700.3,545.0L701.2,545.4L702.0,546.0L702.9,546.7L703.7,547.4L704.6,547.4L705.4,547.0L706.3,546.3L707.1,545.5L708.0,544.7L708.8,543.9L709.7,543.4L710.5,543.9L711.4,544.6L712.2,545.3L713.1,546.0L714.0,545.7L714.8,545.0L715.7,544.1L716.5,543.1L717.4,542.0L718.2,541.2L719.1,541.5L719.9,542.1L720.8,542.7L721.6,543.5L722.5,544.3" stroke="#cc1c1c" stroke-width="1.0" fill="none" stroke-linejoin="round" />
<path d="M453.0,426.2L453.9,440.3L454.7,454.4L455.6,465.7L456.4,476.2L457.3,486.4L458.1,496.4L459.0,504.6L459.8,510.6L460.7,516.6L461.5,521.2L462.4,524.6L463.2,528.0L464.1,531.4L464.9,534.7L465.8,537.4L466.7,540.0L467.5,542.6L468.4,545.2L469.2,547.9L470.1,550.2L470.9,552.0L471.8,553.8L472.6,555.5L473.5,557.3L474.3,559.1L475.2,560.9L476.0,562.6L476.9,564.4L477.7,566.0L478.6,567.5L479.4,568.9L480.3,570.4L481.2,571.9L482.0,573.3L482.9,574.8L483.7,576.3L484.6,577.7L485.4,578.7L486.3,579.7L487.1,580.7L488.0,581.7L488.8,582.7L489.7,583.7L490.5,584.6L491.4,585.6L492.2,586.6L493.1,587.2L493.9,587.7L494.8,588.3L495.6,588.9L496.5,589.4L497.4,590.0L498.2,590.6L499.1,591.2L499.9,591.6L500.8,592.0" stroke="#0000ff" stroke-width="0.85" fill="none" stroke-linejoin="round" stroke-dasharray="1,1.2" stroke-dashoffset="0.00"/>
<path d="M453.0,426.2L453.9,440.3L454.7,454.4L455.6,465.7L456.4,476.2L457.3,486.4L458.1,496.4L459.0,504.6L459.8,510.6L460.7,516.6L461.5,521.2L462.4,524.6L463.2,528.0L464.1,531.4L464.9,534.6L465.8,537.2L466.7,539.8L467.5,542.3L468.4,544.9L469.2,547.4L470.1,549.7L470.9,551.5L471.8,553.2L472.6,554.9L473.5,556.6L474.3,558.3L475.2,560.0L476.0,561.8L476.9,563.5L477.7,565.0L478.6,566.4L479.4,567.8L480.3,569.2L481.2,570.6L482.0,572.0L482.9,573.5L483.7,574.9L484.6,576.3L485.4,577.3L486.3,578.3L487.1,579.3L488.0,580.3L488.8,581.3L489.7,582.3L490.5,583.2L491.4,584.2L492.2,585.2L493.1,585.8L493.9,586.3L494.8,586.9L495.6,587.5L496.5,588.0L497.4,588.6L498.2,589.2L499.1,589.7L499.9,590.2L500.8,590.6" stroke="#0000ff" stroke-width="0.85" fill="none" stroke-linejoin="round" stroke-dasharray="1,1.2" stroke-dashoffset="1.10"/>
<path d="M463.2,528.0L464.1,531.3L464.9,534.5L465.8,537.0L466.7,539.5L467.5,542.0L468.4,544.5L469.2,547.0L470.1,549.3L470.9,550.9L471.8,552.6L472.6,554.2L473.5,555.9L474.3,557.6L475.2,559.2L476.0,560.9L476.9,562.5L477.7,564.0L478.6,565.4L479.4,566.7L480.3,568.1L481.2,569.4L482.0,570.8L482.9,572.1L483.7,573.5L484.6,574.9L485.4,575.9L486.3,576.9L487.1,577.9L488.0,578.9L488.8,579.9L489.7,580.8L490.5,581.8L491.4,582.8L492.2,583.8L493.1,584.4L493.9,584.9L494.8,585.5L495.6,586.1L496.5,586.6L497.4,587.2L498.2,587.8L499.1,588.3L499.9,588.8L500.8,589.2" stroke="#0000ff" stroke-width="0.85" fill="none" stroke-linejoin="round" stroke-dasharray="1,1.2" stroke-dashoffset="2.20"/>
<path d="M521.2,513.4L521.7,519.8L522.1,526.1L522.5,532.5L522.9,538.8L523.4,544.1L523.8,549.4L524.2,554.6L524.6,559.9L525.1,562.2L525.5,564.5L525.9,566.8L526.3,569.1L526.8,571.5L527.2,573.8L527.6,576.1L528.0,577.5L528.5,576.6L528.9,575.7L529.3,574.9L529.7,574.0L530.2,573.1L530.6,572.3L531.0,571.4L531.4,570.5L531.9,569.4L532.3,568.3L532.7,567.1L533.1,566.0L533.6,564.9L534.0,563.7L534.4,562.6L534.8,561.7L535.3,560.9L535.7,560.0L536.1,559.2L536.5,558.4L537.0,557.6L537.4,556.8L537.8,555.9L538.2,555.1L538.7,554.3L539.1,553.5L539.5,552.7L540.0,551.8L540.4,551.3L540.8,550.7L541.2,550.1L541.7,549.6L542.1,549.0L542.5,548.5L542.9,547.9L543.4,547.3L543.8,546.8L544.2,546.2L544.6,545.7L545.1,545.1L545.5,544.6L545.9,544.0L546.3,543.4L546.8,542.9L547.2,542.3L547.6,541.8L548.0,541.3L548.5,540.9L548.9,540.6L549.3,540.2L549.7,539.8L550.2,539.5L550.6,539.1L551.0,538.7L551.4,538.3L551.9,538.0L552.3,537.6L552.7,537.2L553.1,536.7L553.6,536.3L554.0,535.9L554.4,535.5L554.8,535.5L555.3,535.4L555.7,535.4L556.1,535.4L556.5,535.4L557.0,535.4L557.4,535.3L557.8,535.2L558.2,535.0L558.7,534.7L559.1,534.5L559.5,534.2L559.9,533.9L560.4,533.6L560.8,533.4L561.2,533.2L561.7,533.2L562.1,533.3L562.5,533.3L562.9,533.4L563.4,533.4L563.8,533.4L564.2,533.3L564.6,533.1L565.1,532.9L565.5,532.7L565.9,532.4L566.3,532.2L566.8,532.0L567.2,531.9L567.6,531.9L568.0,532.1L568.5,532.3L568.9,532.6L569.3,533.0L569.7,533.4L570.2,533.7L570.6,534.0L571.0,534.3L571.4,534.5L571.9,534.6L572.3,534.6L572.7,534.5L573.1,534.4L573.6,534.2L574.0,534.1L574.4,533.9L574.8,533.9L575.3,533.9L575.7,534.0L576.1,534.1L576.5,534.2L577.0,534.3L577.4,534.3L577.8,534.4L578.2,534.4L578.7,534.3L579.1,534.2L579.5,534.1L579.9,533.9L580.4,533.9L580.8,533.8L581.2,533.9L581.6,534.1L582.1,534.3L582.5,534.7L582.9,535.2L583.4,535.7L583.8,536.1L584.2,536.5L584.6,536.9L585.1,537.0L585.5,537.1L585.9,537.1L586.3,536.9L586.8,536.7L587.2,536.5L587.6,536.3L588.0,536.1L588.5,536.0L588.9,536.0L589.3,536.1L589.7,536.3L590.2,536.5L590.6,536.8L591.0,537.0L591.4,537.3L591.9,537.5L592.3,537.7L592.7,537.8L593.1,537.8L593.6,537.8L594.0,537.8L594.4,537.9L594.8,538.0L595.3,538.2L595.7,538.4L596.1,538.7L596.5,539.1L597.0,539.4L597.4,539.8L597.8,540.1L598.2,540.3L598.7,540.4L599.1,540.4L599.5,540.2L599.9,540.0L600.4,539.7L600.8,539.4L601.2,539.1L601.6,538.9L602.1,538.7L602.5,538.6L602.9,538.7L603.3,538.9L603.8,539.2L604.2,539.5L604.6,539.9L605.0,540.3L605.5,540.6L605.9,540.9L606.3,541.1L606.8,541.2L607.2,541.4L607.6,541.5L608.0,541.6L608.5,541.7L608.9,541.8L609.3,542.1L609.7,542.3L610.2,542.6L610.6,543.0L611.0,543.3L611.4,543.6L611.9,543.8L612.3,544.0L612.7,543.8L613.1,543.6L613.6,543.2L614.0,542.8L614.4,542.4L614.8,542.0L615.3,541.6L615.7,541.3L616.1,541.2L616.5,541.1L617.0,541.3L617.4,541.6L617.8,542.1L618.2,542.6L618.7,543.0L619.1,543.5L619.5,543.8L619.9,544.1L620.4,544.3L620.8,544.5L621.2,544.5L621.6,544.6L622.1,544.6L622.5,544.6L622.9,544.7L623.3,544.8L623.8,544.9L624.2,545.0L624.6,545.2L625.0,545.4L625.5,545.5L625.9,545.6L626.3,545.5L626.7,545.5L627.2,545.3L627.6,545.1L628.0,544.8L628.5,544.5L628.9,544.2L629.3,544.1L629.7,544.0L630.2,544.1L630.6,544.3L631.0,544.6L631.4,544.9L631.9,545.4L632.3,545.8L632.7,546.1L633.1,546.4L633.6,546.6L634.0,546.7L634.4,546.7L634.8,546.6L635.3,546.4L635.7,546.3L636.1,546.3L636.5,546.3L637.0,546.4L637.4,546.6L637.8,546.8L638.2,547.0L638.7,547.2L639.1,547.6L639.5,547.9L639.9,548.2L640.4,548.5L640.8,548.7L641.2,548.8L641.6,548.9L642.1,549.0L642.5,549.2L642.9,549.4L643.3,549.7L643.8,549.7L644.2,549.9L644.6,550.1L645.0,550.4L645.5,550.7L645.9,551.0L646.3,551.3L646.7,551.5L647.2,551.6L647.6,551.6L648.0,551.7L648.4,551.7L648.9,551.6L649.3,551.4L649.7,551.3L650.1,551.2L650.6,551.1L651.0,551.1L651.4,551.3L651.9,551.6L652.3,552.0L652.7,552.4L653.1,552.8L653.6,553.2L654.0,553.5L654.4,553.8L654.8,554.1L655.3,554.3L655.7,554.4L656.1,554.2L656.5,554.0L657.0,553.9L657.4,553.9L657.8,554.0L658.2,554.1L658.7,554.4L659.1,554.6L659.5,554.8L659.9,555.0L660.4,555.2L660.8,555.2L661.2,555.1L661.6,554.9L662.1,554.8L662.5,554.7L662.9,554.6L663.3,554.5L663.8,554.4L664.2,554.4L664.6,554.5L665.0,554.6L665.5,554.9L665.9,555.2L666.3,555.6L666.7,556.1L667.2,556.5L667.6,556.9L668.0,557.3L668.4,557.5L668.9,557.7L669.3,557.9L669.7,558.1L670.1,558.2L670.6,558.4L671.0,558.7L671.4,559.0L671.8,559.4L672.3,559.8L672.7,560.3L673.1,560.8L673.6,561.2L674.0,561.6L674.4,561.9L674.8,561.7L675.3,561.5L675.7,561.1L676.1,560.7L676.5,560.2L677.0,559.7L677.4,559.2L677.8,558.8L678.2,558.5L678.7,558.3L679.1,558.3L679.5,558.3L679.9,558.4L680.4,558.6L680.8,558.7L681.2,558.9L681.6,559.0L682.1,559.2L682.5,559.3L682.9,559.4L683.3,559.4L683.8,559.4L684.2,559.3L684.6,559.3L685.0,559.4L685.5,559.5L685.9,559.6L686.3,559.8L686.7,560.0L687.2,560.2L687.6,560.3L688.0,560.4L688.4,560.3L688.9,560.3L689.3,560.1L689.7,559.8L690.1,559.5L690.6,559.2L691.0,558.9L691.4,558.7L691.8,558.6L692.3,558.6L692.7,558.7L693.1,558.9L693.5,559.3L694.0,559.7L694.4,560.2L694.8,560.6L695.2,561.0L695.7,561.4L696.1,561.6L696.5,561.7L697.0,561.8L697.4,561.8L697.8,561.7L698.2,561.8L698.7,561.9L699.1,562.0L699.5,562.2L699.9,562.5L700.4,562.8L700.8,563.0L701.2,563.3L701.6,563.6L702.1,563.7L702.5,563.9L702.9,563.9L703.3,563.9L703.8,563.8L704.2,563.7L704.6,563.7L705.0,563.7L705.5,563.8L705.9,563.7L706.3,563.7L706.7,563.8L707.2,564.1L707.6,564.3L708.0,564.6L708.4,564.9L708.9,565.1L709.3,565.3L709.7,565.3L710.1,565.2L710.6,565.1L711.0,564.9L711.4,564.7L711.8,564.5L712.3,564.3L712.7,564.2L713.1,564.1L713.5,564.0L714.0,564.0L714.4,564.1L714.8,564.2L715.2,564.3L715.7,564.3L716.1,564.4L716.5,564.3L716.9,564.2L717.4,564.1L717.8,563.9L718.2,563.9L718.7,564.0L719.1,564.3L719.5,564.6L719.9,565.0L720.4,565.5L720.8,566.1L721.2,566.8L721.6,567.4L722.1,568.1L722.5,568.7" stroke="#0000ff" stroke-width="0.95" fill="none" stroke-linejoin="round" stroke-dasharray="1,1.2" stroke-dashoffset="0.00"/>
<path d="M521.2,527.4L521.7,530.6L522.1,533.8L522.5,537.0L522.9,540.2L523.4,543.3L523.8,546.5L524.2,549.7L524.6,552.9L525.1,554.6L525.5,556.4L525.9,558.1L526.3,559.9L526.8,561.6L527.2,563.4L527.6,565.2L528.0,566.9L528.5,568.2L528.9,567.5L529.3,566.8L529.7,566.1L530.2,565.4L530.6,564.7L531.0,564.0L531.4,563.3L531.9,562.5L532.3,561.8L532.7,561.1L533.1,560.4L533.6,559.7L534.0,559.0L534.4,558.3L534.8,557.4L535.3,556.6L535.7,555.7L536.1,554.9L536.5,554.0L537.0,553.2L537.4,552.3L537.8,551.4L538.2,550.6L538.7,549.7L539.1,548.9L539.5,548.0L540.0,547.2L540.4,546.6L540.8,546.2L541.2,545.7L541.7,545.2L542.1,544.7L542.5,544.2L542.9,543.8L543.4,543.3L543.8,542.8L544.2,542.3L544.6,541.8L545.1,541.3L545.5,540.9L545.9,540.4L546.3,539.9L546.8,539.4L547.2,538.9L547.6,538.4L548.0,538.1L548.5,537.8L548.9,537.5L549.3,537.3L549.7,537.0L550.2,536.8L550.6,536.5L551.0,536.2L551.4,536.0L551.9,535.7L552.3,535.4L552.7,535.1L553.1,534.8L553.6,534.5L554.0,534.1L554.4,533.9L554.8,533.8L555.3,533.7L555.7,533.6L556.1,533.6L556.5,533.5L557.0,533.4L557.4,533.3L557.8,533.1L558.2,532.9L558.7,532.5L559.1,532.2L559.5,531.9L559.9,531.5L560.4,531.2L560.8,530.8L561.2,530.6L561.7,530.5L562.1,530.5L562.5,530.6L562.9,530.6L563.4,530.6L563.8,530.5L564.2,530.4L564.6,530.2L565.1,529.9L565.5,529.7L565.9,529.4L566.3,529.1L566.8,528.9L567.2,528.8L567.6,528.8L568.0,528.9L568.5,529.1L568.9,529.4L569.3,529.7L569.7,530.1L570.2,530.5L570.6,530.7L571.0,531.0L571.4,531.3L571.9,531.4L572.3,531.4L572.7,531.3L573.1,531.2L573.6,531.0L574.0,530.8L574.4,530.7L574.8,530.7L575.3,530.7L575.7,530.8L576.1,530.9L576.5,531.0L577.0,531.1L577.4,531.2L577.8,531.2L578.2,531.2L578.7,531.1L579.1,531.0L579.5,530.9L579.9,530.8L580.4,530.7L580.8,530.7L581.2,530.8L581.6,531.0L582.1,531.2L582.5,531.6L582.9,532.1L583.4,532.6L583.8,533.1L584.2,533.5L584.6,533.8L585.1,534.0L585.5,534.1L585.9,534.0L586.3,533.9L586.8,533.7L587.2,533.5L587.6,533.2L588.0,533.1L588.5,533.0L588.9,533.0L589.3,533.1L589.7,533.3L590.2,533.5L590.6,533.8L591.0,534.1L591.4,534.3L591.9,534.5L592.3,534.7L592.7,534.8L593.1,534.9L593.6,534.9L594.0,534.9L594.4,535.0L594.8,535.1L595.3,535.2L595.7,535.5L596.1,535.8L596.5,536.2L597.0,536.6L597.4,536.9L597.8,537.2L598.2,537.4L598.7,537.5L599.1,537.5L599.5,537.4L599.9,537.2L600.4,536.9L600.8,536.6L601.2,536.3L601.6,536.0L602.1,535.9L602.5,535.8L602.9,535.9L603.3,536.1L603.8,536.4L604.2,536.7L604.6,537.1L605.0,537.5L605.5,537.8L605.9,538.1L606.3,538.4L606.8,538.5L607.2,538.7L607.6,538.8L608.0,538.9L608.5,539.0L608.9,539.2L609.3,539.4L609.7,539.7L610.2,540.0L610.6,540.4L611.0,540.7L611.4,541.0L611.9,541.3L612.3,541.4L612.7,541.3L613.1,541.0L613.6,540.7L614.0,540.3L614.4,539.9L614.8,539.5L615.3,539.1L615.7,538.9L616.1,538.7L616.5,538.7L617.0,538.9L617.4,539.2L617.8,539.7L618.2,540.2L618.7,540.6L619.1,541.1L619.5,541.5L619.9,541.8L620.4,542.0L620.8,542.1L621.2,542.2L621.6,542.2L622.1,542.2L622.5,542.2L622.9,542.3L623.3,542.3L623.8,542.4L624.2,542.6L624.6,542.7L625.0,542.9L625.5,543.0L625.9,543.1L626.3,543.0L626.7,542.9L627.2,542.8L627.6,542.5L628.0,542.2L628.5,541.9L628.9,541.7L629.3,541.5L629.7,541.4L630.2,541.5L630.6,541.7L631.0,541.9L631.4,542.3L631.9,542.7L632.3,543.1L632.7,543.4L633.1,543.7L633.6,543.9L634.0,544.0L634.4,543.9L634.8,543.8L635.3,543.7L635.7,543.5L636.1,543.5L636.5,543.5L637.0,543.6L637.4,543.7L637.8,543.9L638.2,544.2L638.7,544.4L639.1,544.7L639.5,545.1L639.9,545.4L640.4,545.6L640.8,545.8L641.2,545.9L641.6,546.0L642.1,546.2L642.5,546.3L642.9,546.5L643.3,546.8L643.8,546.8L644.2,546.9L644.6,547.1L645.0,547.4L645.5,547.7L645.9,548.0L646.3,548.3L646.7,548.5L647.2,548.6L647.6,548.6L648.0,548.7L648.4,548.7L648.9,548.6L649.3,548.4L649.7,548.3L650.1,548.2L650.6,548.1L651.0,548.1L651.4,548.3L651.9,548.6L652.3,548.9L652.7,549.3L653.1,549.7L653.6,550.1L654.0,550.4L654.4,550.7L654.8,550.9L655.3,551.1L655.7,551.2L656.1,551.0L656.5,550.8L657.0,550.7L657.4,550.6L657.8,550.6L658.2,550.7L658.7,550.9L659.1,551.1L659.5,551.4L659.9,551.5L660.4,551.6L660.8,551.6L661.2,551.5L661.6,551.2L662.1,551.1L662.5,551.0L662.9,550.9L663.3,550.7L663.8,550.6L664.2,550.6L664.6,550.6L665.0,550.7L665.5,550.9L665.9,551.2L666.3,551.6L666.7,552.0L667.2,552.4L667.6,552.8L668.0,553.1L668.4,553.3L668.9,553.5L669.3,553.7L669.7,553.8L670.1,553.9L670.6,554.1L671.0,554.3L671.4,554.6L671.8,554.9L672.3,555.3L672.7,555.8L673.1,556.2L673.6,556.6L674.0,557.0L674.4,557.2L674.8,557.1L675.3,556.8L675.7,556.5L676.1,556.0L676.5,555.6L677.0,555.1L677.4,554.6L677.8,554.2L678.2,553.9L678.7,553.8L679.1,553.7L679.5,553.8L679.9,553.9L680.4,554.1L680.8,554.2L681.2,554.4L681.6,554.6L682.1,554.8L682.5,554.9L682.9,555.0L683.3,555.0L683.8,555.0L684.2,554.9L684.6,555.0L685.0,555.0L685.5,555.1L685.9,555.3L686.3,555.5L686.7,555.7L687.2,555.9L687.6,556.0L688.0,556.1L688.4,556.1L688.9,556.0L689.3,555.8L689.7,555.6L690.1,555.3L690.6,555.0L691.0,554.7L691.4,554.5L691.8,554.4L692.3,554.4L692.7,554.6L693.1,554.8L693.5,555.2L694.0,555.6L694.4,556.1L694.8,556.6L695.2,557.0L695.7,557.3L696.1,557.6L696.5,557.7L697.0,557.8L697.4,557.8L697.8,557.8L698.2,557.8L698.7,557.9L699.1,558.1L699.5,558.3L699.9,558.6L700.4,558.9L700.8,559.2L701.2,559.5L701.6,559.7L702.1,559.9L702.5,560.0L702.9,560.1L703.3,560.1L703.8,560.0L704.2,560.0L704.6,559.9L705.0,560.0L705.5,560.0L705.9,559.9L706.3,559.9L706.7,560.0L707.2,560.1L707.6,560.4L708.0,560.6L708.4,560.9L708.9,561.0L709.3,561.1L709.7,561.1L710.1,561.0L710.6,560.8L711.0,560.6L711.4,560.4L711.8,560.1L712.3,559.9L712.7,559.7L713.1,559.5L713.5,559.4L714.0,559.4L714.4,559.4L714.8,559.5L715.2,559.5L715.7,559.5L716.1,559.5L716.5,559.4L716.9,559.3L717.4,559.1L717.8,558.9L718.2,558.8L718.7,558.9L719.1,559.1L719.5,559.4L719.9,559.7L720.4,560.2L720.8,560.8L721.2,561.4L721.6,562.0L722.1,562.6L722.5,563.2" stroke="#0000ff" stroke-width="0.95" fill="none" stroke-linejoin="round" stroke-dasharray="1,1.2" stroke-dashoffset="0.70"/>
<path d="M521.2,536.6L521.7,538.2L522.1,539.8L522.5,541.4L522.9,543.0L523.4,544.6L523.8,546.2L524.2,547.8L524.6,549.4L525.1,550.3L525.5,551.2L525.9,552.0L526.3,552.9L526.8,553.8L527.2,554.7L527.6,555.5L528.0,556.4L528.5,556.1L528.9,555.8L529.3,555.5L529.7,555.2L530.2,554.9L530.6,554.6L531.0,554.3L531.4,554.0L531.9,553.7L532.3,553.4L532.7,553.1L533.1,552.8L533.6,552.5L534.0,552.1L534.4,551.8L534.8,551.4L535.3,551.0L535.7,550.5L536.1,550.0L536.5,549.6L537.0,549.1L537.4,548.7L537.8,548.2L538.2,547.8L538.7,547.3L539.1,546.8L539.5,546.4L540.0,546.0L540.4,545.6L540.8,545.3L541.2,544.9L541.7,544.5L542.1,544.1L542.5,543.7L542.9,543.3L543.4,543.0L543.8,542.6L544.2,542.2L544.6,541.8L545.1,541.4L545.5,541.0L545.9,540.6L546.3,540.3L546.8,539.9L547.2,539.5L547.6,539.1L548.0,538.8L548.5,538.5L548.9,538.2L549.3,537.9L549.7,537.7L550.2,537.4L550.6,537.1L551.0,536.8L551.4,536.6L551.9,536.3L552.3,536.0L552.7,535.6L553.1,535.3L553.6,535.0L554.0,534.6L554.4,534.3L554.8,534.2L555.3,534.1" stroke="#0000ff" stroke-width="0.95" fill="none" stroke-linejoin="round" stroke-dasharray="1,1.2" stroke-dashoffset="1.40"/>
<rect x="442.40" y="422.40" width="291.20" height="252.00" stroke="#222" stroke-width="1" fill="none" />
<line x1="435.40" y1="641.80" x2="442.40" y2="641.80" stroke="#222" stroke-width="1" />
<text transform="translate(426.60,641.80) rotate(-90) scale(1,1.05)" font-size="10.8">-0.04</text>
<line x1="435.40" y1="595.02" x2="442.40" y2="595.02" stroke="#222" stroke-width="1" />
<text transform="translate(426.60,595.02) rotate(-90) scale(1,1.05)" font-size="10.8">-0.02</text>
<line x1="435.40" y1="548.25" x2="442.40" y2="548.25" stroke="#222" stroke-width="1" />
<text transform="translate(426.60,548.25) rotate(-90) scale(1,1.05)" font-size="10.8">0.00</text>
<line x1="435.40" y1="501.48" x2="442.40" y2="501.48" stroke="#222" stroke-width="1" />
<text transform="translate(426.60,501.48) rotate(-90) scale(1,1.05)" font-size="10.8">0.02</text>
<line x1="435.40" y1="454.70" x2="442.40" y2="454.70" stroke="#222" stroke-width="1" />
<text transform="translate(426.60,454.70) rotate(-90) scale(1,1.05)" font-size="10.8">0.04</text>
<line x1="449.60" y1="674.40" x2="449.60" y2="681.20" stroke="#222" stroke-width="1" />
<text transform="translate(449.60,698.20) scale(1,1.09)" font-size="10.8">0</text>
<line x1="517.82" y1="674.40" x2="517.82" y2="681.20" stroke="#222" stroke-width="1" />
<text transform="translate(517.82,698.20) scale(1,1.09)" font-size="10.8">20</text>
<line x1="586.04" y1="674.40" x2="586.04" y2="681.20" stroke="#222" stroke-width="1" />
<text transform="translate(586.04,698.20) scale(1,1.09)" font-size="10.8">40</text>
<line x1="654.26" y1="674.40" x2="654.26" y2="681.20" stroke="#222" stroke-width="1" />
<text transform="translate(654.26,698.20) scale(1,1.09)" font-size="10.8">60</text>
<line x1="722.48" y1="674.40" x2="722.48" y2="681.20" stroke="#222" stroke-width="1" />
<text transform="translate(722.48,698.20) scale(1,1.09)" font-size="10.8">80</text>
<text transform="translate(400.90,548.30) rotate(-90) scale(1,1.05)" font-size="10.8">Fluorescence</text>
<text transform="translate(587.80,723.90) scale(1,1.09)" font-size="10.8">Time Index</text>
<text transform="translate(588.30,399.80) scale(1,1.0)" font-size="12.86" font-weight="bold">Residuals</text>
<text transform="translate(511.40,419.60) scale(1,1.09)" font-size="12.3">Bleaching</text>
<text transform="translate(622.40,419.50) scale(1,1.09)" font-size="12.3">Post-Bleaching</text>
<rect x="560.8" y="635.5" width="172.80" height="38.90" fill="#fff" stroke="#222" stroke-width="1"/>
<line x1="563.50" y1="648.30" x2="583.60" y2="648.30" stroke="#dd2020" stroke-width="0.9" />
<line x1="563.50" y1="661.50" x2="583.60" y2="661.50" stroke="#0000ff" stroke-width="1.1" stroke-dasharray="1.2,1.4"/>
<text transform="translate(593.80,652.70) scale(1,1.09)" font-size="10.9" style="text-anchor:start">Residuals : with error model</text>
<text transform="translate(593.80,665.60) scale(1,1.09)" font-size="10.9" style="text-anchor:start">Residuals : w/o error model</text>
</svg>
</body></html>
